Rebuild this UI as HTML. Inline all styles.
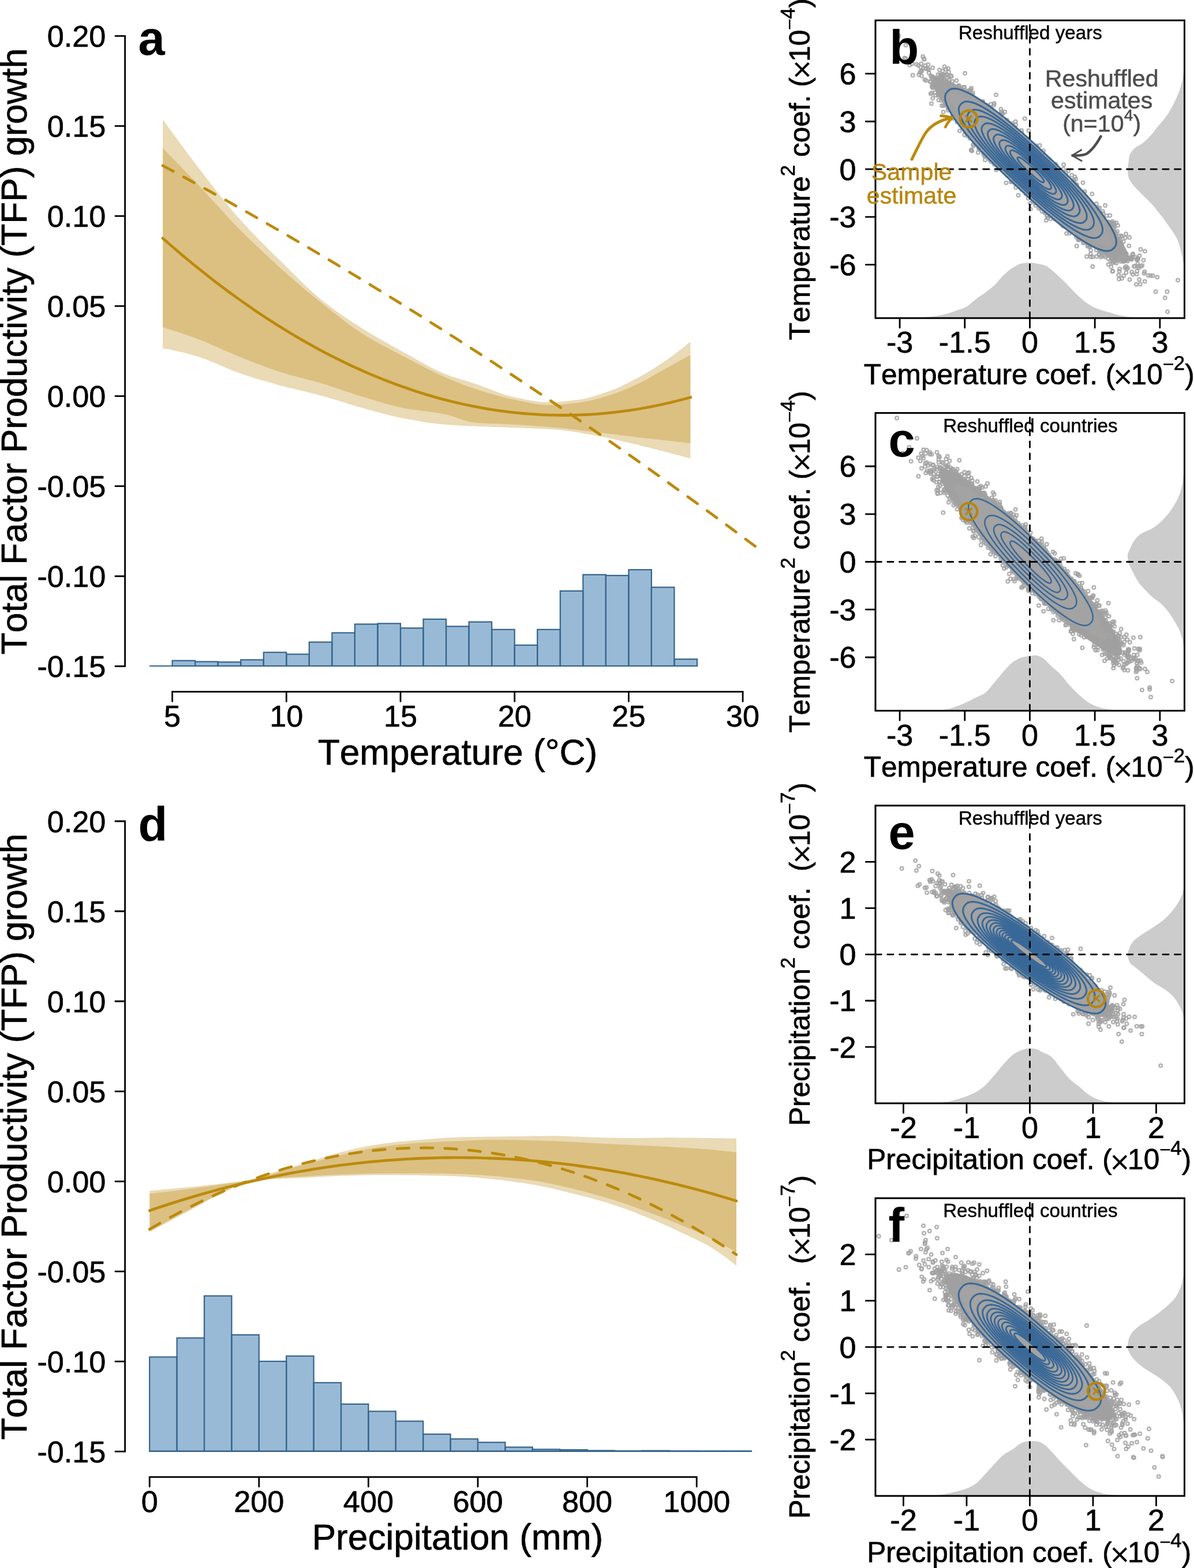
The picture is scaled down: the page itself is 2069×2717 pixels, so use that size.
<!DOCTYPE html>
<html lang="en"><head><meta charset="utf-8"><title>TFP growth vs temperature and precipitation</title>
<style>html,body{margin:0;padding:0;background:#fff}body{width:2069px;height:2717px;overflow:hidden}svg{display:block}text{font-kerning:none;white-space:pre}</style>
</head><body>
<svg xmlns="http://www.w3.org/2000/svg" width="2069" height="2717" viewBox="0 0 2069 2717" font-family='"Liberation Sans", Arial, Helvetica, sans-serif' fill="#000">
<rect width="2069" height="2717" fill="#fff"/>
<g transform="translate(0 0)">
<path d="M282.1 207.1L287.1 214.1L292.1 221L297.1 227.9L302.1 234.8L307.1 241.6L312.1 248.4L317.1 255.1L322.1 261.8L327.1 268.5L332.1 275.1L337.1 281.7L342.1 288.2L347.1 294.7L352 301.2L357 307.7L362 314.2L367 320.7L372 327.1L377 333.5L382 339.8L387 346.1L392 352.3L397 358.4L402 364.4L407 370.2L412 376L417 381.6L422 387.1L427 392.6L432 397.9L437 403.1L442 408.3L447 413.4L452 418.4L457 423.4L462 428.4L467 433.4L472 438.3L477 443.2L481.9 448.1L486.9 453L491.9 458L496.9 463L501.9 468L506.9 473L511.9 478L516.9 482.9L521.9 487.8L526.9 492.7L531.9 497.4L536.9 502.1L541.9 506.6L546.9 511L551.9 515.3L556.9 519.4L561.9 523.4L566.9 527.3L571.9 531.1L576.9 534.8L581.9 538.4L586.9 542L591.9 545.5L596.9 548.9L601.9 552.3L606.9 555.6L611.8 558.9L616.8 562.1L621.8 565.3L626.8 568.5L631.8 571.6L636.8 574.7L641.8 577.8L646.8 580.7L651.8 583.7L656.8 586.6L661.8 589.5L666.8 592.3L671.8 595.1L676.8 597.9L681.8 600.7L686.8 603.4L691.8 606.2L696.8 608.9L701.8 611.7L706.8 614.5L711.8 617.3L716.8 620.1L721.8 623L726.8 625.8L731.8 628.6L736.8 631.4L741.7 634.1L746.7 636.8L751.7 639.3L756.7 641.8L761.7 644.1L766.7 646.3L771.7 648.3L776.7 650.2L781.7 652L786.7 653.6L791.7 655.2L796.7 656.7L801.7 658.2L806.7 659.7L811.7 661.2L816.7 662.8L821.7 664.4L826.7 666.1L831.7 667.9L836.7 669.7L841.7 671.6L846.7 673.6L851.7 675.5L856.7 677.4L861.7 679.3L866.7 681L871.6 682.8L876.6 684.4L881.6 685.8L886.6 687.2L891.6 688.3L896.6 689.4L901.6 690.4L906.6 691.5L911.6 692.5L916.6 693.4L921.6 694.3L926.6 695.1L931.6 695.8L936.6 696.4L941.6 696.8L946.6 697.1L951.6 697.1L956.6 697L961.6 696.8L966.6 696.5L971.6 696.1L976.6 695.6L981.6 695.1L986.6 694.6L991.6 694L996.6 693.3L1001.5 692.7L1006.5 691.9L1011.5 691L1016.5 689.9L1021.5 688.6L1026.5 687.3L1031.5 685.8L1036.5 684.3L1041.5 682.6L1046.5 681L1051.5 679.3L1056.5 677.6L1061.5 675.7L1066.5 673.7L1071.5 671.5L1076.5 669.2L1081.5 666.8L1086.5 664.3L1091.5 661.8L1096.5 659.2L1101.5 656.6L1106.5 653.9L1111.5 651.2L1116.5 648.4L1121.5 645.6L1126.5 642.6L1131.4 639.5L1136.4 636.3L1141.4 633.1L1146.4 629.7L1151.4 626.3L1156.4 622.9L1161.4 619.3L1166.4 615.7L1171.4 611.9L1176.4 608.1L1181.4 604.3L1186.4 600.3L1191.4 596.2L1196.4 592.1L1196.4 794.6L1191.4 793.2L1186.4 791.8L1181.4 790.5L1176.4 789.1L1171.4 787.8L1166.4 786.4L1161.4 785.1L1156.4 783.8L1151.4 782.5L1146.4 781.2L1141.4 779.9L1136.4 778.6L1131.4 777.4L1126.5 776.1L1121.5 774.9L1116.5 773.7L1111.5 772.5L1106.5 771.2L1101.5 770L1096.5 768.8L1091.5 767.6L1086.5 766.4L1081.5 765.2L1076.5 764.1L1071.5 762.9L1066.5 761.7L1061.5 760.6L1056.5 759.5L1051.5 758.5L1046.5 757.5L1041.5 756.5L1036.5 755.5L1031.5 754.6L1026.5 753.7L1021.5 752.8L1016.5 751.9L1011.5 751L1006.5 750.1L1001.5 749.3L996.6 748.5L991.6 747.7L986.6 747L981.6 746.4L976.6 745.8L971.6 745.2L966.6 744.8L961.6 744.4L956.6 744.1L951.6 743.7L946.6 743.5L941.6 743.2L936.6 742.9L931.6 742.7L926.6 742.5L921.6 742.3L916.6 742L911.6 741.8L906.6 741.6L901.6 741.4L896.6 741.3L891.6 741L886.6 740.9L881.6 740.7L876.6 740.5L871.6 740.3L866.7 740.2L861.7 740L856.7 739.9L851.7 739.7L846.7 739.5L841.7 739.4L836.7 739.2L831.7 739L826.7 738.8L821.7 738.6L816.7 738.4L811.7 738.2L806.7 737.9L801.7 737.7L796.7 737.4L791.7 737.1L786.7 736.8L781.7 736.5L776.7 736.1L771.7 735.7L766.7 735.3L761.7 734.8L756.7 734.2L751.7 733.6L746.7 732.9L741.7 732.2L736.8 731.5L731.8 730.7L726.8 729.8L721.8 729L716.8 728.1L711.8 727.2L706.8 726.3L701.8 725.3L696.8 724.4L691.8 723.4L686.8 722.3L681.8 721.2L676.8 720L671.8 718.7L666.8 717.5L661.8 716.2L656.8 714.8L651.8 713.5L646.8 712.1L641.8 710.7L636.8 709.4L631.8 708L626.8 706.6L621.8 705.2L616.8 703.8L611.8 702.3L606.9 700.7L601.9 699.2L596.9 697.6L591.9 696.1L586.9 694.5L581.9 693L576.9 691.4L571.9 689.9L566.9 688.5L561.9 687L556.9 685.6L551.9 684.3L546.9 683L541.9 681.8L536.9 680.5L531.9 679.3L526.9 678.1L521.9 676.9L516.9 675.7L511.9 674.5L506.9 673.3L501.9 672.1L496.9 670.9L491.9 669.6L486.9 668.2L481.9 666.9L477 665.5L472 664.1L467 662.7L462 661.3L457 659.8L452 658.4L447 656.9L442 655.4L437 653.8L432 652.2L427 650.6L422 649L417 647.3L412 645.6L407 643.7L402 641.8L397 639.7L392 637.6L387 635.4L382 633.2L377 631L372 628.8L367 626.7L362 624.7L357 622.7L352 620.9L347.1 619.2L342.1 617.7L337.1 616.2L332.1 614.8L327.1 613.4L322.1 612.1L317.1 610.8L312.1 609.6L307.1 608.5L302.1 607.4L297.1 606.3L292.1 605.3L287.1 604.4L282.1 603.6Z" fill="#B8860B" fill-opacity="0.3"/>
<path d="M282.1 257.1L287.1 262.1L292.1 267.2L297.1 272.3L302.1 277.3L307.1 282.5L312.1 287.6L317.1 292.7L322.1 297.9L327.1 303.1L332.1 308.3L337.1 313.5L342.1 318.7L347.1 324L352 329.3L357 334.7L362 340.2L367 345.7L372 351.1L377 356.6L382 362.1L387 367.6L392 373L397 378.4L402 383.7L407 388.9L412 394.1L417 399.1L422 404.1L427 409.1L432 414L437 418.8L442 423.7L447 428.5L452 433.2L457 437.9L462 442.6L467 447.2L472 451.8L477 456.4L481.9 460.9L486.9 465.4L491.9 469.9L496.9 474.3L501.9 478.7L506.9 483.1L511.9 487.4L516.9 491.7L521.9 496L526.9 500.2L531.9 504.4L536.9 508.6L541.9 512.7L546.9 516.8L551.9 520.8L556.9 524.8L561.9 528.8L566.9 532.8L571.9 536.8L576.9 540.8L581.9 544.7L586.9 548.6L591.9 552.5L596.9 556.3L601.9 560L606.9 563.7L611.8 567.3L616.8 570.8L621.8 574.2L626.8 577.5L631.8 580.6L636.8 583.7L641.8 586.7L646.8 589.6L651.8 592.4L656.8 595.2L661.8 597.9L666.8 600.6L671.8 603.2L676.8 605.8L681.8 608.4L686.8 611L691.8 613.6L696.8 616.2L701.8 618.8L706.8 621.5L711.8 624.1L716.8 626.7L721.8 629.3L726.8 631.9L731.8 634.5L736.8 637.1L741.7 639.6L746.7 642.1L751.7 644.5L756.7 646.9L761.7 649.3L766.7 651.5L771.7 653.7L776.7 655.9L781.7 658L786.7 660.1L791.7 662.2L796.7 664.2L801.7 666.2L806.7 668L811.7 669.9L816.7 671.6L821.7 673.3L826.7 674.9L831.7 676.5L836.7 678.1L841.7 679.6L846.7 681.2L851.7 682.6L856.7 684.1L861.7 685.5L866.7 686.8L871.6 688.1L876.6 689.3L881.6 690.5L886.6 691.6L891.6 692.6L896.6 693.7L901.6 694.7L906.6 695.8L911.6 696.8L916.6 697.8L921.6 698.8L926.6 699.7L931.6 700.4L936.6 701L941.6 701.5L946.6 701.7L951.6 701.8L956.6 701.7L961.6 701.5L966.6 701.3L971.6 700.9L976.6 700.6L981.6 700.1L986.6 699.6L991.6 699.1L996.6 698.6L1001.5 698L1006.5 697.3L1011.5 696.5L1016.5 695.5L1021.5 694.5L1026.5 693.3L1031.5 692L1036.5 690.6L1041.5 689.2L1046.5 687.8L1051.5 686.3L1056.5 684.8L1061.5 683.2L1066.5 681.5L1071.5 679.6L1076.5 677.7L1081.5 675.7L1086.5 673.6L1091.5 671.4L1096.5 669.2L1101.5 666.9L1106.5 664.6L1111.5 662.2L1116.5 659.6L1121.5 656.8L1126.5 654L1131.4 651.1L1136.4 648.2L1141.4 645.4L1146.4 642.6L1151.4 639.9L1156.4 637.1L1161.4 634.4L1166.4 631.6L1171.4 628.8L1176.4 626.1L1181.4 623.3L1186.4 620.5L1191.4 617.8L1196.4 615L1196.4 767.9L1191.4 767.4L1186.4 766.8L1181.4 766.3L1176.4 765.7L1171.4 765.2L1166.4 764.6L1161.4 764.1L1156.4 763.5L1151.4 763L1146.4 762.4L1141.4 761.8L1136.4 761.3L1131.4 760.7L1126.5 760.1L1121.5 759.6L1116.5 759L1111.5 758.4L1106.5 757.8L1101.5 757.2L1096.5 756.6L1091.5 756.1L1086.5 755.4L1081.5 754.8L1076.5 754.2L1071.5 753.6L1066.5 753L1061.5 752.4L1056.5 751.8L1051.5 751.2L1046.5 750.6L1041.5 750L1036.5 749.4L1031.5 748.8L1026.5 748.2L1021.5 747.6L1016.5 747L1011.5 746.4L1006.5 745.8L1001.5 745.2L996.6 744.6L991.6 744L986.6 743.4L981.6 742.8L976.6 742.3L971.6 741.8L966.6 741.3L961.6 740.9L956.6 740.4L951.6 740L946.6 739.6L941.6 739.1L936.6 738.7L931.6 738.4L926.6 738L921.6 737.6L916.6 737.3L911.6 736.9L906.6 736.6L901.6 736.2L896.6 735.9L891.6 735.6L886.6 735.4L881.6 735.1L876.6 734.9L871.6 734.7L866.7 734.5L861.7 734.3L856.7 734.1L851.7 733.9L846.7 733.7L841.7 733.5L836.7 733.2L831.7 732.9L826.7 732.5L821.7 732.1L816.7 731.5L811.7 730.4L806.7 729.1L801.7 727.5L796.7 725.8L791.7 724L786.7 722.3L781.7 720.6L776.7 719.2L771.7 718L766.7 717L761.7 716.1L756.7 715.3L751.7 714.6L746.7 713.9L741.7 713.2L736.8 712.6L731.8 711.9L726.8 711.3L721.8 710.6L716.8 709.9L711.8 709.2L706.8 708.3L701.8 707.4L696.8 706.5L691.8 705.4L686.8 704.2L681.8 703L676.8 701.7L671.8 700.3L666.8 698.9L661.8 697.5L656.8 696L651.8 694.5L646.8 693L641.8 691.5L636.8 690L631.8 688.5L626.8 687L621.8 685.4L616.8 683.9L611.8 682.3L606.9 680.6L601.9 678.9L596.9 677.3L591.9 675.6L586.9 673.9L581.9 672.2L576.9 670.6L571.9 668.9L566.9 667.3L561.9 665.8L556.9 664.2L551.9 662.8L546.9 661.4L541.9 660L536.9 658.7L531.9 657.4L526.9 656.1L521.9 654.8L516.9 653.5L511.9 652.1L506.9 650.8L501.9 649.4L496.9 648L491.9 646.5L486.9 645L481.9 643.4L477 641.7L472 640L467 638.3L462 636.4L457 634.6L452 632.7L447 630.8L442 628.9L437 626.9L432 624.9L427 623L422 621L417 619L412 617L407 614.9L402 612.8L397 610.6L392 608.5L387 606.2L382 604L377 601.8L372 599.6L367 597.4L362 595.2L357 593.1L352 591.1L347.1 589.1L342.1 587.2L337.1 585.3L332.1 583.5L327.1 581.7L322.1 580L317.1 578.2L312.1 576.5L307.1 574.9L302.1 573.3L297.1 571.7L292.1 570.1L287.1 568.6L282.1 567.1Z" fill="#B8860B" fill-opacity="0.3"/>
<g fill="#4682B4" fill-opacity="0.55" stroke="#36648B" stroke-width="2.2" stroke-linejoin="miter">
<rect x="298.6" y="1144.7" width="39.5" height="9.3"/>
<rect x="338.1" y="1146.5" width="39.5" height="7.5"/>
<rect x="377.7" y="1147.2" width="39.5" height="6.8"/>
<rect x="417.2" y="1143.3" width="39.5" height="10.7"/>
<rect x="456.8" y="1130.4" width="39.5" height="23.6"/>
<rect x="496.3" y="1133.6" width="39.5" height="20.4"/>
<rect x="535.8" y="1112.6" width="39.5" height="41.4"/>
<rect x="575.4" y="1096.5" width="39.5" height="57.5"/>
<rect x="614.9" y="1081.5" width="39.5" height="72.5"/>
<rect x="654.5" y="1080.4" width="39.5" height="73.6"/>
<rect x="694" y="1088.3" width="39.5" height="65.7"/>
<rect x="733.5" y="1072.9" width="39.5" height="81.1"/>
<rect x="773.1" y="1085.4" width="39.5" height="68.6"/>
<rect x="812.6" y="1077.6" width="39.5" height="76.4"/>
<rect x="852.2" y="1090.8" width="39.5" height="63.2"/>
<rect x="891.7" y="1117.9" width="39.5" height="36.1"/>
<rect x="931.2" y="1090.8" width="39.5" height="63.2"/>
<rect x="970.8" y="1024" width="39.5" height="130"/>
<rect x="1010.3" y="995.8" width="39.5" height="158.2"/>
<rect x="1049.9" y="997.2" width="39.5" height="156.8"/>
<rect x="1089.4" y="987.2" width="39.5" height="166.8"/>
<rect x="1128.9" y="1017.6" width="39.5" height="136.4"/>
<rect x="1168.5" y="1142.2" width="39.5" height="11.8"/>
</g>
<path d="M259.1 1154H1208" stroke="#36648B" stroke-width="2.2" fill="none"/>
<path d="M282 412.9L293.6 423L305.2 433L316.7 442.8L328.3 452.5L339.9 461.9L351.5 471.2L363.1 480.3L374.6 489.3L386.2 498.1L397.8 506.7L409.4 515.1L421 523.4L432.6 531.5L444.1 539.4L455.7 547.2L467.3 554.8L478.9 562.2L490.5 569.4L502 576.5L513.6 583.4L525.2 590.1L536.8 596.7L548.4 603.1L560 609.3L571.5 615.4L583.1 621.2L594.7 626.9L606.3 632.5L617.9 637.8L629.4 643L641 648.1L652.6 652.9L664.2 657.6L675.8 662.1L687.4 666.5L698.9 670.6L710.5 674.6L722.1 678.5L733.7 682.1L745.3 685.6L756.8 688.9L768.4 692.1L780 695L791.6 697.8L803.2 700.5L814.8 702.9L826.3 705.2L837.9 707.4L849.5 709.3L861.1 711.1L872.7 712.7L884.2 714.1L895.8 715.4L907.4 716.5L919 717.4L930.6 718.2L942.2 718.8L953.7 719.2L965.3 719.4L976.9 719.5L988.5 719.4L1000.1 719.1L1011.6 718.7L1023.2 718.1L1034.8 717.3L1046.4 716.3L1058 715.2L1069.5 713.9L1081.1 712.4L1092.7 710.8L1104.3 709L1115.9 707L1127.5 704.9L1139 702.5L1150.6 700L1162.2 697.4L1173.8 694.5L1185.4 691.5L1196.9 688.4" fill="none" stroke="#BC8A0D" stroke-width="4.8" stroke-linecap="round" stroke-linejoin="round"/>
<path d="M282 287L295 294L308.1 301.1L321.1 308.2L334.1 315.3L347.2 322.5L360.2 329.7L373.2 336.9L386.3 344.1L399.3 351.4L412.3 358.8L425.4 366.1L438.4 373.5L451.4 381L464.5 388.5L477.5 396L490.5 403.5L503.6 411.1L516.6 418.7L529.6 426.3L542.7 434L555.7 441.7L568.7 449.5L581.8 457.3L594.8 465.1L607.8 473L620.9 480.9L633.9 488.8L646.9 496.7L660 504.7L673 512.8L686 520.8L699.1 528.9L712.1 537.1L725.1 545.2L738.2 553.4L751.2 561.7L764.2 569.9L777.3 578.3L790.3 586.6L803.3 595L816.4 603.4L829.4 611.8L842.4 620.3L855.5 628.8L868.5 637.4L881.5 646L894.6 654.6L907.6 663.2L920.6 671.9L933.7 680.7L946.7 689.4L959.7 698.2L972.8 707L985.8 715.9L998.8 724.8L1011.9 733.7L1024.9 742.7L1037.9 751.7L1051 760.8L1064 769.8L1077 778.9L1090.1 788.1L1103.1 797.3L1116.1 806.5L1129.2 815.7L1142.2 825L1155.2 834.3L1168.2 843.7L1181.3 853.1L1194.3 862.5L1207.3 871.9L1220.4 881.4L1233.4 890.9L1246.4 900.5L1259.5 910.1L1272.5 919.7L1285.5 929.4L1298.6 939.1L1311.6 948.8" fill="none" stroke="#BC8A0D" stroke-width="4.8" stroke-linecap="round" stroke-linejoin="round" stroke-dasharray="20.7 20.7"/>
<g stroke="#000" stroke-width="2.8" stroke-linecap="round" fill="none">
<path d="M216.6 62.3V1154.5"/>
<path d="M199.9 62.3H216.6M199.9 218.3H216.6M199.9 374.3H216.6M199.9 530.4H216.6M199.9 686.4H216.6M199.9 842.4H216.6M199.9 998.5H216.6M199.9 1154.5H216.6"/>
<path d="M298.6 1198.7H1287.1"/>
<path d="M298.6 1198.7V1215.4M496.3 1198.7V1215.4M694 1198.7V1215.4M891.7 1198.7V1215.4M1089.4 1198.7V1215.4M1287.1 1198.7V1215.4"/>
</g>
<g font-size="52.2" text-anchor="end" stroke="#000" stroke-width="0.7" stroke-linejoin="round">
<text x="183.4" y="81">0.20</text>
<text x="183.4" y="237">0.15</text>
<text x="183.4" y="393">0.10</text>
<text x="183.4" y="549.1">0.05</text>
<text x="183.4" y="705.1">0.00</text>
<text x="183.4" y="861.1">-0.05</text>
<text x="183.4" y="1017.2">-0.10</text>
<text x="183.4" y="1173.2">-0.15</text>
</g>
<g font-size="52.2" text-anchor="middle" stroke="#000" stroke-width="0.7" stroke-linejoin="round">
<text x="298.6" y="1259.2">5</text>
<text x="496.3" y="1259.2">10</text>
<text x="694" y="1259.2">15</text>
<text x="891.7" y="1259.2">20</text>
<text x="1089.4" y="1259.2">25</text>
<text x="1287.1" y="1259.2">30</text>
</g>
<text x="792.9" y="1324.5" font-size="62.2" text-anchor="middle" stroke="#000" stroke-width="0.7" stroke-linejoin="round">Temperature (°C)</text>
<text transform="translate(45.6 608.9) rotate(-90)" font-size="62.2" text-anchor="middle" stroke="#000" stroke-width="0.7" stroke-linejoin="round">Total Factor Productivity (TFP) growth</text>
<text x="239.4" y="94.8" font-size="83" font-weight="bold">a</text>
</g>
<g transform="translate(0 1360.7)">
<path d="M259.3 702.6L264.3 702.2L269.3 701.7L274.3 701.3L279.3 700.9L284.3 700.4L289.4 699.9L294.4 699.5L299.4 699L304.4 698.5L309.4 698L314.4 697.6L319.4 697.1L324.4 696.6L329.4 696.1L334.4 695.5L339.4 695L344.4 694.5L349.5 694L354.5 693.4L359.5 692.9L364.5 692.3L369.5 691.8L374.5 691.2L379.5 690.6L384.5 690L389.5 689.5L394.5 688.9L399.5 688.3L404.5 687.7L409.6 687.1L414.6 686.6L419.6 685.9L424.6 685.2L429.6 684.4L434.6 683.3L439.6 682L444.6 680.5L449.6 678.8L454.6 677.1L459.6 675.4L464.6 673.9L469.7 672.4L474.7 670.9L479.7 669.4L484.7 667.9L489.7 666.4L494.7 664.9L499.7 663.4L504.7 661.9L509.7 660.4L514.7 658.9L519.7 657.4L524.7 655.9L529.8 654.4L534.8 652.9L539.8 651.3L544.8 649.7L549.8 648.1L554.8 646.5L559.8 644.9L564.8 643.3L569.8 641.8L574.8 640.3L579.8 638.8L584.8 637.4L589.9 636L594.9 634.7L599.9 633.5L604.9 632.4L609.9 631.2L614.9 630L619.9 628.9L624.9 627.8L629.9 626.8L634.9 625.8L639.9 624.8L644.9 623.9L650 623L655 622.2L660 621.5L665 620.8L670 620.1L675 619.5L680 619L685 618.4L690 617.9L695 617.4L700 616.9L705 616.4L710.1 616L715.1 615.6L720.1 615.1L725.1 614.7L730.1 614.3L735.1 613.9L740.1 613.4L745.1 613L750.1 612.6L755.1 612.1L760.1 611.7L765.1 611.3L770.2 611L775.2 610.7L780.2 610.4L785.2 610.2L790.2 610L795.2 609.9L800.2 609.7L805.2 609.6L810.2 609.5L815.2 609.4L820.2 609.3L825.2 609.2L830.3 609.1L835.3 609L840.3 609L845.3 608.9L850.3 608.8L855.3 608.8L860.3 608.7L865.3 608.6L870.3 608.6L875.3 608.5L880.3 608.5L885.3 608.4L890.4 608.3L895.4 608.3L900.4 608.2L905.4 608.1L910.4 608.1L915.4 608L920.4 607.9L925.4 607.9L930.4 607.8L935.4 607.7L940.4 607.7L945.4 607.7L950.5 607.6L955.5 607.6L960.5 607.6L965.5 607.6L970.5 607.7L975.5 607.9L980.5 608L985.5 608.2L990.5 608.5L995.5 608.7L1000.5 608.9L1005.5 609.2L1010.6 609.4L1015.6 609.6L1020.6 609.8L1025.6 610L1030.6 610.1L1035.6 610.2L1040.6 610.4L1045.6 610.5L1050.6 610.6L1055.6 610.8L1060.6 610.9L1065.6 611L1070.7 611.1L1075.7 611.2L1080.7 611.2L1085.7 611.3L1090.7 611.3L1095.7 611.3L1100.7 611.3L1105.7 611.2L1110.7 611.2L1115.7 611.1L1120.7 611L1125.7 611L1130.8 610.9L1135.8 610.8L1140.8 610.7L1145.8 610.7L1150.8 610.6L1155.8 610.6L1160.8 610.6L1165.8 610.6L1170.8 610.6L1175.8 610.7L1180.8 610.7L1185.8 610.8L1190.9 610.8L1195.9 610.9L1200.9 610.9L1205.9 611L1210.9 611.1L1215.9 611.2L1220.9 611.2L1225.9 611.3L1230.9 611.4L1235.9 611.4L1240.9 611.5L1245.9 611.6L1251 611.6L1256 611.7L1261 611.8L1266 611.8L1271 611.9L1276 612L1276 832.6L1271 828.5L1266 824.5L1261 820.6L1256 816.8L1251 813.2L1245.9 809.7L1240.9 806.4L1235.9 803.2L1230.9 800.1L1225.9 797.1L1220.9 794.4L1215.9 791.8L1210.9 789.3L1205.9 786.9L1200.9 784.6L1195.9 782.2L1190.9 779.8L1185.8 777.5L1180.8 775.1L1175.8 772.8L1170.8 770.4L1165.8 768.1L1160.8 765.8L1155.8 763.5L1150.8 761.3L1145.8 759.1L1140.8 756.9L1135.8 754.8L1130.8 752.7L1125.7 750.6L1120.7 748.6L1115.7 746.5L1110.7 744.5L1105.7 742.5L1100.7 740.6L1095.7 738.6L1090.7 736.7L1085.7 734.9L1080.7 733L1075.7 731.3L1070.7 729.5L1065.6 727.8L1060.6 726.2L1055.6 724.6L1050.6 723.1L1045.6 721.6L1040.6 720.1L1035.6 718.7L1030.6 717.3L1025.6 715.9L1020.6 714.6L1015.6 713.3L1010.6 712L1005.5 710.7L1000.5 709.4L995.5 708.2L990.5 706.9L985.5 705.7L980.5 704.4L975.5 703.2L970.5 702L965.5 700.8L960.5 699.6L955.5 698.4L950.5 697.3L945.4 696.2L940.4 695.2L935.4 694.2L930.4 693.3L925.4 692.4L920.4 691.5L915.4 690.7L910.4 689.9L905.4 689.1L900.4 688.4L895.4 687.7L890.4 687L885.3 686.3L880.3 685.6L875.3 685L870.3 684.4L865.3 683.9L860.3 683.3L855.3 682.8L850.3 682.3L845.3 681.8L840.3 681.3L835.3 680.8L830.3 680.4L825.2 679.9L820.2 679.5L815.2 679.1L810.2 678.7L805.2 678.4L800.2 678.1L795.2 677.8L790.2 677.6L785.2 677.4L780.2 677.2L775.2 677.1L770.2 676.9L765.1 676.8L760.1 676.6L755.1 676.5L750.1 676.4L745.1 676.3L740.1 676.2L735.1 676.1L730.1 676L725.1 675.9L720.1 675.8L715.1 675.8L710.1 675.7L705 675.6L700 675.6L695 675.5L690 675.4L685 675.4L680 675.4L675 675.3L670 675.3L665 675.3L660 675.3L655 675.3L650 675.4L644.9 675.4L639.9 675.5L634.9 675.6L629.9 675.7L624.9 675.8L619.9 676L614.9 676.1L609.9 676.2L604.9 676.4L599.9 676.5L594.9 676.7L589.9 676.8L584.8 677L579.8 677.2L574.8 677.5L569.8 677.8L564.8 678L559.8 678.3L554.8 678.6L549.8 678.9L544.8 679.2L539.8 679.5L534.8 679.8L529.8 680L524.7 680.3L519.7 680.5L514.7 680.7L509.7 680.9L504.7 681.1L499.7 681.3L494.7 681.5L489.7 681.8L484.7 682L479.7 682.3L474.7 682.5L469.7 682.9L464.6 683.2L459.6 683.6L454.6 684.1L449.6 684.6L444.6 685.2L439.6 685.9L434.6 686.8L429.6 687.7L424.6 689L419.6 690.7L414.6 692.7L409.6 695L404.5 697.3L399.5 699.7L394.5 702L389.5 704.3L384.5 706.8L379.5 709.3L374.5 711.9L369.5 714.5L364.5 717.2L359.5 719.9L354.5 722.7L349.5 725.4L344.4 728.2L339.4 730.9L334.4 733.6L329.4 736.3L324.4 739L319.4 741.7L314.4 744.3L309.4 747L304.4 749.7L299.4 752.4L294.4 755.2L289.4 757.9L284.3 760.6L279.3 763.3L274.3 766.1L269.3 768.8L264.3 771.5L259.3 774.3Z" fill="#B8860B" fill-opacity="0.3"/>
<path d="M259.3 707.6L264.3 707.1L269.3 706.5L274.3 706L279.3 705.4L284.3 704.8L289.4 704.3L294.4 703.7L299.4 703.1L304.4 702.5L309.4 701.9L314.4 701.3L319.4 700.6L324.4 700L329.4 699.4L334.4 698.7L339.4 698.1L344.4 697.4L349.5 696.7L354.5 696L359.5 695.3L364.5 694.6L369.5 693.9L374.5 693.2L379.5 692.4L384.5 691.7L389.5 691L394.5 690.3L399.5 689.6L404.5 689L409.6 688.3L414.6 687.7L419.6 687L424.6 686.2L429.6 685.4L434.6 684.3L439.6 683.1L444.6 681.7L449.6 680.1L454.6 678.6L459.6 677.1L464.6 675.6L469.7 674.2L474.7 672.7L479.7 671.2L484.7 669.8L489.7 668.3L494.7 666.8L499.7 665.3L504.7 663.8L509.7 662.4L514.7 660.9L519.7 659.5L524.7 658.1L529.8 656.7L534.8 655.3L539.8 653.9L544.8 652.5L549.8 651.2L554.8 649.8L559.8 648.5L564.8 647.2L569.8 645.9L574.8 644.6L579.8 643.3L584.8 642.1L589.9 640.9L594.9 639.7L599.9 638.6L604.9 637.4L609.9 636.3L614.9 635.2L619.9 634.1L624.9 633L629.9 631.9L634.9 630.9L639.9 629.9L644.9 628.9L650 628L655 627.2L660 626.5L665 625.8L670 625.1L675 624.5L680 623.9L685 623.3L690 622.7L695 622.2L700 621.7L705 621.2L710.1 620.8L715.1 620.4L720.1 620L725.1 619.6L730.1 619.3L735.1 619L740.1 618.7L745.1 618.5L750.1 618.2L755.1 618L760.1 617.8L765.1 617.6L770.2 617.4L775.2 617.2L780.2 617L785.2 616.8L790.2 616.6L795.2 616.4L800.2 616.2L805.2 616L810.2 615.7L815.2 615.5L820.2 615.3L825.2 615.1L830.3 614.9L835.3 614.7L840.3 614.6L845.3 614.5L850.3 614.4L855.3 614.3L860.3 614.3L865.3 614.3L870.3 614.3L875.3 614.4L880.3 614.4L885.3 614.5L890.4 614.6L895.4 614.7L900.4 614.8L905.4 614.9L910.4 615.1L915.4 615.2L920.4 615.3L925.4 615.5L930.4 615.6L935.4 615.8L940.4 616L945.4 616.1L950.5 616.3L955.5 616.5L960.5 616.6L965.5 616.8L970.5 617L975.5 617.2L980.5 617.5L985.5 617.7L990.5 618L995.5 618.3L1000.5 618.6L1005.5 618.8L1010.6 619.1L1015.6 619.4L1020.6 619.7L1025.6 619.9L1030.6 620.2L1035.6 620.4L1040.6 620.7L1045.6 620.9L1050.6 621.2L1055.6 621.4L1060.6 621.7L1065.6 621.9L1070.7 622.2L1075.7 622.4L1080.7 622.7L1085.7 622.9L1090.7 623.2L1095.7 623.4L1100.7 623.7L1105.7 623.9L1110.7 624.1L1115.7 624.4L1120.7 624.6L1125.7 624.8L1130.8 625.1L1135.8 625.3L1140.8 625.6L1145.8 625.8L1150.8 626.1L1155.8 626.4L1160.8 626.6L1165.8 626.9L1170.8 627.2L1175.8 627.5L1180.8 627.8L1185.8 628.1L1190.9 628.4L1195.9 628.8L1200.9 629.1L1205.9 629.4L1210.9 629.8L1215.9 630.2L1220.9 630.5L1225.9 630.9L1230.9 631.4L1235.9 631.8L1240.9 632.3L1245.9 632.7L1251 633.2L1256 633.8L1261 634.3L1266 634.9L1271 635.4L1276 636L1276 809.3L1271 806.3L1266 803.4L1261 800.6L1256 797.8L1251 795.1L1245.9 792.4L1240.9 789.8L1235.9 787.2L1230.9 784.7L1225.9 782.2L1220.9 779.8L1215.9 777.5L1210.9 775.2L1205.9 773L1200.9 770.8L1195.9 768.7L1190.9 766.6L1185.8 764.5L1180.8 762.4L1175.8 760.3L1170.8 758.2L1165.8 756.2L1160.8 754.2L1155.8 752.2L1150.8 750.2L1145.8 748.3L1140.8 746.3L1135.8 744.4L1130.8 742.5L1125.7 740.6L1120.7 738.8L1115.7 736.9L1110.7 735.1L1105.7 733.2L1100.7 731.4L1095.7 729.6L1090.7 727.8L1085.7 726.1L1080.7 724.3L1075.7 722.6L1070.7 721L1065.6 719.4L1060.6 717.8L1055.6 716.3L1050.6 714.8L1045.6 713.3L1040.6 711.8L1035.6 710.4L1030.6 709L1025.6 707.6L1020.6 706.2L1015.6 704.9L1010.6 703.6L1005.5 702.3L1000.5 701.1L995.5 699.8L990.5 698.6L985.5 697.4L980.5 696.3L975.5 695.1L970.5 693.9L965.5 692.8L960.5 691.7L955.5 690.6L950.5 689.5L945.4 688.5L940.4 687.6L935.4 686.7L930.4 685.9L925.4 685.1L920.4 684.4L915.4 683.7L910.4 683L905.4 682.3L900.4 681.7L895.4 681.1L890.4 680.5L885.3 680L880.3 679.5L875.3 679L870.3 678.5L865.3 678L860.3 677.6L855.3 677.2L850.3 676.8L845.3 676.4L840.3 676L835.3 675.6L830.3 675.3L825.2 674.9L820.2 674.6L815.2 674.3L810.2 674L805.2 673.8L800.2 673.6L795.2 673.4L790.2 673.3L785.2 673.2L780.2 673.1L775.2 673L770.2 672.9L765.1 672.9L760.1 672.8L755.1 672.7L750.1 672.7L745.1 672.7L740.1 672.6L735.1 672.6L730.1 672.6L725.1 672.6L720.1 672.6L715.1 672.6L710.1 672.6L705 672.6L700 672.6L695 672.6L690 672.6L685 672.6L680 672.6L675 672.6L670 672.6L665 672.6L660 672.6L655 672.6L650 672.7L644.9 672.8L639.9 672.9L634.9 673L629.9 673.2L624.9 673.3L619.9 673.5L614.9 673.7L609.9 673.8L604.9 674L599.9 674.2L594.9 674.4L589.9 674.5L584.8 674.7L579.8 675L574.8 675.2L569.8 675.4L564.8 675.7L559.8 675.9L554.8 676.2L549.8 676.5L544.8 676.8L539.8 677L534.8 677.3L529.8 677.6L524.7 677.9L519.7 678.2L514.7 678.4L509.7 678.7L504.7 679L499.7 679.3L494.7 679.6L489.7 679.9L484.7 680.3L479.7 680.6L474.7 681L469.7 681.4L464.6 681.9L459.6 682.4L454.6 682.9L449.6 683.6L444.6 684.3L439.6 685.1L434.6 686.1L429.6 687.1L424.6 688.4L419.6 690.1L414.6 692.1L409.6 694.2L404.5 696.5L399.5 698.7L394.5 701L389.5 703.2L384.5 705.6L379.5 708.1L374.5 710.6L369.5 713.2L364.5 715.8L359.5 718.5L354.5 721.2L349.5 723.9L344.4 726.6L339.4 729.3L334.4 732L329.4 734.6L324.4 737.3L319.4 739.9L314.4 742.6L309.4 745.3L304.4 747.9L299.4 750.6L294.4 753.4L289.4 756.1L284.3 758.8L279.3 761.5L274.3 764.3L269.3 767.1L264.3 769.8L259.3 772.6Z" fill="#B8860B" fill-opacity="0.3"/>
<g fill="#4682B4" fill-opacity="0.55" stroke="#36648B" stroke-width="2.2" stroke-linejoin="miter">
<rect x="259.2" y="990.7" width="47.4" height="163.3"/>
<rect x="306.6" y="957.7" width="47.4" height="196.3"/>
<rect x="354" y="884.8" width="47.4" height="269.2"/>
<rect x="401.4" y="952.3" width="47.4" height="201.7"/>
<rect x="448.8" y="998.2" width="47.4" height="155.8"/>
<rect x="496.2" y="989" width="47.4" height="165"/>
<rect x="543.6" y="1035.2" width="47.4" height="118.8"/>
<rect x="591" y="1072.3" width="47.4" height="81.7"/>
<rect x="638.4" y="1084.8" width="47.4" height="69.2"/>
<rect x="685.8" y="1101.9" width="47.4" height="52.1"/>
<rect x="733.2" y="1124.4" width="47.4" height="29.6"/>
<rect x="780.6" y="1132.7" width="47.4" height="21.3"/>
<rect x="828" y="1138.6" width="47.4" height="15.4"/>
<rect x="875.4" y="1146.9" width="47.4" height="7.1"/>
<rect x="922.8" y="1150.7" width="47.4" height="3.3"/>
<rect x="970.2" y="1151.5" width="47.4" height="2.5"/>
<rect x="1017.6" y="1152.8" width="47.4" height="1.2"/>
<rect x="1065" y="1153.4" width="47.4" height="0.6"/>
<rect x="1112.4" y="1153" width="47.4" height="1"/>
<rect x="1159.8" y="1153.6" width="47.4" height="0.4"/>
<rect x="1207.2" y="1153.7" width="47.4" height="0.3"/>
<rect x="1254.6" y="1153.7" width="47.4" height="0.3"/>
</g>
<path d="M259.2 1154H1302" stroke="#36648B" stroke-width="2.2" fill="none"/>
<path d="M259.2 737L272.1 732.6L284.9 728.4L297.8 724.2L310.7 720.2L323.6 716.2L336.4 712.4L349.3 708.7L362.2 705L375 701.5L387.9 698.1L400.8 694.8L413.7 691.6L426.5 688.5L439.4 685.5L452.3 682.6L465.1 679.9L478 677.2L490.9 674.6L503.8 672.2L516.6 669.8L529.5 667.6L542.4 665.5L555.2 663.4L568.1 661.5L581 659.7L593.9 658L606.7 656.4L619.6 654.9L632.5 653.5L645.3 652.2L658.2 651.1L671.1 650L683.9 649.1L696.8 648.2L709.7 647.5L722.6 646.8L735.4 646.3L748.3 645.9L761.2 645.5L774 645.3L786.9 645.2L799.8 645.2L812.7 645.3L825.5 645.5L838.4 645.9L851.3 646.3L864.1 646.8L877 647.5L889.9 648.2L902.8 649.1L915.6 650L928.5 651.1L941.4 652.3L954.2 653.6L967.1 654.9L980 656.4L992.9 658L1005.7 659.8L1018.6 661.6L1031.5 663.5L1044.3 665.5L1057.2 667.6L1070.1 669.9L1083 672.2L1095.8 674.7L1108.7 677.3L1121.6 679.9L1134.4 682.7L1147.3 685.6L1160.2 688.6L1173.1 691.7L1185.9 694.9L1198.8 698.2L1211.7 701.6L1224.5 705.1L1237.4 708.7L1250.3 712.5L1263.2 716.3L1276 720.3" fill="none" stroke="#BC8A0D" stroke-width="4.8" stroke-linecap="round" stroke-linejoin="round"/>
<path d="M259.2 769.3L272.1 761.8L284.9 754.4L297.8 747.3L310.7 740.3L323.6 733.6L336.4 727.1L349.3 720.8L362.2 714.7L375 708.8L387.9 703.1L400.8 697.6L413.7 692.4L426.5 687.3L439.4 682.5L452.3 677.8L465.1 673.4L478 669.2L490.9 665.1L503.8 661.3L516.6 657.7L529.5 654.3L542.4 651.1L555.2 648.2L568.1 645.4L581 642.8L593.9 640.5L606.7 638.3L619.6 636.4L632.5 634.7L645.3 633.1L658.2 631.8L671.1 630.7L683.9 629.8L696.8 629.1L709.7 628.6L722.6 628.4L735.4 628.3L748.3 628.4L761.2 628.8L774 629.3L786.9 630.1L799.8 631.1L812.7 632.3L825.5 633.7L838.4 635.3L851.3 637.1L864.1 639.1L877 641.3L889.9 643.7L902.8 646.4L915.6 649.2L928.5 652.3L941.4 655.5L954.2 659L967.1 662.7L980 666.5L992.9 670.6L1005.7 674.9L1018.6 679.4L1031.5 684.2L1044.3 689.1L1057.2 694.2L1070.1 699.6L1083 705.1L1095.8 710.9L1108.7 716.8L1121.6 723L1134.4 729.4L1147.3 736L1160.2 742.8L1173.1 749.8L1185.9 757L1198.8 764.4L1211.7 772L1224.5 779.9L1237.4 787.9L1250.3 796.2L1263.2 804.6L1276 813.3" fill="none" stroke="#BC8A0D" stroke-width="4.8" stroke-linecap="round" stroke-linejoin="round" stroke-dasharray="20.7 20.7"/>
<g stroke="#000" stroke-width="2.8" stroke-linecap="round" fill="none">
<path d="M216.6 62.3V1154.5"/>
<path d="M199.9 62.3H216.6M199.9 218.3H216.6M199.9 374.3H216.6M199.9 530.4H216.6M199.9 686.4H216.6M199.9 842.4H216.6M199.9 998.5H216.6M199.9 1154.5H216.6"/>
<path d="M259.2 1198.7H1207.2"/>
<path d="M259.2 1198.7V1215.4M448.8 1198.7V1215.4M638.4 1198.7V1215.4M828 1198.7V1215.4M1017.6 1198.7V1215.4M1207.2 1198.7V1215.4"/>
</g>
<g font-size="52.2" text-anchor="end" stroke="#000" stroke-width="0.7" stroke-linejoin="round">
<text x="183.4" y="81">0.20</text>
<text x="183.4" y="237">0.15</text>
<text x="183.4" y="393">0.10</text>
<text x="183.4" y="549.1">0.05</text>
<text x="183.4" y="705.1">0.00</text>
<text x="183.4" y="861.1">-0.05</text>
<text x="183.4" y="1017.2">-0.10</text>
<text x="183.4" y="1173.2">-0.15</text>
</g>
<g font-size="52.2" text-anchor="middle" stroke="#000" stroke-width="0.7" stroke-linejoin="round">
<text x="259.2" y="1259.2">0</text>
<text x="448.8" y="1259.2">200</text>
<text x="638.4" y="1259.2">400</text>
<text x="828" y="1259.2">600</text>
<text x="1017.6" y="1259.2">800</text>
<text x="1207.2" y="1259.2">1000</text>
</g>
<text x="792.9" y="1324.5" font-size="62.2" text-anchor="middle" stroke="#000" stroke-width="0.7" stroke-linejoin="round">Precipitation (mm)</text>
<text transform="translate(45.6 608.9) rotate(-90)" font-size="62.2" text-anchor="middle" stroke="#000" stroke-width="0.7" stroke-linejoin="round">Total Factor Productivity (TFP) growth</text>
<text x="239.6" y="96" font-size="83" font-weight="bold">d</text>
</g>
<g transform="translate(0 0)">
<path d="M1585.3 551.2L1585.3 550.5L1588.3 550.5L1591.3 550.3L1594.3 550.2L1597.3 550L1600.3 549.8L1603.3 549.6L1606.3 549.4L1609.3 549.1L1612.3 548.9L1615.3 548.5L1618.3 548.2L1621.3 547.8L1624.3 547.3L1627.3 546.8L1630.3 546.2L1633.3 545.6L1636.4 544.9L1639.4 544.1L1642.4 543.3L1645.4 542.4L1648.4 541.3L1651.4 540.3L1654.4 539.2L1657.4 538.1L1660.4 537.1L1663.4 536.1L1666.4 535.2L1669.4 534.1L1672.4 532.8L1675.4 531.3L1678.4 529.1L1681.4 526.6L1684.4 523.9L1687.4 521.3L1690.4 518.9L1693.4 516.7L1696.4 514.6L1699.4 512.6L1702.4 510.5L1705.4 508.4L1708.4 506.2L1711.4 503.9L1714.4 501.6L1717.4 499.2L1720.4 496.7L1723.4 494L1726.4 490.8L1729.4 487.4L1732.5 483.8L1735.5 480.4L1738.5 477.2L1741.5 474.4L1744.5 471.7L1747.5 469.2L1750.5 466.8L1753.5 464.7L1756.5 462.9L1759.5 461.2L1762.5 459.6L1765.5 458.1L1768.5 457L1771.5 456.3L1774.5 456L1777.5 455.6L1780.5 455.4L1783.5 455.3L1786.5 455.3L1789.5 455.6L1792.5 456L1795.5 456.5L1798.5 457L1801.5 457.5L1804.5 458.2L1807.5 459L1810.5 459.9L1813.5 461.3L1816.5 463.3L1819.5 465.6L1822.5 467.9L1825.5 470.4L1828.5 473.1L1831.6 475.9L1834.6 478.8L1837.6 481.6L1840.6 484.5L1843.6 487.5L1846.6 490.6L1849.6 493.6L1852.6 496.7L1855.6 499.7L1858.6 502.8L1861.6 505.9L1864.6 508.9L1867.6 511.9L1870.6 514.6L1873.6 517.3L1876.6 519.9L1879.6 522.4L1882.6 524.7L1885.6 526.7L1888.6 528.6L1891.6 530.3L1894.6 531.9L1897.6 533.3L1900.6 534.6L1903.6 535.8L1906.6 536.8L1909.6 537.7L1912.6 538.5L1915.6 539.4L1918.6 540.2L1921.6 541.1L1924.6 542.1L1927.7 543L1930.7 544L1933.7 544.8L1936.7 545.6L1939.7 546.2L1942.7 546.9L1945.7 547.5L1948.7 548L1951.7 548.5L1954.7 549L1957.7 549.4L1960.7 549.8L1963.7 550.2L1966.7 550.4L1969.7 550.6L1972.7 550.8L1975.7 551L1978.7 551.1L1981.7 551.2L1984.7 551.2L1984.7 551.2Z" fill="#CCC"/>
<path d="M2052.5 102.1L2052.5 102.1L2052.5 105.1L2052.3 108.1L2052.2 111.1L2052 114.1L2051.7 117.1L2051.4 120.1L2051.1 123.1L2050.8 126.2L2050.5 129.2L2050 132.2L2049.5 135.2L2048.9 138.2L2048.3 141.2L2047.5 144.2L2046.8 147.2L2046 150.2L2045.1 153.2L2044.1 156.2L2043 159.2L2041.8 162.2L2040.5 165.2L2039.2 168.2L2037.8 171.2L2036.4 174.2L2035 177.2L2033.5 180.2L2032 183.2L2030.4 186.2L2028.7 189.3L2026.9 192.3L2025.1 195.3L2023.2 198.3L2021.1 201.3L2018.9 204.3L2016.5 207.3L2014 210.3L2011.5 213.3L2008.9 216.3L2006.4 219.3L2003.9 222.3L2001.6 225.3L1999.3 228.3L1996.9 231.3L1994.3 234.3L1991.6 237.3L1988.8 240.3L1985.7 243.3L1982.3 246.3L1977.9 249.4L1972.8 252.4L1967.9 255.4L1964.3 258.4L1961.8 261.4L1959.7 264.4L1958.1 267.4L1957.1 270.4L1956.5 273.4L1956.1 276.4L1955.7 279.4L1955.4 282.4L1954.9 285.4L1954.5 288.4L1954.1 291.4L1953.9 294.4L1954.1 297.4L1954.4 300.4L1954.8 303.4L1955.4 306.4L1956.4 309.4L1957.9 312.5L1959.8 315.5L1961.9 318.5L1964.2 321.5L1966.9 324.5L1969.8 327.5L1972.7 330.5L1975.6 333.5L1978.6 336.5L1981.7 339.5L1984.7 342.5L1987.8 345.5L1990.9 348.5L1993.9 351.5L1996.7 354.5L1999.3 357.5L2001.7 360.5L2004 363.5L2006.3 366.5L2008.8 369.5L2011.2 372.5L2013.6 375.6L2016 378.6L2018.1 381.6L2020.2 384.6L2022.3 387.6L2024.4 390.6L2026.5 393.6L2028.7 396.6L2030.8 399.6L2032.8 402.6L2034.8 405.6L2036.7 408.6L2038.5 411.6L2040 414.6L2041.2 417.6L2042.3 420.6L2043.3 423.6L2044.2 426.6L2045 429.6L2045.8 432.6L2046.5 435.6L2047.2 438.7L2047.9 441.7L2048.6 444.7L2049.2 447.7L2049.9 450.7L2050.4 453.7L2050.9 456.7L2051.3 459.7L2051.5 462.7L2051.7 465.7L2051.9 468.7L2052.1 471.7L2052.2 474.7L2052.3 477.7L2052.4 480.7L2052.5 483.7L2052.5 486.7L2052.5 486.7Z" fill="#CCC"/>
<ellipse rx="231.4" ry="35.4" transform="translate(1786 294.2) rotate(43.3)" fill="#A3A3A3"/>
<marker id="m1" markerWidth="12" markerHeight="12" refX="6" refY="6" markerUnits="userSpaceOnUse" overflow="visible"><circle cx="6" cy="6" r="2.8" fill="none" stroke="#A0A0A0" stroke-opacity="0.8" stroke-width="2.5"/></marker>
<polyline fill="none" stroke="none" marker-start="url(#m1)" marker-mid="url(#m1)" marker-end="url(#m1)" points="1816.5,364.6 1839,298.4 1627.4,153.7 1943.3,409.2 1672.1,127 1584.3,90.5 1656.1,151.3 1781.8,343.4 1841.7,383.1 1790.6,341.2 1970.3,469.5 1916.6,390.5 1935.4,445.5 1836.8,379.9 1704,254.9 1661.2,148.2 1733.1,198.2 1888,428.1 1913.9,388.2 1971.6,461.2 1935.4,450.4 1993.8,477.5 1730.8,201.8 1920.3,448.1 1634.8,146.3 1915.3,435.3 1650.4,141 1914.4,436 1634.7,194 1700.5,182.3 1820.4,369.6 1636.8,172.7 1722.4,198.5 1825.5,373.4 1627,154.8 1812.4,361 1603.3,113.5 1932,453.8 1782.2,240.6 1688.6,176.3 1620.3,160.4 1918.8,433.3 1942.2,452.9 1892.7,363.1 1785.3,338.6 1637.3,161.1 1922,438.1 1829.4,379.6 1861.3,315.3 1930.5,434 1859.5,321.7 1918.5,395 1645.2,152.2 1889.8,425.3 1882.6,341.2 1690.2,242.4 1625.8,161.3 1640.1,157 1841.6,383.9 1741.1,193.9 1802.9,263.1 1672.5,156.8 1839.9,388.6 1939,483.6 1923.4,400.4 1928.2,469.8 1886.1,418 1949.2,463.7 1806.3,270.5 1948.4,450.7 1815.9,362.3 1968,446.1 1830.3,293.7 1632.5,129.2 1934.3,386 1864.4,321 1929.4,417.3 2018.8,516.1 1656.7,152.5 1881.5,344.3 1889.1,352.8 1922.8,434.8 1750.5,303.7 1842.4,391.8 1629.7,148.6 1910,383 1874.4,408.1 1709,186.9 1724.8,277.7 1607.8,119 1661.9,148.8 1668.3,160 1880.8,411.6 1648.4,150.6 1890.7,356.2 1645,158.2 2002.6,505.4 1789.5,344.2 1907,431.4 1870,415.6 1939.7,470.1 1794.2,258.8 1784.8,336.4 1707.6,270.2 1902.8,428.3 1914,389.3 1623.6,148.3 1756.1,226.7 1909.3,433.5 1836.3,297.4 1926,436.2 1906.7,433.4 1933.9,426.3 1684.3,261.6 1905.3,374.9 1819.6,365.8 1807.5,267.6 1720.8,192.6 1650.3,150.6 1650.7,147.2 1723.3,277.9 1957.2,411.4 1706.8,186.5 2022.5,505.4 1928.2,394.6 1722.9,281.4 1814.1,373.7 1881.2,349.3 1911,382.2 1644.8,184.6 1907,371.4 1878,411.4 1678.2,168.7 1952.1,466 1870.5,412.8 1707,257.7 1653.2,193 1951.8,440.8 1731.2,289 1820.8,279.6 1713.4,267.4 1852.3,390.2 1764.6,338.4 1688.3,171.2 1929.5,395.2 1730.2,291.1 1789.4,348.6 1754.3,225.4 1732.5,206.1 1617,147.5 1557.2,62.5 1797,346.1 1928.8,430.9 1781.7,247 1680.8,239.7 1715,276.9 1900,361.3 1855.2,320.3 1773,328.7 1734.5,189.1 1928.5,416 1959.6,448.3 1617,137.1 1884.1,349.1 1922.9,389.8 1727,201.8 1782.5,226.4 1925.4,436.5 1940.2,438.8 1667.9,217.7 1694,178.7 1900.7,427.3 1674.2,222.4 1830.2,378.3 1696.1,256.3 1759.1,315.1 1604.8,139.5 1899.3,367.5 1808.5,354.9 1642,171.8 1634.6,183.2 1842.6,385 1649.1,185.9 1749.3,220.9 1877.6,334.9 1878,412.1 1795.8,252.7 1927.5,430.2 1682.7,166.8 1905,434.4 1753.6,224 1697.8,256.1 1812.8,381.8 1869.1,402.8 1777.8,335.7 1721.3,197.9 1737.6,196.8 1816.5,277.5 1837,378.3 1752.1,223 1927.9,453.1 1717,180.5 1884.6,426.5 1729,286.2 1843.4,303.2 1898.6,366.1 1711.7,267.9 1633.7,162.5 1902.4,370.8 1933.9,403.8 1862.6,306.2 1662,160.4 1713.1,191.5 1651.7,195.7 1652,205.1 1650.9,198.4 1929.5,400.8 1726.1,164.3 1658.2,199.9 1644.2,148.4 1745.6,302.5 1632.7,159.6 1793.6,346.9 1627.1,156.7 1933.4,429.4 1648.3,157.2 1820.3,379.3 1831.5,377.2 1961.2,471.4 1910.5,380.3 1582.3,84.4 1797.7,349.7 1860.5,311.7 1885.3,425.2 1855.9,321.6 1622.3,135.5 1705.1,266.9 1677.9,161.5 1974.1,484.5 1643.7,146.1 1948.5,447.3 1899.5,428 1888.1,356.7 1597.1,123 1940.4,418.7 1633.2,134.1 1770.3,328.2 1683.7,172 1676.7,164.9 1864.7,322.4 1866.6,401.2 1663.5,160.3 1669.7,151.2 2041.1,485.6 1642,157.8 1890.2,359.5 1880.4,343.6 1621.6,139.1 1752.1,217.5 1728.5,281.2 1673.4,220.3 1640.3,168.7 1597,131.5 1946.6,453 1670.5,165.8 1682.8,260.3 1676,166.6 1920.3,386.1 1925.4,400.7 1640.5,129.1 1930.6,394.6 1652.4,189.2 1794,351.9 1846.2,307.2 1785.5,248.7 1677.1,225.2 1922.5,434.7 1670.1,215.7 1838.5,301.6 1765.9,235 1903.4,372.7 1753.6,214.1 1574.4,106.9 1806,264.9 1602.4,138.1 1698.9,253.9 1879.4,420.6 1674.8,231.1 1903.4,373.2 1983.7,487.6 1933,438.9 1649.2,148.8 1807,267.7 1641.8,154.6 1857.2,400.1 1951.3,461.7 1864.2,310.2 1891.4,357.9 1962.1,444.9 1838.3,381.1 1847.4,305.6 1635.2,142.2 1827.6,379.2 1685.7,160.6 1722.7,179.1 1937.7,424.3 1925.9,448 1791.7,255.4 1906.7,376.1 1796,350.8 1710.5,263.7 1765.3,234.8 1757.3,309.5 1795.3,349.6 1917.8,373.8 1900.2,444.4 1773.1,240.2 1925.7,385.9 1931.3,419.7 1638.1,156.7 1769.3,237.8 1765.1,320.4 1934.6,456 1716.9,275 1962.7,441.2 1997.7,477.7 1868.4,406.9 1758.8,222 1676.4,222 1800.2,261.8 1645.7,153.9 1775.9,242.1 1811.5,365.6 1796.7,351.1 1929.2,430.5 1682,161.5 1928.1,387.6 1700,252.4 1757.7,220.2 1698.4,253 1638.2,182.3 1650.3,156.6 1719.3,192.4 1961,449.8 1811.1,369.3 1936,428.1 1826.9,374.5 1601.1,101.9 1582.7,80.3 1733.3,288 1608.3,112 1923.1,433.5 1612.7,162.2 1809.2,367 1625.6,129.2 1924.5,452.4 1853.4,404.1 1930.4,430.4 1703.7,265.7 1616.1,150.4 1894.9,423.4 1618.2,134 1936.9,390.8 1705.8,270.5 1891.9,417.8 1848.2,404.5 1639.1,174 1623.1,139 1758.9,228.6 1663.4,206.2 1640.4,173.4 1735,287.8 1664.5,215.4 1811.9,274.3 1887.2,350.6 1665.2,160.5 1739.3,206.9 1652.5,153.9 1877.7,345.2 1688.4,245 1920.7,435.8 1723,284.9 1660,150.6 1694.4,250.6 1640,145.5 1971.9,448.3 1906.1,428.8 1945.4,432.3 1928.9,435.2 1930.9,387.4 1908.5,442.8 1671.1,151 1796.7,262.4 1715.3,186.1 1927.7,446.7 1927.1,438.4 1580.3,110.5 1614.9,149.9 1697,246.7 1614,179.5 1854.4,316.7 1599.8,118.2 1892.3,336.1 1946.6,434.9 1821.7,367.9 1825.7,289.1 1660.5,160.5 1646.3,146 1665.4,156.1 1637.4,148.1 1604,118.9 1634.6,157.6 1801.8,354.5 1696.5,180.6 1813.8,359.5 1906.1,426.5 1643.8,173.6 1839.8,303.7 1926.6,438 1841.4,386.7 1893.4,461.9 1801.9,355.5 1794.6,257.2 1852.4,395.9 1748.6,219.8 1904.3,370.9 1685.2,164.5 1890.3,418.9 1623.5,154.6 1744,214.5 1753.6,314.4 1694.5,248.7 1913.2,442.8 1926.7,430.3 1904,370.1 1843.1,304.2 1920.5,399.1 1864.5,320.1 1681.4,157.6 1616.2,152.3 1889.8,440.1 1869.9,330.6 1741.5,211.9 1793.1,253.6 1658.3,154.1 1790.6,257.4 1726.7,201.7 1686.9,253 1771.1,322.4 1644.4,137.9 1632.3,153.5 1865,410.5 1637.2,159 1950,412.1 1932.9,414.3 1648.3,182.3 1827.7,288.3 1567.4,100.5 1945.8,433.6 1658.3,211.5 1965,461.6 1957.5,484.5 1840.9,301.3 1724.8,197.7 1643.1,191.1 1899.7,433.3 1661,149.5 1912.8,389.2 1663,226.7 1711.3,182.6 1760.2,319 1809.4,358.6 1935.5,412.8 1690.4,173.3 1927.9,407.9 1690.2,172.4 1732.3,207.6 1868.2,415.4 1692.3,173.8 1760.8,225.3 1656.1,200.3 1833.4,381.8 1595.3,116.6 1854.4,319.5 1931.1,437.9 1962.9,475.5 1686.3,170.2 1650.1,191.4 1662.2,154.1 1785.7,362.3 1973.1,464.1 1658.2,157.3 1914.9,445.2 1702.6,177.6 1947.1,477.7 1643.1,118.8 1627.6,145.9 1733.3,205.3 1968.9,492.8 1643.2,185 1766.3,321.5 1734.9,193.7 1609.1,121.2 1941.6,416.4 1664.9,212.4 1876.9,410.3 1748.4,216.3 1663.3,205.1 1863,328.8 1653.2,158.7 1629,152.9 1614.3,133.7 1921.3,433 1633.3,160.6 1890.1,433.6 1939.4,426.9 1905.3,430 1735,197 1805.2,266.8 1888.5,426.6 1679.1,231.1 1981.5,450.9 1801.7,252 1931.8,441.1 1938.9,428.4 1883.2,444.6 1649.5,185.2 1657.4,139.5 1648.7,132.4 1864.6,401.4 1911.7,370.1 1591.3,113.6 1644.9,157.2 1628.1,162.2 1724.2,194.9 1735.3,292.9 1841.8,383.8 1665.1,211.3 1615.3,132.8 1680,161.9 1724.6,279.6 1914.7,435.7 1705.4,266.9 1864.1,327.9 1946.9,418.8 1886.7,349 1658.9,201.2 1983.9,435.2 1664.3,155 1658.6,201.1 1652.7,201 1611.7,141 1641.9,161.7 1870.2,414.8 1881.9,412.8 1822.1,366.5 1761.7,314.5 1681.4,170.8 1826.5,371.4 1938.2,430.6 1576,106.3 1635,152.9 1763.7,315.2 1779.1,335.3 1680.3,169.3 1924.6,432.9 1920.5,384.2 1626.8,150.9 1759.3,224.2 1902.4,359.7 1751.7,315.3 1770.1,226.1 1641.8,174.9 1877,420.9 1983.5,470.8 1971.8,449.1 1924.4,402.2 1634.5,158.5 1670.6,219.3 1621.5,138 1826.4,290.2 1979.2,460.1 1824.2,374.1 1576.3,112.8 1780.8,330.6 1653.5,194.5 1647.6,151.4 1731.4,283.4 1639.8,129.1 1632.3,132.3 1677.8,224.8 1975.8,492.4 1702.1,177.5 1878.3,337 1671.1,233.8 1951.3,439.3 1822.1,367.5 1779.6,242.3 1815.4,360.9 1970,450.1 1672.8,165.5 1879.9,347.9 1885.3,354 1707.3,182.8 1636.9,130.1 1943.5,438.2 1614.8,161.4 1870,405.3 1927.8,383.7 1773.2,329.8 1670.2,164.7 1696.6,251.9 1926.4,448.3 1846.7,393 1847.3,299.3 1705.9,266.6 1760.3,216.3 1927.3,439 1630,134.9 1960.6,448 1732.1,286.2 1750.2,303.9 1939,437.8 1905.3,360.2 1616.3,170.2 1898.8,365.2 1830.3,287.4 1859.1,315 1977.1,461.5 1910.2,382.4 1646.7,185.3 1909.4,382.9 1770.3,230.4 1601.5,102.7 1683.2,259.8 1966.6,461.4 1694.9,264.2 1876.5,316.6 1700.2,250.8 1826.2,374.4 1970.5,448.9 2023.1,540.2 1745.1,210.3 1850.6,390 1863.6,328.4 1722.4,182.2 1873.2,332.9 1936,401 1727.2,202.9 1587.9,111.3 1849.5,393.2 1631.2,173.9 1757.9,312.6 1904.7,376.6 1910.3,431.5 1907.5,445.4 1951.1,405.2 1789.3,343.6 1933.5,420.9 1887.2,414.7 1675.3,163.9 1876.3,341.9 1782.1,335.5 1626.6,147.4 1829.1,284.6 1744.9,303.4 1956.4,426.1 1569.4,78.2 1668.6,163 1931.2,402.8 1631.9,129.9 1675.7,235.3 1941.4,437.5 1691,171.6 1713.1,191.6 1898.3,364.8 1569.3,101.2 1754.1,306.3 1883.5,350.8 1645.4,143.9 1843.1,285.2 1928.4,455.6 1622.9,147.3 1920.6,458.2 1931.2,424.8 1989.7,477.3 1616,117.2 1671.4,223.7 1943.8,482.4 1645.2,156 1934.4,428.7 1678.2,157.3 1838.3,298.8 1904.4,441.1 1609.7,126.2 1858.9,399 1974.7,443 1861.1,399.6 1744.9,208 1594.1,125.6 1743.3,297.1 1805.5,366.2 1621.5,165.2 1907.4,380.8 1929.3,430.4 1648,153.3 1647.3,131.1 1803.1,268.1 1623.7,138.3 1718.2,194.2 1815.6,278.8 1686.2,250.5 1633.4,123 1630.1,157.8 1846.3,391.4 1866.6,332.2 1920.3,388.8 1817.6,362.8 1808.1,261.2 1915.1,356 1952.9,449.7 1703.1,175.8 1724.8,200.3 1596,123.5 1841.3,381.9 1933.3,443.5 1865.9,320.2 1690.4,245.6 1737.2,210.8 1938.4,476.7 1794.4,356 1929.5,387.3 1717.7,280.6 1934.3,442.7 1706.1,185.3 1875.1,414 1837.3,382.3 1893.3,445.2 1696.2,257.6 1742.4,294.2 1907.7,426.6 1592.3,129.4 1950,452.2 1666.2,215.4 1926.3,411.5 1628.1,121.3 1703.6,254 1706.9,277.1 1877.9,413.5 1891.2,352.4 1729,205 1739.2,297.1 1775.8,205.5 1906.5,379.8 1857.3,303.5 1836.4,299.9 1771.8,239.7 1826.8,375.4 1773.1,236.4 1905.9,434.1 1874.4,411.6 1927.8,470.2 1632,183 1759.3,317.8 1643.5,182.3 1886.1,418.6 1638.9,120 1889.8,444.9 1896.5,362.7 1723.8,276 1916.2,431.6 1692.9,174.5 1629.3,129.9 1613,131.3 1923.3,373.4 1919.3,438.7 1932.7,443.1 1951.5,472.6 1709,188.1 1899.9,353.1 1631.6,150.7 1856.2,401 1802.8,360.6 1800,361 1637.4,167.8 1787.5,336.3 1636.8,115.6 1936.9,434.5 1635.5,137.6 1793.6,347.5 1971.5,456.9 1683.1,152.9 1743.5,316.7 1759.7,210.7 1682,155.4 1957.7,446.4 1626.2,165.2 1641.6,164.3 1859.2,322.8 1947.9,452.6 1939.8,408.9 1932.8,408.5 1851,296.2 1929.2,431.7 1690.8,174.7 1634.6,151.1 1596.4,110.6 1876.4,413.7 1785.2,352.5 1675.9,158.9 1924.9,440.4 1842.9,292.9 1701.9,252.8 1959.3,447.2 1751.1,305.1 1820.5,370.6 1976.5,432.1 1616.1,145.5 1635.9,142.3 1943.2,408.8 1647.4,151.2 1661.7,203.3 2005.4,480.2 1641.8,135.6 1862.6,327 1814.3,374 1909.6,428.7 1925.3,462.6 1963.2,440 1786.3,335.2 1939.2,430.4 1626.5,173.4 1644,124.9 1815.7,377.6 1666.7,215 1921.5,442.9 1905,440.9 1829.7,376.2 1672.8,228.7 1666.2,209.2 1760.4,324.9 1943.5,423.2 1982.5,473.8 1782.2,335.7 1902.9,374 1969.8,475 1931.1,408.2 1581.7,130.4 1818.4,276 1940.2,466 1667.2,212.7 1858.1,317.1 1599.2,98.1 1929.6,393.9 1612.5,141.9 1954.4,464.5 1726.3,294.3 1924,387.9 1636,171.6 1942.3,420.7 1763.5,230.4 1910.9,366.3 1865.8,426.4 1700,259.7 1929.8,435.3 1718.6,189.2 1629.9,140.7 1689.6,241.5 1642.9,187.8 1689.9,175.4 1934.8,427.4 1647.6,154.1 1630.6,151.1 1866.8,327.9 1926.4,436.2 1924.7,404.9 1720.5,274.5 1908.8,435.8 1920.2,393.9 1665.8,153.3 1646.1,185.3 1872.7,411.2 1954,452.5 1657,156.7 1634.6,171.8 1920.4,395.9 1879.6,331.9 1625.5,164 1633.1,145.2 1937.9,435.4"/>
<g fill="none" stroke="#386898" stroke-width="3.0" transform="translate(1786 294.2) rotate(43.3)">
<path d="M198 0L197.4 4.9L195.5 8.7L192.4 12.1L188 15.3L182.4 18.2L175.6 20.9L167.7 23.5L158.6 25.8L148.3 27.9L137 29.9L124.6 31.6L111.1 33.1L96.6 34.4L81 35.4L64.2 36.2L46 36.8L25.9 37.2L0 37.3L-25.9 37.2L-46 36.8L-64.2 36.2L-81 35.4L-96.6 34.4L-111.1 33.1L-124.6 31.6L-137 29.9L-148.3 27.9L-158.6 25.8L-167.7 23.5L-175.6 20.9L-182.4 18.2L-188 15.3L-192.4 12.1L-195.5 8.7L-197.4 4.9L-198 0L-197.4 -4.9L-195.5 -8.7L-192.4 -12.1L-188 -15.3L-182.4 -18.2L-175.6 -20.9L-167.7 -23.5L-158.6 -25.8L-148.3 -27.9L-137 -29.9L-124.6 -31.6L-111.1 -33.1L-96.6 -34.4L-81 -35.4L-64.2 -36.2L-46 -36.8L-25.9 -37.2L0 -37.3L25.9 -37.2L46 -36.8L64.2 -36.2L81 -35.4L96.6 -34.4L111.1 -33.1L124.6 -31.6L137 -29.9L148.3 -27.9L158.6 -25.8L167.7 -23.5L175.6 -20.9L182.4 -18.2L188 -15.3L192.4 -12.1L195.5 -8.7L197.4 -4.9Z"/>
<path d="M166 0L165.5 4.3L163.9 7.6L161.3 10.6L157.6 13.3L152.9 15.9L147.2 18.3L140.6 20.5L132.9 22.6L124.4 24.4L114.9 26.1L104.5 27.6L93.2 28.9L81 30L67.9 31L53.8 31.7L38.6 32.2L21.7 32.5L0 32.6L-21.7 32.5L-38.6 32.2L-53.8 31.7L-67.9 31L-81 30L-93.2 28.9L-104.5 27.6L-114.9 26.1L-124.4 24.4L-132.9 22.6L-140.6 20.5L-147.2 18.3L-152.9 15.9L-157.6 13.3L-161.3 10.6L-163.9 7.6L-165.5 4.3L-166 0L-165.5 -4.3L-163.9 -7.6L-161.3 -10.6L-157.6 -13.3L-152.9 -15.9L-147.2 -18.3L-140.6 -20.5L-132.9 -22.6L-124.4 -24.4L-114.9 -26.1L-104.5 -27.6L-93.2 -28.9L-81 -30L-67.9 -31L-53.8 -31.7L-38.6 -32.2L-21.7 -32.5L0 -32.6L21.7 -32.5L38.6 -32.2L53.8 -31.7L67.9 -31L81 -30L93.2 -28.9L104.5 -27.6L114.9 -26.1L124.4 -24.4L132.9 -22.6L140.6 -20.5L147.2 -18.3L152.9 -15.9L157.6 -13.3L161.3 -10.6L163.9 -7.6L165.5 -4.3Z"/>
<path d="M146 0L145.5 3.8L144.1 6.8L141.8 9.5L138.6 12L134.5 14.3L129.5 16.4L123.6 18.4L116.9 20.3L109.4 22L101 23.5L91.9 24.8L81.9 26L71.2 27L59.7 27.8L47.3 28.5L33.9 28.9L19.1 29.2L0 29.3L-19.1 29.2L-33.9 28.9L-47.3 28.5L-59.7 27.8L-71.2 27L-81.9 26L-91.9 24.8L-101 23.5L-109.4 22L-116.9 20.3L-123.6 18.4L-129.5 16.4L-134.5 14.3L-138.6 12L-141.8 9.5L-144.1 6.8L-145.5 3.8L-146 0L-145.5 -3.8L-144.1 -6.8L-141.8 -9.5L-138.6 -12L-134.5 -14.3L-129.5 -16.4L-123.6 -18.4L-116.9 -20.3L-109.4 -22L-101 -23.5L-91.9 -24.8L-81.9 -26L-71.2 -27L-59.7 -27.8L-47.3 -28.5L-33.9 -28.9L-19.1 -29.2L0 -29.3L19.1 -29.2L33.9 -28.9L47.3 -28.5L59.7 -27.8L71.2 -27L81.9 -26L91.9 -24.8L101 -23.5L109.4 -22L116.9 -20.3L123.6 -18.4L129.5 -16.4L134.5 -14.3L138.6 -12L141.8 -9.5L144.1 -6.8L145.5 -3.8Z"/>
<path d="M129.5 0L129.1 3.4L127.9 6L125.8 8.4L123 10.6L119.3 12.7L114.9 14.6L109.7 16.4L103.7 18L97 19.5L89.6 20.8L81.5 22L72.7 23.1L63.2 24L53 24.7L42 25.3L30.1 25.7L17 25.9L0 26L-17 25.9L-30.1 25.7L-42 25.3L-53 24.7L-63.2 24L-72.7 23.1L-81.5 22L-89.6 20.8L-97 19.5L-103.7 18L-109.7 16.4L-114.9 14.6L-119.3 12.7L-123 10.6L-125.8 8.4L-127.9 6L-129.1 3.4L-129.5 0L-129.1 -3.4L-127.9 -6L-125.8 -8.4L-123 -10.6L-119.3 -12.7L-114.9 -14.6L-109.7 -16.4L-103.7 -18L-97 -19.5L-89.6 -20.8L-81.5 -22L-72.7 -23.1L-63.2 -24L-53 -24.7L-42 -25.3L-30.1 -25.7L-17 -25.9L0 -26L17 -25.9L30.1 -25.7L42 -25.3L53 -24.7L63.2 -24L72.7 -23.1L81.5 -22L89.6 -20.8L97 -19.5L103.7 -18L109.7 -16.4L114.9 -14.6L119.3 -12.7L123 -10.6L125.8 -8.4L127.9 -6L129.1 -3.4Z"/>
<path d="M113 0L112.6 3L111.6 5.3L109.8 7.5L107.3 9.4L104.1 11.2L100.2 12.9L95.7 14.5L90.5 15.9L84.7 17.2L78.2 18.4L71.1 19.5L63.4 20.4L55.1 21.2L46.2 21.8L36.6 22.3L26.3 22.7L14.8 22.9L0 23L-14.8 22.9L-26.3 22.7L-36.6 22.3L-46.2 21.8L-55.1 21.2L-63.4 20.4L-71.1 19.5L-78.2 18.4L-84.7 17.2L-90.5 15.9L-95.7 14.5L-100.2 12.9L-104.1 11.2L-107.3 9.4L-109.8 7.5L-111.6 5.3L-112.6 3L-113 0L-112.6 -3L-111.6 -5.3L-109.8 -7.5L-107.3 -9.4L-104.1 -11.2L-100.2 -12.9L-95.7 -14.5L-90.5 -15.9L-84.7 -17.2L-78.2 -18.4L-71.1 -19.5L-63.4 -20.4L-55.1 -21.2L-46.2 -21.8L-36.6 -22.3L-26.3 -22.7L-14.8 -22.9L0 -23L14.8 -22.9L26.3 -22.7L36.6 -22.3L46.2 -21.8L55.1 -21.2L63.4 -20.4L71.1 -19.5L78.2 -18.4L84.7 -17.2L90.5 -15.9L95.7 -14.5L100.2 -12.9L104.1 -11.2L107.3 -9.4L109.8 -7.5L111.6 -5.3L112.6 -3Z"/>
<path d="M99 0L98.7 2.6L97.7 4.7L96.2 6.5L94 8.2L91.2 9.8L87.8 11.3L83.8 12.6L79.3 13.9L74.2 15.1L68.5 16.1L62.3 17L55.6 17.8L48.3 18.5L40.5 19.1L32.1 19.5L23 19.8L13 20L0 20.1L-13 20L-23 19.8L-32.1 19.5L-40.5 19.1L-48.3 18.5L-55.6 17.8L-62.3 17L-68.5 16.1L-74.2 15.1L-79.3 13.9L-83.8 12.6L-87.8 11.3L-91.2 9.8L-94 8.2L-96.2 6.5L-97.7 4.7L-98.7 2.6L-99 0L-98.7 -2.6L-97.7 -4.7L-96.2 -6.5L-94 -8.2L-91.2 -9.8L-87.8 -11.3L-83.8 -12.6L-79.3 -13.9L-74.2 -15.1L-68.5 -16.1L-62.3 -17L-55.6 -17.8L-48.3 -18.5L-40.5 -19.1L-32.1 -19.5L-23 -19.8L-13 -20L0 -20.1L13 -20L23 -19.8L32.1 -19.5L40.5 -19.1L48.3 -18.5L55.6 -17.8L62.3 -17L68.5 -16.1L74.2 -15.1L79.3 -13.9L83.8 -12.6L87.8 -11.3L91.2 -9.8L94 -8.2L96.2 -6.5L97.7 -4.7L98.7 -2.6Z"/>
<path d="M85.6 0L85.3 2.3L84.5 4L83.2 5.6L81.3 7.1L78.9 8.4L75.9 9.7L72.5 10.9L68.6 12L64.1 13L59.2 13.9L53.9 14.7L48 15.3L41.8 15.9L35 16.4L27.8 16.8L19.9 17.1L11.2 17.2L0 17.3L-11.2 17.2L-19.9 17.1L-27.8 16.8L-35 16.4L-41.8 15.9L-48 15.3L-53.9 14.7L-59.2 13.9L-64.1 13L-68.6 12L-72.5 10.9L-75.9 9.7L-78.9 8.4L-81.3 7.1L-83.2 5.6L-84.5 4L-85.3 2.3L-85.6 0L-85.3 -2.3L-84.5 -4L-83.2 -5.6L-81.3 -7.1L-78.9 -8.4L-75.9 -9.7L-72.5 -10.9L-68.6 -12L-64.1 -13L-59.2 -13.9L-53.9 -14.7L-48 -15.3L-41.8 -15.9L-35 -16.4L-27.8 -16.8L-19.9 -17.1L-11.2 -17.2L0 -17.3L11.2 -17.2L19.9 -17.1L27.8 -16.8L35 -16.4L41.8 -15.9L48 -15.3L53.9 -14.7L59.2 -13.9L64.1 -13L68.6 -12L72.5 -10.9L75.9 -9.7L78.9 -8.4L81.3 -7.1L83.2 -5.6L84.5 -4L85.3 -2.3Z"/>
<path d="M72.2 0L72 1.9L71.3 3.4L70.1 4.7L68.6 5.9L66.5 7.1L64 8.1L61.1 9.1L57.8 10L54.1 10.9L50 11.6L45.4 12.3L40.5 12.9L35.2 13.4L29.5 13.8L23.4 14.1L16.8 14.3L9.5 14.5L0 14.5L-9.5 14.5L-16.8 14.3L-23.4 14.1L-29.5 13.8L-35.2 13.4L-40.5 12.9L-45.4 12.3L-50 11.6L-54.1 10.9L-57.8 10L-61.1 9.1L-64 8.1L-66.5 7.1L-68.6 5.9L-70.1 4.7L-71.3 3.4L-72 1.9L-72.2 0L-72 -1.9L-71.3 -3.4L-70.1 -4.7L-68.6 -5.9L-66.5 -7.1L-64 -8.1L-61.1 -9.1L-57.8 -10L-54.1 -10.9L-50 -11.6L-45.4 -12.3L-40.5 -12.9L-35.2 -13.4L-29.5 -13.8L-23.4 -14.1L-16.8 -14.3L-9.5 -14.5L0 -14.5L9.5 -14.5L16.8 -14.3L23.4 -14.1L29.5 -13.8L35.2 -13.4L40.5 -12.9L45.4 -12.3L50 -11.6L54.1 -10.9L57.8 -10L61.1 -9.1L64 -8.1L66.5 -7.1L68.6 -5.9L70.1 -4.7L71.3 -3.4L72 -1.9Z"/>
<path d="M58.7 0L58.5 1.5L58 2.7L57 3.7L55.7 4.7L54.1 5.6L52.1 6.5L49.7 7.2L47 8L44 8.6L40.6 9.2L36.9 9.7L32.9 10.2L28.6 10.6L24 10.9L19 11.2L13.6 11.4L7.7 11.5L0 11.5L-7.7 11.5L-13.6 11.4L-19 11.2L-24 10.9L-28.6 10.6L-32.9 10.2L-36.9 9.7L-40.6 9.2L-44 8.6L-47 8L-49.7 7.2L-52.1 6.5L-54.1 5.6L-55.7 4.7L-57 3.7L-58 2.7L-58.5 1.5L-58.7 0L-58.5 -1.5L-58 -2.7L-57 -3.7L-55.7 -4.7L-54.1 -5.6L-52.1 -6.5L-49.7 -7.2L-47 -8L-44 -8.6L-40.6 -9.2L-36.9 -9.7L-32.9 -10.2L-28.6 -10.6L-24 -10.9L-19 -11.2L-13.6 -11.4L-7.7 -11.5L0 -11.5L7.7 -11.5L13.6 -11.4L19 -11.2L24 -10.9L28.6 -10.6L32.9 -10.2L36.9 -9.7L40.6 -9.2L44 -8.6L47 -8L49.7 -7.2L52.1 -6.5L54.1 -5.6L55.7 -4.7L57 -3.7L58 -2.7L58.5 -1.5Z"/>
<path d="M47.8 0L47.6 1.1L47.2 2L46.4 2.8L45.4 3.5L44 4.1L42.4 4.8L40.5 5.3L38.3 5.9L35.8 6.4L33.1 6.8L30.1 7.2L26.8 7.5L23.3 7.8L19.5 8.1L15.5 8.3L11.1 8.4L6.3 8.5L0 8.5L-6.3 8.5L-11.1 8.4L-15.5 8.3L-19.5 8.1L-23.3 7.8L-26.8 7.5L-30.1 7.2L-33.1 6.8L-35.8 6.4L-38.3 5.9L-40.5 5.3L-42.4 4.8L-44 4.1L-45.4 3.5L-46.4 2.8L-47.2 2L-47.6 1.1L-47.8 0L-47.6 -1.1L-47.2 -2L-46.4 -2.8L-45.4 -3.5L-44 -4.1L-42.4 -4.8L-40.5 -5.3L-38.3 -5.9L-35.8 -6.4L-33.1 -6.8L-30.1 -7.2L-26.8 -7.5L-23.3 -7.8L-19.5 -8.1L-15.5 -8.3L-11.1 -8.4L-6.3 -8.5L0 -8.5L6.3 -8.5L11.1 -8.4L15.5 -8.3L19.5 -8.1L23.3 -7.8L26.8 -7.5L30.1 -7.2L33.1 -6.8L35.8 -6.4L38.3 -5.9L40.5 -5.3L42.4 -4.8L44 -4.1L45.4 -3.5L46.4 -2.8L47.2 -2L47.6 -1.1Z"/>
<path d="M31 0L30.9 0.7L30.6 1.2L30.1 1.6L29.4 2L28.6 2.4L27.5 2.8L26.3 3.1L24.8 3.5L23.2 3.7L21.4 4L19.5 4.2L17.4 4.4L15.1 4.6L12.7 4.7L10.1 4.9L7.2 4.9L4.1 5L0 5L-4.1 5L-7.2 4.9L-10.1 4.9L-12.7 4.7L-15.1 4.6L-17.4 4.4L-19.5 4.2L-21.4 4L-23.2 3.7L-24.8 3.5L-26.3 3.1L-27.5 2.8L-28.6 2.4L-29.4 2L-30.1 1.6L-30.6 1.2L-30.9 0.7L-31 0L-30.9 -0.7L-30.6 -1.2L-30.1 -1.6L-29.4 -2L-28.6 -2.4L-27.5 -2.8L-26.3 -3.1L-24.8 -3.5L-23.2 -3.7L-21.4 -4L-19.5 -4.2L-17.4 -4.4L-15.1 -4.6L-12.7 -4.7L-10.1 -4.9L-7.2 -4.9L-4.1 -5L0 -5L4.1 -5L7.2 -4.9L10.1 -4.9L12.7 -4.7L15.1 -4.6L17.4 -4.4L19.5 -4.2L21.4 -4L23.2 -3.7L24.8 -3.5L26.3 -3.1L27.5 -2.8L28.6 -2.4L29.4 -2L30.1 -1.6L30.6 -1.2L30.9 -0.7Z"/>
</g>
<g stroke="#000" stroke-width="2.8" stroke-linecap="round" stroke-dasharray="10.37 10.37" fill="none">
<path d="M1784.5 551.2V35.3"/>
<path d="M1517 293.2H2052.5"/>
</g>
<g stroke="#B8860B" fill="none" stroke-linecap="round"><circle cx="1678.6" cy="206" r="14.7" stroke-width="4.3"/><path d="M1673.8 201.2l9.6 9.6M1673.8 210.8l9.6 -9.6" stroke-width="3.4"/></g>
<rect x="1517" y="35.3" width="535.5" height="515.9" fill="none" stroke="#000" stroke-width="3.0"/>
<g stroke="#000" stroke-width="2.8" stroke-linecap="round" fill="none">
<path d="M1500.3 127.7H1517M1500.3 210.5H1517M1500.3 293.2H1517M1500.3 375.9H1517M1500.3 458.7H1517"/>
<path d="M1559.1 551.2V567.9M1671.8 551.2V567.9M1784.5 551.2V567.9M1897.2 551.2V567.9M2009.9 551.2V567.9"/>
</g>
<g font-size="52.2" text-anchor="end" stroke="#000" stroke-width="0.7" stroke-linejoin="round">
<text x="1483.6" y="146.2">6</text>
<text x="1483.6" y="229">3</text>
<text x="1483.6" y="311.7">0</text>
<text x="1483.6" y="394.4">-3</text>
<text x="1483.6" y="477.2">-6</text>
</g>
<g font-size="52.2" text-anchor="middle" stroke="#000" stroke-width="0.7" stroke-linejoin="round">
<text x="1559.1" y="611.4">-3</text>
<text x="1671.8" y="611.4">-1.5</text>
<text x="1784.5" y="611.4">0</text>
<text x="1897.2" y="611.4">1.5</text>
<text x="2009.9" y="611.4">3</text>
</g>
<text y="665.8" font-size="49.6" stroke="#000" stroke-width="0.7" stroke-linejoin="round"><tspan x="1496.73">Temperature</tspan><tspan xml:space="preserve"> coef. (</tspan><tspan x="1927.34" dy="1.4" font-family="DejaVu Sans" font-size="44.5" stroke-width="0.3">×</tspan><tspan x="1959.6" dy="-1.4">10</tspan><tspan x="2014.17" dy="-22.4" font-size="34.72" stroke-width="0">−</tspan><tspan x="2033.84" dy="-2.9" font-size="34.72">2</tspan><tspan x="2053.15" dy="25.3">)</tspan></text>
<text transform="translate(1402.6 293) rotate(-90)" font-size="49.6" stroke="#000" stroke-width="0.7" stroke-linejoin="round"><tspan x="-296.13">Temperature</tspan><tspan x="-12.18" dy="-25.3" font-size="34.72">2</tspan><tspan x="7.13" dy="25.3" xml:space="preserve"> coef. (</tspan><tspan x="153.8" dy="1.4" font-family="DejaVu Sans" font-size="44.5" stroke-width="0.3">×</tspan><tspan x="186.06" dy="-1.4">10</tspan><tspan x="240.63" dy="-22.4" font-size="34.72" stroke-width="0">−</tspan><tspan x="260.29" dy="-2.9" font-size="34.72">4</tspan><tspan x="279.61" dy="25.3">)</tspan></text>
<text x="1785.4" y="68.4" font-size="33.2" text-anchor="middle" stroke="#000" stroke-width="0.45">Reshuffled years</text>
<text x="1541.5" y="110.9" font-size="83" font-weight="bold">b</text>
</g>
<g transform="translate(0 680.3)">
<path d="M1608.2 551.2L1608.2 551.2L1611.2 551.2L1614.2 551.1L1617.2 551L1620.2 550.8L1623.2 550.6L1626.2 550.4L1629.1 550.2L1632.1 549.9L1635.1 549.5L1638.1 549L1641.1 548.6L1644.1 547.9L1647.1 547.1L1650.1 546.2L1653.1 545.2L1656 544.1L1659 543.1L1662 542L1665 540.8L1668 539.6L1671 538.3L1674 537L1677 535.6L1680 534.1L1682.9 532.6L1685.9 531L1688.9 529.5L1691.9 528L1694.9 526.7L1697.9 525.4L1700.9 524L1703.9 522.4L1706.9 520.5L1709.8 517.9L1712.8 514.8L1715.8 511.2L1718.8 507.5L1721.8 503.9L1724.8 500.4L1727.8 496.8L1730.8 493.1L1733.8 489.4L1736.8 485.8L1739.7 482.5L1742.7 479.1L1745.7 475.8L1748.7 472.6L1751.7 469.8L1754.7 467.3L1757.7 465.3L1760.7 463.5L1763.7 461.8L1766.6 460.4L1769.6 459.2L1772.6 458.4L1775.6 457.7L1778.6 457.2L1781.6 456.7L1784.6 456.3L1787.6 455.9L1790.6 455.5L1793.5 455.3L1796.5 455.4L1799.5 456.3L1802.5 457.5L1805.5 459L1808.5 461L1811.5 463.7L1814.5 466.7L1817.5 469.8L1820.4 472.8L1823.4 475.4L1826.4 478L1829.4 480.6L1832.4 483.2L1835.4 486L1838.4 489.1L1841.4 492.5L1844.4 496.2L1847.3 500L1850.3 503.7L1853.3 507.2L1856.3 510.4L1859.3 513.6L1862.3 516.6L1865.3 519.5L1868.3 522.4L1871.3 525L1874.3 527.7L1877.2 530.3L1880.2 532.8L1883.2 535L1886.2 537L1889.2 538.7L1892.2 540.2L1895.2 541.7L1898.2 543L1901.2 544.1L1904.1 545L1907.1 545.9L1910.1 546.7L1913.1 547.4L1916.1 548L1919.1 548.6L1922.1 549L1925.1 549.5L1928.1 549.8L1931 550.2L1934 550.4L1937 550.6L1940 550.8L1943 551L1946 551.1L1949 551.2L1952 551.2L1952 551.2Z" fill="#CCC"/>
<path d="M2052.5 113.8L2052.5 113.8L2052.4 116.8L2052.3 119.8L2052.2 122.8L2052 125.9L2051.9 128.9L2051.7 131.9L2051.5 134.9L2051.3 137.9L2051 140.9L2050.7 143.9L2050.4 146.9L2050.1 149.9L2049.7 152.9L2049.2 155.9L2048.7 158.9L2048 161.9L2047.3 164.9L2046.5 167.9L2045.7 170.9L2044.8 173.9L2043.8 176.9L2042.6 179.9L2041.2 182.9L2039.7 185.9L2038 189L2036.3 192L2034.6 195L2032.8 198L2030.9 201L2028.9 204L2026.7 207L2024.4 210L2021.9 213L2019.3 216L2016.5 219L2013.6 222L2010.4 225L2007.1 228L2003.3 231L1999.1 234L1993.5 237L1986.7 240L1980.1 243L1975.1 246L1971.7 249.1L1968.8 252.1L1966.4 255.1L1964.3 258.1L1962.5 261.1L1960.9 264.1L1959.6 267.1L1958.3 270.1L1956.9 273.1L1955.5 276.1L1954.4 279.1L1953.9 282.1L1954.1 285.1L1954.4 288.1L1954.8 291.1L1955.4 294.1L1956.3 297.1L1957.6 300.1L1959.2 303.1L1960.7 306.1L1962.1 309.1L1963.6 312.2L1965.1 315.2L1966.7 318.2L1968.3 321.2L1970 324.2L1971.9 327.2L1973.9 330.2L1976.3 333.2L1979 336.2L1981.8 339.2L1984.7 342.2L1987.6 345.2L1990.4 348.2L1993.5 351.2L1996.7 354.2L2000.5 357.2L2004.6 360.2L2008.8 363.2L2012.4 366.2L2015.4 369.2L2018.2 372.2L2020.8 375.3L2023.2 378.3L2025.5 381.3L2027.6 384.3L2029.6 387.3L2031.6 390.3L2033.5 393.3L2035.3 396.3L2037.1 399.3L2038.8 402.3L2040.5 405.3L2042.1 408.3L2043.6 411.3L2044.8 414.3L2045.8 417.3L2046.8 420.3L2047.6 423.3L2048.4 426.3L2049.2 429.3L2049.8 432.3L2050.4 435.3L2050.8 438.4L2051.2 441.4L2051.5 444.4L2051.8 447.4L2052 450.4L2052.2 453.4L2052.3 456.4L2052.4 459.4L2052.5 462.4L2052.5 462.4Z" fill="#CCC"/>
<ellipse rx="223.6" ry="34.3" transform="translate(1786 293.7) rotate(45.6)" fill="#A3A3A3"/>
<marker id="m2" markerWidth="12" markerHeight="12" refX="6" refY="6" markerUnits="userSpaceOnUse" overflow="visible"><circle cx="6" cy="6" r="2.8" fill="none" stroke="#A0A0A0" stroke-opacity="0.8" stroke-width="2.5"/></marker>
<polyline fill="none" stroke="none" marker-start="url(#m2)" marker-mid="url(#m2)" marker-end="url(#m2)" points="1723.1,270.7 1921.6,457.2 1659.6,146 1938.5,422.6 1901.7,446.2 1780.5,246.3 1686.6,239.1 1695.4,240.9 1687.7,170 1846.2,312.2 1612.4,134.7 1717.7,270.2 1634.7,139.6 1855.9,324.3 1629.8,132.4 1855.6,413.6 1948.3,480.8 1640.1,144.1 1614.4,106.9 1731.3,197.8 1687.6,168.9 1756.8,323.3 1734.9,199.7 1643.4,132.8 1597,131.3 1914,464.8 1653.2,152.5 1844.5,305.8 1908.7,388.6 1846.4,403 1808.5,270.2 1654.5,154.5 1782,340.4 1812.1,276.7 1803,261.9 1864.4,336.3 1578.6,118.9 1725.2,277.1 1894.1,423.8 1896.7,428.9 1775.4,242.3 1743.8,302.7 1885.5,344.1 1831.5,292 1931,423.1 1806.8,355.7 1861.4,405.8 1660.3,143.5 1925.4,460.5 1746.8,216.1 1816.4,282 1923.4,434.8 1968,461.9 1974.5,446.6 1673.8,222.2 1691.2,169.9 1761.3,212.6 1696.3,169.4 1862.4,328.8 1933,423.4 1658.7,202.1 1657.9,147.8 1696.6,238.9 1761.9,318.6 1873.1,337.8 1766.4,230.6 1746.4,327.1 1664.1,151.2 1776.9,235.7 1588.9,79.3 1617.2,125.2 1639.3,115.1 1635.2,150.9 1928.5,417.9 1623.4,103.5 1771.3,236.5 1936.7,441.3 1611.3,106.6 1849.1,316.4 1879.1,415.7 1641.8,110.4 1694.4,239.2 1693.6,154 1600.3,99 1922.8,455.5 1957.2,466.2 1828.2,290 1916.6,435.5 1889.7,425.7 1860.2,331 1720.7,266.5 1668.4,158.4 1905.6,383.4 1696.9,163.9 1941.8,434.1 1626.6,120.9 1676.6,139.5 1895.5,440.9 1714.8,263.1 1931.6,429.4 1685.8,234.2 1953.2,427.9 1720.8,186.2 1850.3,397 1901.5,359.7 1794.1,260.6 1650.6,148.6 1916.8,433.3 1708.2,261.7 1921.9,430.1 1803.7,357.4 1629.7,174 1855.3,398.2 1860.7,405.2 1697.1,243.3 1793.5,345 1917.5,451.4 1969.8,468.7 1972.7,464.2 1764.5,322.1 1843.7,394.2 1903.6,369.2 1817.8,281.6 1875.4,442.2 1751.9,300.2 1648.8,154.7 1882.1,357.7 1640.3,142.3 1863.1,333.5 1923.8,407.8 1725.2,197.2 1964.1,461.4 1721.9,269.1 1840,392.2 1748.4,299.8 1670.6,216.2 1666.8,197.4 1805.7,264.9 1655.3,177.8 1856.4,413.8 1591.4,145 1643.1,151.7 1645.6,118.3 1777.5,228.6 1801.8,262.3 1671,203.1 1759.7,202.4 1650.3,132.7 1955.4,446.1 1948.3,423.5 1641.3,142.5 1600.2,113.4 1702.5,252.6 1643.9,190.1 1699.6,242.8 1804.2,357.8 1929.1,446.7 1564.2,104.8 1914.4,431.9 1672.9,160.2 1813.8,365.5 1907.9,435.9 1772.9,323.7 1658.5,143.4 1708.8,184.7 1697,176.3 1788.8,254.9 1903.9,433.6 1946.4,475.9 1783.5,248.3 1624.6,174.3 1867.3,408.7 1675.1,210.9 1665.5,154.3 1632.9,147.3 1870.4,330.5 1928.3,444.3 1934.1,441.5 1672.4,208.9 1697.6,171.9 1628.9,161.6 1668.8,203.2 1903.7,387.4 1637.7,145.1 1878.3,415.9 1832.1,297.5 1758.2,326.6 1832.8,386.4 1735.4,203.3 1809,268.5 1867.6,314.5 1928.2,401.2 1732.9,279.7 1920.7,438.9 1827.6,376.4 1623,169 1657.5,183 1672.8,216.3 1984,478.8 1653.8,186.9 1690.7,236.2 1787.7,338.3 1638.7,139 1918.3,435 1873.2,414.6 1915.6,433.9 1628.1,111.6 1883,423.3 1731.5,193.3 1780.7,336.1 1669.1,204 1649.9,163.4 1928.6,434.3 1826.5,292.3 1942.4,423.7 1873.4,420.5 1660.9,190 1959.6,460.4 1652.1,158.2 1781.9,343.2 1776.1,233.7 1965,459.4 1911.3,398.4 1643.7,161.1 1764.2,319.5 1813.8,262.8 1913.7,444.2 1929.2,468.7 1664.5,154.3 1625.6,169.4 1841.3,385.2 1707.7,253.1 1856.6,322.7 1812.8,274.7 1755.2,223.2 1916.4,409.1 1644.3,171.5 1745.9,296.3 1815.7,281.4 1736.5,286.1 1665.1,200.7 1917.5,432.8 1697.2,167.3 1702.3,248.7 1772,230 1674.8,160 1793,343.5 1653.6,150.5 1862.8,402.3 1640.5,150.1 1935.8,452.2 1926.4,432.3 1748.9,314.2 1627.6,154.5 1636.7,135.3 1895.4,337.6 1977.6,468 1646.4,165.8 1738.7,206.4 1673,221.7 1889,355.1 1859.6,402.2 1992.3,510.9 1650.7,132.6 1839.7,389.5 1701.9,164.5 1932.7,423.6 1668.8,220.8 1669.1,201.2 1591.2,112.8 1917.2,402.9 1687.5,252 1770.5,325.3 1769.4,233.8 1677.3,216.7 1647.5,160.1 1751,209.6 1909.7,454.5 1937.2,429.9 1914.8,404.5 1862.5,403.2 1920.8,364.8 1671.3,150.4 1770.2,233.6 1938.8,463 1643.4,169.3 1617.9,152.3 1715.3,261.5 1932.9,440.8 1655.6,179.3 1740.3,210 1772,336.9 1954.2,451.8 1809.3,363.7 1875.8,343.5 1764.6,226.4 1918.5,460.9 1857.6,405.4 1908.6,393.3 1705.8,251.5 1916.5,408.1 1762.2,312.6 1754.8,221.9 1661.9,143 1922,440.8 1602.7,128.3 1940.4,416.9 1875,346.9 1854.3,323.8 1666.2,141.5 1624.6,145.6 1760.1,223.2 1911.2,391.1 1642.8,125.2 1909.3,395.2 1646.2,165 1902.6,383.3 1744.3,212.9 1875.1,329.9 1859.9,329.1 1778.1,240.7 1931.9,451.9 1613.6,135.2 1724.1,274.6 1873.4,338.7 1814.4,365.4 1949.3,451.1 1746.4,299.6 1870,418.8 1895.6,372.8 1948.3,471.1 1683.4,158.7 1667.8,212.4 1645.7,158.4 1910.3,392.5 1703.8,179.3 1718,266.1 1737.5,205.4 1915.1,406.5 1687.4,240.2 1706.2,251.7 1605.8,121.2 1934.1,468 1821.1,375.3 1814.3,277 1936.2,437.7 1914.7,400.9 1906.6,382.9 1886.9,360.1 1773.9,328.9 1915.9,377.7 1732.3,189.5 1838.2,305.1 1951.9,419.6 1806.6,358.4 1816.8,283.1 1930.5,436.6 1722.7,176.4 1923.4,403.8 1907.2,378.7 1671.1,144.6 1672.8,219.7 1894.9,367.7 1668.2,156.6 1861.3,326.7 1673,209.6 1635.5,168.8 1789.1,339.7 1897.3,372.4 1763.7,315 1748.3,211.2 1704.8,253.5 1857.2,401.5 1919.7,401.6 1712.1,268.7 1617.3,147.9 1930.4,472.4 1825.4,374.9 1695.8,250.4 1691,166.5 1930,438.8 1848.7,313.5 1647.6,165.7 1773.8,334.6 1915.8,434.5 1637.9,170.9 1848.6,401.9 1726,197.8 1785.6,242.8 1608.5,126.3 1630,129.8 1665.4,157.5 1659.9,186.4 1718.2,272.4 1733.4,199.2 1609.6,138 1794.2,349.1 1917.8,412.2 1617.8,134.3 1837.2,298.4 1860.9,427.2 1622.7,155.4 1839.2,303.2 1930,432.3 1860.8,327.3 1747.5,209.5 1723.3,269.2 1940.4,431.3 1969.1,476.4 1914.9,399.1 1843.3,387.7 1916.3,436.3 1738.4,293.2 1862.8,334.7 1931.3,440 1889.3,423.6 1598.5,109.9 1725,283.5 1624.8,175.1 1902.6,430 1868.7,411.3 1932.2,466.3 1776,232.6 1769.7,234.5 1625.8,163.8 1756.4,211.6 1554.1,44.1 1924.7,413.9 1974.3,477.1 1955,445 1670.2,204.2 1929.9,456 1931.3,405 1688.7,168.6 1883.3,419.2 1662.6,190.5 1808.2,378.9 1751.7,208.4 1899.9,366.4 1735.8,284.5 1629.9,144.6 1910.9,397.8 1920.6,428.7 1903.3,440.8 1684.8,152.6 1816.5,374.8 1808.9,275.5 1644.9,154.7 1861.8,412.1 1703.5,246.2 1867.4,406.1 1917.2,381.7 1963.9,424.7 1740.3,209.8 1804.7,253 1655.7,193.3 1897.1,427.6 1911.2,395.9 1896.3,437.2 1851.6,394.3 1869.1,340.6 1918.4,409.3 1928.7,463.9 1852.1,398.5 1647.9,180.9 1786.5,343.4 1815.3,280.5 1646.5,154.7 1811.5,272.2 1684.6,158.1 1910.2,377.9 1940,450.9 1648.3,143.1 1929.3,477.5 1625.3,140.9 1915.9,394.8 1824.8,275.9 1772.4,324.4 1709.6,261.1 1693.9,170.2 1695.4,172.8 1640.2,127.3 1868.2,408.1 1917.8,452.3 1953,453.1 1924.7,431 1881.4,349.7 1923.3,432.4 1824.3,375.4 1931.3,426.4 1633.6,157.7 1871.8,341.4 1921.7,446.7 1681.4,225.5 1623.8,129.1 1918.7,410.5 1642.7,162 1916,430.4 1641.1,166.3 1738.4,286.6 1921.8,443.1 1615.5,150 1931.4,447.9 1919.4,432.7 1968.6,478 1656.3,136.2 1764.8,313.8 1905,369.1 1780.4,242.7 1692,166.1 1666.6,208.8 1746.4,297 1725.4,196.8 1654.9,149.1 1898.2,429.2 1934.9,439.7 1831.6,377.6 1634.7,122.1 1924.9,447.2 1805.5,357.5 1880.6,353.1 1664.7,156.5 1869.7,409.6 1918.4,407.6 1859.2,418.1 2031.1,499.8 1922.5,459.4 1755.7,223.8 1653.1,172.7 1594.9,118.4 1859,329.8 1922.1,452.2 1914.8,398.2 1891.8,367.7 1623.4,145.2 1618.1,140.7 1798.5,264.6 1725.1,187.1 1677.2,156.3 1754.2,215.3 1896.3,376.9 1699.8,264.1 1771.5,236.1 1750.9,322.8 1925.3,437.2 1899.4,369.5 1889.8,368.7 1832.4,294 1805.3,258.7 1626.2,109.5 1716.3,280.2 1975.8,478.9 1929.3,457.2 1733.9,287.8 1908.9,432.9 1927.5,413.9 1689.4,248 1915.1,381.6 1857.7,398.8 1928.2,397.4 1657.2,180.1 1891.4,365.4 1704.4,174.4 1761.2,310.8 1860.3,411.1 1779.9,243.7 1884.4,359.6 1723.3,193.2 1765.8,315.5 1899,427.1 1882.9,421.6 1889.9,423.1 1937.5,457.4 1683,148.1 1857.6,404.5 1912.9,381.2 1921.9,435.5 1951.3,470.2 1948.4,454.2 1716.8,265.1 1657.1,144.1 1641.7,128.8 1938.9,435.3 1923.5,405.5 1910.1,434 1864,313.1 1890,356.3 1851.3,318.2 1897.3,375.1 1831,297.7 1932.4,428.4 1789.8,255.2 1912.5,431.8 1616.2,125.6 1662.4,117.3 1976,423.8 1650.9,181.6 1656.3,155.8 1871.6,414.2 1900.6,429.7 1653.2,146.7 1642.1,178.6 1972.1,444.1 1596.3,105.7 1976.4,464.6 1728.2,278.1 1636.4,167.5 1753.9,309.2 1705.5,253.2 1669.4,204.2 1905.4,434.8 1742.2,209.6 1656.5,143 1857.5,408.6 1923.4,400.1 1756.8,312 1874.7,343.6 1955.5,457.4 1653.2,153.2 1825.5,394.4 1673.3,223.1 1948.2,431.9 1971,465.1 1705.8,259.1 1883.5,419.1 1765.1,321.1 1675,212.4 1939.1,472 1925.3,433.7 1769.9,337.8 1705.3,173.6 1868.1,412.7 1717.7,266.4 1645.8,157.7 1890.8,422.5 1884.2,417.7 1666.1,217.3 1853.2,399 1722.7,189 1671.2,138 1636.3,148.9 1988.1,483.9 1803.2,267.1 1912.3,438.1 1933.6,432.1 1652.4,195.2 1795.1,256.7 1855.5,401.7 1853.9,396.6 1788.5,347.6 1956.7,456.7 1699.5,162.1 1922.5,441.4 1611.7,123.5 1659.9,191.6 1724.7,193.6 1916.2,409.2 1812.9,363.6 1942.1,461 1930.9,465.7 1695.6,173.9 1956,447.8 1812.1,364.7 1912,395.5 1849.9,309.8 1679.7,235.1 1676.7,158.4 1734.8,202 1909.4,393 1636.3,173.6 1613.1,140.6 1737.6,299.5 1613.3,138 1794.2,257.3 1647.8,168.3 1857.2,401.8 1755.4,305.5 1673.1,216.6 1775.7,327.2 1658.5,144.7 1638.5,150.6 1914.2,452.7 1827.8,278.7 1923.6,448.1 1882.5,417.9 1922.2,405.5 1937.1,437.1 1921.7,387.4 1636,153.4 1896.9,377.7 1858.9,410.6 1964.9,454.6 1670.5,204.7 1647.5,159.6 1681.6,218 1810.3,365.8 1700.6,256.4 1788.6,337.2 1954.1,457.1 1732.2,195.1 1645.7,172.8 1924.8,432.6 1866.4,334.9 1892.5,356 1645.6,142.6 1932.6,451.9 1632,142.1 1956.3,445.1 1894.9,370.2 1713.2,265.9 1699.7,174.4 1711.2,157.6 1887.3,356.1 1703.3,246.8 1800.1,353.2 1640,152 1930.4,396.9 1844.4,391.1 1970.4,495 1898.3,446.3 1936.5,436.6 1675.3,225.4 1933.5,450.7 1664.1,146.9 1838.7,287.7 1604.3,139.1 1955.5,463.7 1870,410.6 1718.6,182.3 1639.4,149.3 1834.3,300.3 1685.6,249.5 1833.7,383.2 1900.1,430.9 1721.1,273.8 1668.6,214.1 1651.4,187.9 1863.1,410.5 1678.2,160.1 1915.6,441.7 1757.1,307.5 1800.1,368.9 1706,254.9 1644.3,151.8 1912.8,442.3 1834.9,394.5 1639.9,159.2 1933.2,417.9 1723.4,195.1 1623.6,133 1953.6,468.2 1957.9,432.6 1667.1,199.9 1755.4,220 1575.4,94.7 1606.8,135.7 1736.5,285.4 1834.2,293 1631,138.1 1911.6,396.8 1720.8,173.3 1915.5,389.4 1839.8,386.2 1719.8,193.4 1705.1,249.2 1975.3,444.3 1894.6,351.4 1677.5,150.3 1640,161.9 1755.4,308.1 1894.5,374.1 1931.2,436.3 1923.5,443.2 1748.5,214.4 1924.3,431.6 1678.5,154.5 1918.8,399.4 1652.3,151.8 1970.9,473.7 1657.1,138.2 1750.6,216.1 1758.9,216.6 1790.3,253.6 1637.7,129 1917.5,413.3 1685.7,165.6 1845.1,309.6 1924.7,411.5 1928.4,444.6 1838.5,383.2 1968.6,484 1603.6,105.6 1849.2,392.1 1577.1,79.3 1836,303.6 1757.2,223.2 1808.1,355.8 1627.6,154.7 1665.1,155.1 1655.8,140.6 1937.8,420.9 1766.6,315.9 1994.1,527.6 1970.1,481.6 1843.3,287.2 1619.3,131.6 1946.9,437.7 1900,365.9 1944.1,435.8 1828.8,295.1 1929.4,414.5 1786.9,252.9 1686.8,226.6 1938,425.7 1907.1,382.7 1904.4,386.9 1651,160.9 1708.5,183 1605.6,99.4 1784.9,333.8 1756.4,305.8 1699.4,241.4 1940.8,448.7 1765.7,315 1758.9,224.5 1953.3,458.2 1868,315.7 1603.5,122.1 1722.6,276.8 1904.4,381 1633.2,135.1 1785.9,335.6 1666.4,198.6 1911.3,445 1878.3,344.2 1847.3,397.5 1926.4,452.5 1784.7,342.9 1931.2,435.5 1702.1,244.4 1898.7,431.2 1961.2,464.5 1632.8,121 1740.3,304.7 1723.5,190.4 1645.5,183.2 1873.3,412.3 1918.7,430.5 1932.5,463.2 1945.9,477.4 1634.4,207.9 1944.7,450.4 1653.1,149.8 1935.8,455 1733.3,199.1 1978.9,515.3 1707.1,176.6 1888.9,425.6 1668.9,204 1802.7,354.7 1992.1,514.3 1800,256.9 1647.5,130.6 1950.2,450.3 1915.6,442.8 1954.5,481.3 1934.7,468.8 1784.4,337.5 1970.8,454.5 1658.7,132.6 1904.4,431.6 1842.9,387.1 1909.9,383.9 1861.1,328 1669.1,156.3 1641,137.8 1920.4,440.2 1678.9,138.7 1946.9,465.5 1880.4,353.3 1717.5,263.6 1827.7,289.3 1932.8,423.5 1769.5,319.8 1634,152.7 1678.4,145.1 1734.5,282 1934.5,459.7 1829,379.2 1890.3,364 1774.7,238.5 1919.3,411.3 1636.2,147.6 1667.9,216.1 1673.3,207.6 1878.6,423.9 1942.7,409.7 1837.5,385.7 1894.1,373.1 1927.2,452.2 1668.1,207.3 1809.7,364.4 1870.6,317.4 1740.9,293.1 1648.3,156 1649.1,161.4 1819.8,366.5 1875,344 1650.2,149.1 1654.6,150.5 1734.8,204.2 1893.4,353.4 1937.3,442.4 1965.8,443.3 1660.9,150.6 1922.5,441.7 1825.6,380.3 1880.6,355.5 1648.7,135.7 1708,162.6 1921.5,424.1 1934.6,434.4 1628.6,129.7 1626.5,115.7 1654.2,145.7 1917.6,411 1611.2,103.3 1633.9,152.8 1782.6,331.4 1816,364.3 1835.5,302.5 1916,409.6 1657.4,152.3 1714.3,186.1 1638.9,142.4"/>
<g fill="none" stroke="#386898" stroke-width="2.5" transform="translate(1786 293.7) rotate(45.6)">
<path d="M148.2 0L147.7 4.1L146.3 7.2L144 10.1L140.7 12.7L136.5 15.1L131.5 17.4L125.5 19.5L118.7 21.4L111 23.2L102.5 24.8L93.3 26.3L83.2 27.5L72.3 28.6L60.6 29.4L48 30.1L34.5 30.6L19.4 30.9L0 31L-19.4 30.9L-34.5 30.6L-48 30.1L-60.6 29.4L-72.3 28.6L-83.2 27.5L-93.3 26.3L-102.5 24.8L-111 23.2L-118.7 21.4L-125.5 19.5L-131.5 17.4L-136.5 15.1L-140.7 12.7L-144 10.1L-146.3 7.2L-147.7 4.1L-148.2 0L-147.7 -4.1L-146.3 -7.2L-144 -10.1L-140.7 -12.7L-136.5 -15.1L-131.5 -17.4L-125.5 -19.5L-118.7 -21.4L-111 -23.2L-102.5 -24.8L-93.3 -26.3L-83.2 -27.5L-72.3 -28.6L-60.6 -29.4L-48 -30.1L-34.5 -30.6L-19.4 -30.9L0 -31L19.4 -30.9L34.5 -30.6L48 -30.1L60.6 -29.4L72.3 -28.6L83.2 -27.5L93.3 -26.3L102.5 -24.8L111 -23.2L118.7 -21.4L125.5 -19.5L131.5 -17.4L136.5 -15.1L140.7 -12.7L144 -10.1L146.3 -7.2L147.7 -4.1Z"/>
<path d="M108.5 0L108.2 3.3L107.1 5.8L105.4 8.1L103 10.2L100 12.2L96.2 14L91.9 15.7L86.9 17.3L81.3 18.7L75.1 20L68.3 21.2L60.9 22.2L52.9 23L44.4 23.7L35.2 24.3L25.2 24.7L14.2 24.9L0 25L-14.2 24.9L-25.2 24.7L-35.2 24.3L-44.4 23.7L-52.9 23L-60.9 22.2L-68.3 21.2L-75.1 20L-81.3 18.7L-86.9 17.3L-91.9 15.7L-96.2 14L-100 12.2L-103 10.2L-105.4 8.1L-107.1 5.8L-108.2 3.3L-108.5 0L-108.2 -3.3L-107.1 -5.8L-105.4 -8.1L-103 -10.2L-100 -12.2L-96.2 -14L-91.9 -15.7L-86.9 -17.3L-81.3 -18.7L-75.1 -20L-68.3 -21.2L-60.9 -22.2L-52.9 -23L-44.4 -23.7L-35.2 -24.3L-25.2 -24.7L-14.2 -24.9L0 -25L14.2 -24.9L25.2 -24.7L35.2 -24.3L44.4 -23.7L52.9 -23L60.9 -22.2L68.3 -21.2L75.1 -20L81.3 -18.7L86.9 -17.3L91.9 -15.7L96.2 -14L100 -12.2L103 -10.2L105.4 -8.1L107.1 -5.8L108.2 -3.3Z"/>
<path d="M87.6 0L87.3 2.5L86.5 4.4L85.1 6.2L83.2 7.8L80.7 9.3L77.7 10.7L74.2 12L70.2 13.1L65.6 14.2L60.6 15.2L55.1 16.1L49.2 16.9L42.7 17.5L35.8 18L28.4 18.5L20.4 18.8L11.5 18.9L0 19L-11.5 18.9L-20.4 18.8L-28.4 18.5L-35.8 18L-42.7 17.5L-49.2 16.9L-55.1 16.1L-60.6 15.2L-65.6 14.2L-70.2 13.1L-74.2 12L-77.7 10.7L-80.7 9.3L-83.2 7.8L-85.1 6.2L-86.5 4.4L-87.3 2.5L-87.6 0L-87.3 -2.5L-86.5 -4.4L-85.1 -6.2L-83.2 -7.8L-80.7 -9.3L-77.7 -10.7L-74.2 -12L-70.2 -13.1L-65.6 -14.2L-60.6 -15.2L-55.1 -16.1L-49.2 -16.9L-42.7 -17.5L-35.8 -18L-28.4 -18.5L-20.4 -18.8L-11.5 -18.9L0 -19L11.5 -18.9L20.4 -18.8L28.4 -18.5L35.8 -18L42.7 -17.5L49.2 -16.9L55.1 -16.1L60.6 -15.2L65.6 -14.2L70.2 -13.1L74.2 -12L77.7 -10.7L80.7 -9.3L83.2 -7.8L85.1 -6.2L86.5 -4.4L87.3 -2.5Z"/>
<path d="M71.2 0L71 1.8L70.3 3.1L69.2 4.4L67.6 5.5L65.6 6.6L63.2 7.6L60.3 8.5L57 9.3L53.3 10.1L49.3 10.8L44.8 11.4L40 12L34.7 12.4L29.1 12.8L23.1 13.1L16.6 13.3L9.3 13.5L0 13.5L-9.3 13.5L-16.6 13.3L-23.1 13.1L-29.1 12.8L-34.7 12.4L-40 12L-44.8 11.4L-49.3 10.8L-53.3 10.1L-57 9.3L-60.3 8.5L-63.2 7.6L-65.6 6.6L-67.6 5.5L-69.2 4.4L-70.3 3.1L-71 1.8L-71.2 0L-71 -1.8L-70.3 -3.1L-69.2 -4.4L-67.6 -5.5L-65.6 -6.6L-63.2 -7.6L-60.3 -8.5L-57 -9.3L-53.3 -10.1L-49.3 -10.8L-44.8 -11.4L-40 -12L-34.7 -12.4L-29.1 -12.8L-23.1 -13.1L-16.6 -13.3L-9.3 -13.5L0 -13.5L9.3 -13.5L16.6 -13.3L23.1 -13.1L29.1 -12.8L34.7 -12.4L40 -12L44.8 -11.4L49.3 -10.8L53.3 -10.1L57 -9.3L60.3 -8.5L63.2 -7.6L65.6 -6.6L67.6 -5.5L69.2 -4.4L70.3 -3.1L71 -1.8Z"/>
<path d="M49.8 0L49.6 1L49.2 1.9L48.4 2.6L47.3 3.3L45.9 3.9L44.2 4.5L42.2 5L39.9 5.5L37.3 6L34.5 6.4L31.3 6.8L27.9 7.1L24.3 7.4L20.4 7.6L16.1 7.8L11.6 7.9L6.5 8L0 8L-6.5 8L-11.6 7.9L-16.1 7.8L-20.4 7.6L-24.3 7.4L-27.9 7.1L-31.3 6.8L-34.5 6.4L-37.3 6L-39.9 5.5L-42.2 5L-44.2 4.5L-45.9 3.9L-47.3 3.3L-48.4 2.6L-49.2 1.9L-49.6 1L-49.8 0L-49.6 -1L-49.2 -1.9L-48.4 -2.6L-47.3 -3.3L-45.9 -3.9L-44.2 -4.5L-42.2 -5L-39.9 -5.5L-37.3 -6L-34.5 -6.4L-31.3 -6.8L-27.9 -7.1L-24.3 -7.4L-20.4 -7.6L-16.1 -7.8L-11.6 -7.9L-6.5 -8L0 -8L6.5 -8L11.6 -7.9L16.1 -7.8L20.4 -7.6L24.3 -7.4L27.9 -7.1L31.3 -6.8L34.5 -6.4L37.3 -6L39.9 -5.5L42.2 -5L44.2 -4.5L45.9 -3.9L47.3 -3.3L48.4 -2.6L49.2 -1.9L49.6 -1Z"/>
</g>
<g stroke="#000" stroke-width="2.8" stroke-linecap="round" stroke-dasharray="10.37 10.37" fill="none">
<path d="M1784.5 551.2V35.3"/>
<path d="M1517 293.2H2052.5"/>
</g>
<g stroke="#B8860B" fill="none" stroke-linecap="round"><circle cx="1678.6" cy="206" r="14.7" stroke-width="4.3"/><path d="M1673.8 201.2l9.6 9.6M1673.8 210.8l9.6 -9.6" stroke-width="3.4"/></g>
<rect x="1517" y="35.3" width="535.5" height="515.9" fill="none" stroke="#000" stroke-width="3.0"/>
<g stroke="#000" stroke-width="2.8" stroke-linecap="round" fill="none">
<path d="M1500.3 127.7H1517M1500.3 210.5H1517M1500.3 293.2H1517M1500.3 375.9H1517M1500.3 458.7H1517"/>
<path d="M1559.1 551.2V567.9M1671.8 551.2V567.9M1784.5 551.2V567.9M1897.2 551.2V567.9M2009.9 551.2V567.9"/>
</g>
<g font-size="52.2" text-anchor="end" stroke="#000" stroke-width="0.7" stroke-linejoin="round">
<text x="1483.6" y="146.2">6</text>
<text x="1483.6" y="229">3</text>
<text x="1483.6" y="311.7">0</text>
<text x="1483.6" y="394.4">-3</text>
<text x="1483.6" y="477.2">-6</text>
</g>
<g font-size="52.2" text-anchor="middle" stroke="#000" stroke-width="0.7" stroke-linejoin="round">
<text x="1559.1" y="611.4">-3</text>
<text x="1671.8" y="611.4">-1.5</text>
<text x="1784.5" y="611.4">0</text>
<text x="1897.2" y="611.4">1.5</text>
<text x="2009.9" y="611.4">3</text>
</g>
<text y="665.8" font-size="49.6" stroke="#000" stroke-width="0.7" stroke-linejoin="round"><tspan x="1496.73">Temperature</tspan><tspan xml:space="preserve"> coef. (</tspan><tspan x="1927.34" dy="1.4" font-family="DejaVu Sans" font-size="44.5" stroke-width="0.3">×</tspan><tspan x="1959.6" dy="-1.4">10</tspan><tspan x="2014.17" dy="-22.4" font-size="34.72" stroke-width="0">−</tspan><tspan x="2033.84" dy="-2.9" font-size="34.72">2</tspan><tspan x="2053.15" dy="25.3">)</tspan></text>
<text transform="translate(1402.6 293) rotate(-90)" font-size="49.6" stroke="#000" stroke-width="0.7" stroke-linejoin="round"><tspan x="-296.13">Temperature</tspan><tspan x="-12.18" dy="-25.3" font-size="34.72">2</tspan><tspan x="7.13" dy="25.3" xml:space="preserve"> coef. (</tspan><tspan x="153.8" dy="1.4" font-family="DejaVu Sans" font-size="44.5" stroke-width="0.3">×</tspan><tspan x="186.06" dy="-1.4">10</tspan><tspan x="240.63" dy="-22.4" font-size="34.72" stroke-width="0">−</tspan><tspan x="260.29" dy="-2.9" font-size="34.72">4</tspan><tspan x="279.61" dy="25.3">)</tspan></text>
<text x="1785.4" y="68.4" font-size="33.2" text-anchor="middle" stroke="#000" stroke-width="0.45">Reshuffled countries</text>
<text x="1539.5" y="110.9" font-size="83" font-weight="bold">c</text>
</g>
<g transform="translate(0 1360.6)">
<path d="M1608.2 551.2L1608.2 551.2L1611.2 551.2L1614.2 551.1L1617.2 551L1620.2 550.8L1623.2 550.6L1626.2 550.4L1629.1 550.2L1632.1 549.8L1635.1 549.5L1638.1 549L1641.1 548.6L1644.1 548L1647.1 547.4L1650.1 546.6L1653.1 545.8L1656 545L1659 544.2L1662 543.3L1665 542.4L1668 541.4L1671 540.4L1674 539.3L1677 538.2L1680 537L1682.9 535.7L1685.9 534.3L1688.9 532.8L1691.9 531.2L1694.9 529.4L1697.9 527.4L1700.9 525.2L1703.9 522.9L1706.9 520.4L1709.8 517.5L1712.8 514.4L1715.8 510.9L1718.8 507.4L1721.8 503.9L1724.8 500.4L1727.8 496.8L1730.8 493.1L1733.8 489.4L1736.8 485.8L1739.7 482.5L1742.7 479.1L1745.7 475.8L1748.7 472.6L1751.7 469.8L1754.7 467.3L1757.7 465.3L1760.7 463.5L1763.7 461.9L1766.6 460.5L1769.6 459.3L1772.6 458.3L1775.6 457.5L1778.6 456.7L1781.6 456.2L1784.6 455.9L1787.6 456L1790.6 456.3L1793.5 456.7L1796.5 457.4L1799.5 458.8L1802.5 460.6L1805.5 462.2L1808.5 463.6L1811.5 464.9L1814.5 466.2L1817.5 467.8L1820.4 469.6L1823.4 472L1826.4 475.3L1829.4 479.1L1832.4 483.2L1835.4 487.2L1838.4 490.9L1841.4 494.6L1844.4 498.4L1847.3 502.2L1850.3 505.7L1853.3 508.9L1856.3 511.6L1859.3 514.1L1862.3 516.4L1865.3 518.6L1868.3 520.9L1871.3 523.3L1874.3 526L1877.2 528.7L1880.2 531.3L1883.2 533.8L1886.2 536L1889.2 537.8L1892.2 539.6L1895.2 541.3L1898.2 542.8L1901.2 544L1904.1 545.1L1907.1 545.9L1910.1 546.7L1913.1 547.4L1916.1 548L1919.1 548.6L1922.1 549L1925.1 549.5L1928.1 549.8L1931 550.2L1934 550.4L1937 550.6L1940 550.8L1943 551L1946 551.1L1949 551.2L1952 551.2L1952 551.2Z" fill="#CCC"/>
<path d="M2052.5 161.6L2052.5 161.6L2052.3 164.6L2052.1 167.6L2051.8 170.6L2051.5 173.6L2051.2 176.6L2050.8 179.6L2050.2 182.6L2049.6 185.7L2048.7 188.7L2047.6 191.7L2046.2 194.7L2044.8 197.7L2043.3 200.7L2041.5 203.7L2039.6 206.7L2037.6 209.7L2035.4 212.7L2033.1 215.7L2030.6 218.7L2028 221.7L2025.3 224.7L2022.4 227.7L2019.3 230.7L2016 233.7L2012.2 236.7L2008 239.7L2003.6 242.7L1999.1 245.7L1994.4 248.8L1989.4 251.8L1984.5 254.8L1979.9 257.8L1975.5 260.8L1971.2 263.8L1967.3 266.8L1964.3 269.8L1962 272.8L1960 275.8L1958.3 278.8L1957.1 281.8L1956 284.8L1955 287.8L1954.2 290.8L1953.9 293.8L1954.2 296.8L1954.9 299.8L1955.9 302.8L1957.1 305.8L1959.2 308.8L1962.6 311.9L1966.5 314.9L1970.3 317.9L1973.8 320.9L1977.4 323.9L1981.1 326.9L1984.7 329.9L1988.2 332.9L1991.7 335.9L1995.2 338.9L1999.1 341.9L2003.7 344.9L2008.8 347.9L2013.8 350.9L2018.4 353.9L2022.4 356.9L2026.3 359.9L2029.8 362.9L2032.8 365.9L2035.3 368.9L2037.4 371.9L2039.4 375L2041.2 378L2042.9 381L2044.5 384L2046 387L2047.2 390L2048.3 393L2049.4 396L2050.2 399L2050.8 402L2051.2 405L2051.6 408L2051.8 411L2052 414L2052.2 417L2052.3 420L2052.4 423L2052.5 426L2052.5 426Z" fill="#CCC"/>
<ellipse rx="178.1" ry="34.1" transform="translate(1783 291.7) rotate(36.9)" fill="#A3A3A3"/>
<marker id="m3" markerWidth="12" markerHeight="12" refX="6" refY="6" markerUnits="userSpaceOnUse" overflow="visible"><circle cx="6" cy="6" r="2.8" fill="none" stroke="#A0A0A0" stroke-opacity="0.8" stroke-width="2.5"/></marker>
<polyline fill="none" stroke="none" marker-start="url(#m3)" marker-mid="url(#m3)" marker-end="url(#m3)" points="1654.1,199 1691.1,250.6 1826.6,359.4 1924.9,390.9 1669.6,226.8 1934.4,394.8 1678.9,176 1717.3,198.4 1810.7,273 1717.7,207.7 1694.8,192.9 1886,345.2 1630.9,166.5 1832.6,286.1 1914.1,375.1 1908.2,378.3 1900.6,362.1 1725.3,200.7 1907.3,359.6 1853.7,377.3 1947,402.4 1627.7,156.5 1725.9,207.5 1739.5,295.1 1896.3,396 1915.3,398.6 1787.7,331 1651,225.3 1735.7,218.2 1862.7,316 1683.9,246.4 1901.7,402.6 1868.7,384.2 1905.1,379.1 1670.5,196.8 1766.2,243.8 1922.7,385.7 1784.5,328.8 1799.4,258.8 1660.1,232.4 1913.4,366.3 1758.4,310.9 1855.2,300.6 1697.8,174.2 1904,358.7 1788.8,331.7 1740.1,298.1 1838,297.7 1805,348.9 1688.2,255.7 1773.9,322.3 1921.5,417.8 1679.6,192.9 1929,410.4 1781.8,247 1629,177.7 1655.9,176.4 1665.5,237 1909.3,382.5 1702.6,262.2 1824.3,356.4 1845.6,367.2 1754,309.8 1895.8,354.4 1905.9,389 1611.9,167.2 1936.4,404.6 1892.9,390.1 1677.1,195.8 1648.3,203.1 1905.6,392 1897,385.1 1829.2,365.9 1959.2,425.2 1918.5,376.1 1633.6,183.1 1745.7,217.1 1770,320.3 1683.5,195.6 1640.2,196 1662.9,222.7 1714.1,213.1 1891.5,346.5 1624.3,169.5 1956.6,401.3 1861.5,319.6 1757.7,309.2 1879,336.5 1708.2,289.7 1869.4,395.5 1920.1,368.2 1650.4,188 1628.8,170.6 1945.6,406.8 1689.2,265.8 1839.2,367.8 1651.7,211.5 1711.9,193.5 1658.8,206.8 1702.6,267.1 1922,391.7 1675.5,239.9 1898.8,358.9 1922.2,401 1644.9,178.2 1928.1,392.2 1762.5,321.8 1668.2,228.5 1698.9,204.9 1935.6,409 1685.7,200.1 1868.4,378.3 1658.7,215.2 1756.9,238.3 1715.2,279 1841.1,366.4 1802.5,355.3 1714.6,274.3 1774.7,323.2 1768.2,232.3 1716.1,212.4 1765.6,235.3 1884.4,389.4 1917.4,383.2 1705.8,270 1889.4,392.2 1793.7,336.4 1899,394.6 1915.1,391 1643.9,216.3 1741.8,224 1918.6,373.2 1727.7,212.9 1747.2,226.8 1631.2,189.5 1902.1,355.8 1918.5,371.8 1661.2,190.9 1648.3,216.4 1710.7,272.6 1781.2,329.3 1662.6,218.8 1756.1,308.5 1672.2,231.8 1727.4,291.6 1881,384.8 1895.8,347.7 1701,204.2 1737.1,217.8 1615.1,185.1 1723,288.7 1785.8,332.2 1616.5,166.6 1786.3,345.3 1892.8,391.3 1903.1,370.8 1830.7,291.4 1909.3,402.8 1644.3,183.3 1873.7,393 1633.2,167 1827.3,281.8 1657,247.5 1782.6,328.2 1915.3,379.5 1786.1,256.1 1884,341.5 1683,191.4 1826.4,283.7 1615.5,148.8 1697.4,262.1 1808.9,347.1 1741.3,217.7 1696.5,201.8 1915.3,379.2 1685.1,246 1910,375.3 1924.3,390 1799,354.1 1656.3,188.5 1788,340.4 1905.7,360.6 1605.4,177.2 1850.8,302.1 1658.1,226.3 1649.3,213.4 1706.6,205 1677.5,247.3 1800.2,339.8 1692.3,200.7 1811,274.5 1872,320 1671.7,238.2 1668.9,197.7 1667.6,191 1874.4,323.5 1661.5,200.3 1668.7,178.5 1749.3,231.6 1655,184.5 1635.2,185.1 1903.2,389.6 1838.7,286.4 1777.1,239.2 1682.1,243.5 1914.6,392 1899,358.9 1701.4,204.7 1948.6,371.9 1776.3,244.9 1815.1,277.4 1787,336.2 1644,185.8 1644.2,219.8 1774.4,331.9 1643.6,221.6 1562.6,144.3 1871.1,323 1630.8,191.6 1818,279.1 1791.3,336.2 1882.8,398.9 1665.5,190.2 1781.9,332.3 1843.4,374.8 1729.2,288 1911.3,382 1891.5,346.8 1843.5,366.6 1781.4,332.5 1884.4,389.7 1896.6,356.3 1886.4,386.8 1903.8,385 1892.2,346.1 1779.2,326.1 1886.2,413.3 1919.8,363 1896.6,391.3 1661.7,182.3 2011.3,485.9 1795,262 1810.8,354.9 1673.3,259.2 1924.7,397.7 1658,202.1 1751.6,230.9 1850.7,285 1719.2,195.7 1647.1,185.6 1678.9,239 1892.9,386.6 1799.6,341.8 1660.1,196.7 1659.1,208.5 1750.7,226.4 1752.9,318.4 1715.2,209.1 1658,215 1713.8,284.9 1885.9,396.5 1935.7,381.1 1947.3,420.3 1809.5,347.8 1737.3,219.5 1717.2,286.8 1910.5,382 1887.9,391.3 1780.4,246.9 1670.4,186.9 1652.6,195.4 1883.3,387 1703.5,187 1867.4,391.1 1879.9,334.5 1781.9,327.9 1761.3,316.6 1842.8,371.9 1770.3,243.2 1647.5,211.4 1904.1,418.3 1654.6,193.5 1643.6,188.5 1798.6,340.6 1885,385.2 1788.6,336.3 1654.5,208.6 1979.3,418 1856.5,314.3 1825.6,285.2 1722.9,193.1 1916.7,392.9 1904.3,365.1 1856.1,299.7 1691.1,253.1 1827.3,288.6 1658.2,194.2 1587.9,147.8 1744.4,317.3 1662.4,192.6 1679.1,243.2 1668.6,245.6 1779,246.7 1901.2,363 1794.8,263.1 1832.4,287.7 1673.6,191.7 1703.6,207.8 1760.1,312.2 1937.5,396.7 1891.5,350.1 1771.4,326.9 1772.9,329.1 1929.8,401.6 1707.9,208.1 1874.7,332.7 1811.4,355.8 1819.9,276.8 1771.8,321.5 1655.1,206.8 1651.6,155.6 1725.7,282.6 1681.6,195.9 1649.5,210.3 1906.8,383 1897,356.6 1663.1,184.1 1773.5,322.6 1697.7,275.7 1789.3,339.2 1651.8,198.2 1795,335.8 1675.7,238.1 1711,199.7 1772.5,248 1917.9,374.1 1785.2,333 1672.9,252.7 1852.6,379.1 1846.8,306.3 1916.2,405 1730.2,212.8 1891.1,393.6 1926,401.2 1728.3,214.8 1661.6,216.7 1931.2,364.3 1759.6,311 1683.8,252.7 1786.4,247.5 1716.5,195.8 1765.6,318.9 1886.6,344.4 1895.2,346.5 1894,396.6 1658.3,220.1 1912.2,372.7 1766.1,242 1614.3,163.1 1782,329 1943.8,444.4 1722,214.9 1656.7,186.6 1679.7,248.7 1769.5,246.2 1804.6,264.5 1701.9,201.2 1835.3,366.7 1900.6,387.9 1913.7,375.9 1919.1,368.2 1697.4,202.2 1790.6,353.7 1937.4,385.8 1759.2,237.3 1886.2,401.8 1889.6,386.6 1772.3,320 1657.3,183.1 1769.3,324.4 1681,194.9 1914.3,386.6 1843,296.1 1652.1,212.4 1703.1,269.1 1647.8,193.5 1697.3,200.5 1895.8,386.8 1797.2,345 1694.3,267.2 1671.4,228.8 1681.2,239.4 1744.8,230.2 1883.1,388 1658,218.4 1906.6,372.8 1747.1,220.1 1867.9,384.1 1914.3,357.7 1683.8,197.1 1640.8,188.4 1742.9,301.1 1923,360.3 1664,222.4 1901.8,365.7 1910.5,385.6 1846,305.2 1714.4,212.3 1786.5,345.5 1698.1,197.7 1593.5,172 1777.7,332.3 1653,191.5 1653.2,222.8 1717.9,215.2 1809.2,347.7 1927,384.7 1794.2,263.9 1916.8,392.8 1622,187.7 1817.9,367.7 1891,349.3 1650.8,225.1 1725.6,216.9 1823,264.7 1680.5,249.5 1761.9,312.6 1685.1,191.4 1642.2,214.2 1740.2,298.9 1764.6,325.2 1788.9,258.2 1906.6,389.3 1726.4,294.5 1863.2,380.9 1652.1,197.1 1739.4,309.7 1852.1,310 1677.5,239.5 1723.8,212.4 1826.5,356.5 1656.9,211.1 1618.9,183.9 1635.2,201 1885.2,383.8 1865.4,319.2 1830.2,281.4 1664.7,175.1 1754.3,306.8 1900.1,399.2 1731.1,214.8 1713.4,274.3 1928,382.1 1652.1,195.9 1838,296.6 1882.7,328.2 1824,361.9 1704,264.6 1846.8,306.1 1660,203.8 1693.3,199.8 1758.6,313.6 1893.3,394 1602.6,177.9 1669,193.2 1832,281.1 1912.4,375.5 1704.1,208.2 1833,365.6 1737.8,301.8 1649.9,221.1 1872.5,283.5 1719.2,279.3 1891.3,348.3 1668.1,232 1660.1,209.9 1907.7,390.5 1650.1,192.6 1870.4,328.1 1745.1,224.7 1903.9,337.8 1872.1,379.4 1903.6,413.7 1671.4,193.7 1790.4,260.2 1926.9,381.4 1718.7,214.8 1686.8,198.6 1873.7,327.1 1898.3,351.3 1889.2,392.4 1637.8,183.1 1744.4,300 1866.2,383.4 1936.7,390.2 1908.5,407.6 1772.4,245.1 1798.1,253.4 1779.7,327 1977,418 1697,262.9 1915.1,410.7 1661.9,194.1 1654.2,175.8 1896.6,350.3 1918,388.4 1907.2,423.7 1842.6,302.4 1720.5,203.5 1902.2,405.9 1864.7,320.6 1842.1,372 1934,402.1 1682.6,253.4 1794.9,251.3 1910.5,377.9 1815.4,353.8 1908.3,390.7 1878.2,336.7 1744.7,303.9 1692.5,272.6 1660.8,206.8 1845,370.7 1635.7,200.4 1844.3,294 1680.5,198 1732.8,222.6 1697.2,204.9 1681.4,191.5 1805.4,344 1708.6,201.4 1919.8,384 1838.4,297.9 1667.7,193.4 1812.2,352 1743.6,301.7 1714,279.2 1669.7,224.7 1718.1,281.3 1767.1,243.9 1688.7,247.4 1862,381.9 1917.3,377.5 1898.3,358.7 1921.6,358 1685.8,195.7 1969.7,417.6 1859.8,396.9 1966.1,401.5 1844.8,285.7 1848.6,291.6 1631.2,182.7 1792.4,334.6 1794.8,336.6 1662.9,226.5 1828.4,364.6 1902.4,363.2 1901,361 1885.4,388.6 1916.3,373.1 1909.7,392.5 1692.7,252.7 1650.7,205.9 1766.2,327.2 1654.3,205.4 1809.6,261.5 1836,366.5 1931.5,385.2 1846.8,374.6 1586.2,130.7 1606.1,186.2 1658.8,188.7 1902.3,393.1 1667.1,227.8 1701.7,195.4 1736.9,223.8 1749.5,232.2 1888.5,348 1763.7,242.4 1890.8,335.6 1710.2,208.1 1876.2,396.6 1743.7,229.5 1771.4,247.4 1946.6,379.4 1667.5,225.9 1825,355.5 1641.2,184.4 1665.4,219.6 1922,364.2 1927.7,396.6 1891.3,389.7 1936.9,414.3 1837.7,370 1636.5,203.1 1902.9,398.6 1820,360.9 1630.5,174.8 1857.4,307.1 1828.7,290.5 1916.8,383.1 1610.8,164.5 1779.1,331.3 1872.2,382.5 1698.3,257.5 1661,206.1 1880.5,396.1 1905.9,378.6 1855.5,313.5 1673.7,191 1772.3,236 1856.2,305.4 1660.9,183.6 1940.7,387.7 1796.4,259 1639.2,184.9 1836,286.4 1907.8,360.3 1692.9,198.1 1848.9,293.6 1592.3,140.1 1712.5,280.9 1924.1,350.8 1915.7,371.4 1898.2,348.3 1765.4,233.3 1655.9,205.2 1721.4,215.3 1910.7,376.5 1900.9,394.8 1926.1,389.6 1787.3,252 1637.8,186.9 1679.1,166.4 1665.6,191.8 1653.8,202.3 1716.3,211.8 1676.7,257 1670,232.6 1893.6,406.8 1841.9,300.7 1914.9,394.1 1898.1,360.4 1900.5,365.3 1756.8,232.4 1878.5,388.1 1947.1,396.8 1701,190.1 1667.9,187.9 1701.2,203.3 1651,196.6 1871.2,328.5 1644,188.3 1904.1,384.4 1651.5,201.2 1671,194 1704,269.5 1667.7,222.2 1652.5,190.4 1666.8,221.3 1872,383.6 1908.9,385.7 1654.4,220.1 1848.5,293 1887.9,386.2 1804.5,353 1655,212.3 1912.5,374.3 1857.8,379.5 1668.1,236.1 1815.6,271.6 1978.5,431.3 1670.7,186.2 1660.1,197.6 1694.2,199.7 1668.5,193.7 1855.6,304.1 1889.7,387.4 1639.1,196.9 1748.8,231.2 1805.8,348.9 1772.9,331.1 1952.5,413.4 1643.6,216.1 1938.3,431.1 1735,219.8 1861.9,378.2 1767.2,241.5 1813.8,276.5 1631.9,197.6 1819.3,276.4 1918.7,405 1870.5,324.8 1700.1,203.2 1690.2,188 1828.6,370.1 1721.6,279.1 1790.8,260.9 1857.5,309.6 1885.5,340.2 1835.7,295.9 1732.3,293.8 1656.7,216 1770.8,239.7 1838.4,367.1 1777.3,327.1 1656.9,211.7 1872.6,329.2 1663.8,221.1 1643.4,182.5 1730.3,213.9 1643.4,198 1678.5,236.5 1661.5,214.8 1632.2,200.5 1663.4,225.3 1875.1,326.7 1672.6,232.4 1903.3,390.6 1649.8,188 1907.1,410.5 1658.9,204.6 1905.1,410 1890.3,387.1 1794.8,346.7 1924.3,388 1908.8,375.9 1657.8,217.4 1623.5,191.8 1827.2,356.6 1703.7,267.5 1651.4,180.6 1655.7,190.4 1657.2,214.8 1843.4,301.1 1743.6,224.7 1917.4,377.6 1775,321.8 1816.3,356.9 1621.4,174.8 1770.1,322.2 1640.1,196.6 1713,209.8 1711.6,194.1 1651.9,211.6 1624.9,153.3 1843.8,296.4 1662.7,196.4 1851.4,301 1846.7,370.1 1693.9,189.6 1847.3,303.2 1889.1,390 1878.4,328.3 1679.3,191.6 1714.8,273.5 1802,268 1649.9,202.4 1869.5,392 1695.8,204.3 1877.2,396.2 1667.2,195.1 1765.9,329.3 1679.5,186.6 1928.7,383.2 1686.3,254.1 1757,237.7 1705.9,207.2 1855,376.4 1837.5,296.9 1787.3,258.9 1711.6,294.1 1732.2,292.4 1741.9,317.6 1890.2,390.1 1838,367.4 1875.4,381.3 1719.5,208.9 1865,378.9 1627.7,169.7 1627.7,164.7 1706.9,204.7 1892.6,333.9 1714.1,275.5 1807.1,349.5 1590.4,174.3 1803.7,342.8 1638.5,216.5 1764.9,239.3 1748.1,302.8 1737.5,223.1 1717.8,209.5 1679.5,194 1663,230.4 1837.9,365.3 1760.6,314 1688.5,256.3 1683.6,194.9 1725.2,286.3 1675.8,245.7 1903.7,361.9 1858.7,313.8 1919.6,386.7 1788,257 1896.5,385.1 1951.6,404.3 1778.6,329.9 1759.1,315.8 1659,189.1 1859.9,375.7 1735.1,220.7 1947.7,420.1 1689,196.2 1692.8,202.9 1914.6,374.6 1855.7,306.7 1727.5,296.9 1661.2,209.6 1711.1,269.6 1745.3,302.9 1644,202.9 1865.4,382.2 1618.6,186.5 1818.4,354.8 1666.6,233.4 1748.8,217.2 1727,210.8 1921.7,404 1868.2,381.9 1708.7,205.8 1789.5,339.3 1656.8,176.6 1664.7,238.6 1899.7,360.2 1910,372.8 1944.6,409 1648.8,172.5 1637.6,171.6 1844.1,369.7 1623,192.3 1849.6,369.1 1888.5,329.5 1827.5,285.9 1871.9,385.2 1646.6,189.1 1799.3,342.1 1814.2,349.9 1902.9,370.4 1912.1,394.3 1822.9,276.8 1692.2,252.2 1902.5,388.7 1751.6,316.8 1711.3,272.3 1900.7,387.2 1692.2,200.3 1908.8,355.1 1854.3,307.7 1760.1,311.3 1854.3,312 1854.9,312 1649.9,192.9 1921.4,396.9 1652.7,178.8 1659.1,174.1"/>
<g fill="none" stroke="#386898" stroke-width="3.0" transform="translate(1783 291.7) rotate(36.9)">
<path d="M161.7 0L161.2 4.7L159.7 8.4L157.1 11.7L153.5 14.7L149 17.6L143.4 20.2L136.9 22.7L129.5 24.9L121.1 27L111.9 28.8L101.8 30.5L90.8 31.9L78.9 33.2L66.1 34.2L52.4 35L37.6 35.5L21.2 35.9L0 36L-21.2 35.9L-37.6 35.5L-52.4 35L-66.1 34.2L-78.9 33.2L-90.8 31.9L-101.8 30.5L-111.9 28.8L-121.1 27L-129.5 24.9L-136.9 22.7L-143.4 20.2L-149 17.6L-153.5 14.7L-157.1 11.7L-159.7 8.4L-161.2 4.7L-161.7 0L-161.2 -4.7L-159.7 -8.4L-157.1 -11.7L-153.5 -14.7L-149 -17.6L-143.4 -20.2L-136.9 -22.7L-129.5 -24.9L-121.1 -27L-111.9 -28.8L-101.8 -30.5L-90.8 -31.9L-78.9 -33.2L-66.1 -34.2L-52.4 -35L-37.6 -35.5L-21.2 -35.9L0 -36L21.2 -35.9L37.6 -35.5L52.4 -35L66.1 -34.2L78.9 -33.2L90.8 -31.9L101.8 -30.5L111.9 -28.8L121.1 -27L129.5 -24.9L136.9 -22.7L143.4 -20.2L149 -17.6L153.5 -14.7L157.1 -11.7L159.7 -8.4L161.2 -4.7Z"/>
<path d="M139 0L138.6 4.2L137.2 7.4L135 10.4L132 13.1L128.1 15.6L123.3 18L117.7 20.1L111.3 22.1L104.1 24L96.2 25.6L87.5 27.1L78 28.4L67.8 29.5L56.8 30.4L45.1 31.1L32.3 31.6L18.2 31.9L0 32L-18.2 31.9L-32.3 31.6L-45.1 31.1L-56.8 30.4L-67.8 29.5L-78 28.4L-87.5 27.1L-96.2 25.6L-104.1 24L-111.3 22.1L-117.7 20.1L-123.3 18L-128.1 15.6L-132 13.1L-135 10.4L-137.2 7.4L-138.6 4.2L-139 0L-138.6 -4.2L-137.2 -7.4L-135 -10.4L-132 -13.1L-128.1 -15.6L-123.3 -18L-117.7 -20.1L-111.3 -22.1L-104.1 -24L-96.2 -25.6L-87.5 -27.1L-78 -28.4L-67.8 -29.5L-56.8 -30.4L-45.1 -31.1L-32.3 -31.6L-18.2 -31.9L0 -32L18.2 -31.9L32.3 -31.6L45.1 -31.1L56.8 -30.4L67.8 -29.5L78 -28.4L87.5 -27.1L96.2 -25.6L104.1 -24L111.3 -22.1L117.7 -20.1L123.3 -18L128.1 -15.6L132 -13.1L135 -10.4L137.2 -7.4L138.6 -4.2Z"/>
<path d="M121 0L120.6 3.8L119.5 6.7L117.6 9.3L114.9 11.8L111.5 14.1L107.3 16.2L102.5 18.1L96.9 19.9L90.6 21.6L83.7 23.1L76.1 24.4L67.9 25.5L59 26.5L49.5 27.3L39.2 28L28.1 28.4L15.8 28.7L0 28.8L-15.8 28.7L-28.1 28.4L-39.2 28L-49.5 27.3L-59 26.5L-67.9 25.5L-76.1 24.4L-83.7 23.1L-90.6 21.6L-96.9 19.9L-102.5 18.1L-107.3 16.2L-111.5 14.1L-114.9 11.8L-117.6 9.3L-119.5 6.7L-120.6 3.8L-121 0L-120.6 -3.8L-119.5 -6.7L-117.6 -9.3L-114.9 -11.8L-111.5 -14.1L-107.3 -16.2L-102.5 -18.1L-96.9 -19.9L-90.6 -21.6L-83.7 -23.1L-76.1 -24.4L-67.9 -25.5L-59 -26.5L-49.5 -27.3L-39.2 -28L-28.1 -28.4L-15.8 -28.7L0 -28.8L15.8 -28.7L28.1 -28.4L39.2 -28L49.5 -27.3L59 -26.5L67.9 -25.5L76.1 -24.4L83.7 -23.1L90.6 -21.6L96.9 -19.9L102.5 -18.1L107.3 -16.2L111.5 -14.1L114.9 -11.8L117.6 -9.3L119.5 -6.7L120.6 -3.8Z"/>
<path d="M108 0L107.7 3.4L106.6 6.1L104.9 8.5L102.5 10.7L99.5 12.8L95.8 14.7L91.5 16.5L86.5 18.1L80.9 19.6L74.7 21L68 22.2L60.6 23.2L52.7 24.1L44.2 24.9L35 25.5L25.1 25.9L14.1 26.1L0 26.2L-14.1 26.1L-25.1 25.9L-35 25.5L-44.2 24.9L-52.7 24.1L-60.6 23.2L-68 22.2L-74.7 21L-80.9 19.6L-86.5 18.1L-91.5 16.5L-95.8 14.7L-99.5 12.8L-102.5 10.7L-104.9 8.5L-106.6 6.1L-107.7 3.4L-108 0L-107.7 -3.4L-106.6 -6.1L-104.9 -8.5L-102.5 -10.7L-99.5 -12.8L-95.8 -14.7L-91.5 -16.5L-86.5 -18.1L-80.9 -19.6L-74.7 -21L-68 -22.2L-60.6 -23.2L-52.7 -24.1L-44.2 -24.9L-35 -25.5L-25.1 -25.9L-14.1 -26.1L0 -26.2L14.1 -26.1L25.1 -25.9L35 -25.5L44.2 -24.9L52.7 -24.1L60.6 -23.2L68 -22.2L74.7 -21L80.9 -19.6L86.5 -18.1L91.5 -16.5L95.8 -14.7L99.5 -12.8L102.5 -10.7L104.9 -8.5L106.6 -6.1L107.7 -3.4Z"/>
<path d="M98 0L97.7 3.1L96.8 5.5L95.2 7.7L93 9.7L90.3 11.6L86.9 13.4L83 15L78.5 16.5L73.4 17.8L67.8 19.1L61.7 20.2L55 21.1L47.8 21.9L40.1 22.6L31.8 23.1L22.8 23.5L12.8 23.7L0 23.8L-12.8 23.7L-22.8 23.5L-31.8 23.1L-40.1 22.6L-47.8 21.9L-55 21.1L-61.7 20.2L-67.8 19.1L-73.4 17.8L-78.5 16.5L-83 15L-86.9 13.4L-90.3 11.6L-93 9.7L-95.2 7.7L-96.8 5.5L-97.7 3.1L-98 0L-97.7 -3.1L-96.8 -5.5L-95.2 -7.7L-93 -9.7L-90.3 -11.6L-86.9 -13.4L-83 -15L-78.5 -16.5L-73.4 -17.8L-67.8 -19.1L-61.7 -20.2L-55 -21.1L-47.8 -21.9L-40.1 -22.6L-31.8 -23.1L-22.8 -23.5L-12.8 -23.7L0 -23.8L12.8 -23.7L22.8 -23.5L31.8 -23.1L40.1 -22.6L47.8 -21.9L55 -21.1L61.7 -20.2L67.8 -19.1L73.4 -17.8L78.5 -16.5L83 -15L86.9 -13.4L90.3 -11.6L93 -9.7L95.2 -7.7L96.8 -5.5L97.7 -3.1Z"/>
<path d="M89.5 0L89.2 2.8L88.4 5L87 7L85 8.8L82.5 10.5L79.4 12.1L75.8 13.6L71.7 14.9L67 16.2L61.9 17.3L56.3 18.3L50.2 19.2L43.7 19.9L36.6 20.5L29 21L20.8 21.3L11.7 21.5L0 21.6L-11.7 21.5L-20.8 21.3L-29 21L-36.6 20.5L-43.7 19.9L-50.2 19.2L-56.3 18.3L-61.9 17.3L-67 16.2L-71.7 14.9L-75.8 13.6L-79.4 12.1L-82.5 10.5L-85 8.8L-87 7L-88.4 5L-89.2 2.8L-89.5 0L-89.2 -2.8L-88.4 -5L-87 -7L-85 -8.8L-82.5 -10.5L-79.4 -12.1L-75.8 -13.6L-71.7 -14.9L-67 -16.2L-61.9 -17.3L-56.3 -18.3L-50.2 -19.2L-43.7 -19.9L-36.6 -20.5L-29 -21L-20.8 -21.3L-11.7 -21.5L0 -21.6L11.7 -21.5L20.8 -21.3L29 -21L36.6 -20.5L43.7 -19.9L50.2 -19.2L56.3 -18.3L61.9 -17.3L67 -16.2L71.7 -14.9L75.8 -13.6L79.4 -12.1L82.5 -10.5L85 -8.8L87 -7L88.4 -5L89.2 -2.8Z"/>
<path d="M82 0L81.7 2.6L81 4.5L79.7 6.3L77.9 8L75.5 9.5L72.7 10.9L69.4 12.3L65.7 13.5L61.4 14.6L56.7 15.6L51.6 16.5L46 17.3L40 18L33.5 18.5L26.6 18.9L19.1 19.3L10.7 19.4L0 19.5L-10.7 19.4L-19.1 19.3L-26.6 18.9L-33.5 18.5L-40 18L-46 17.3L-51.6 16.5L-56.7 15.6L-61.4 14.6L-65.7 13.5L-69.4 12.3L-72.7 10.9L-75.5 9.5L-77.9 8L-79.7 6.3L-81 4.5L-81.7 2.6L-82 0L-81.7 -2.6L-81 -4.5L-79.7 -6.3L-77.9 -8L-75.5 -9.5L-72.7 -10.9L-69.4 -12.3L-65.7 -13.5L-61.4 -14.6L-56.7 -15.6L-51.6 -16.5L-46 -17.3L-40 -18L-33.5 -18.5L-26.6 -18.9L-19.1 -19.3L-10.7 -19.4L0 -19.5L10.7 -19.4L19.1 -19.3L26.6 -18.9L33.5 -18.5L40 -18L46 -17.3L51.6 -16.5L56.7 -15.6L61.4 -14.6L65.7 -13.5L69.4 -12.3L72.7 -10.9L75.5 -9.5L77.9 -8L79.7 -6.3L81 -4.5L81.7 -2.6Z"/>
<path d="M75 0L74.8 2.3L74 4L72.9 5.6L71.2 7.1L69.1 8.5L66.5 9.8L63.5 10.9L60.1 12L56.2 13L51.9 13.9L47.2 14.7L42.1 15.4L36.6 16L30.7 16.5L24.3 16.9L17.4 17.2L9.8 17.3L0 17.4L-9.8 17.3L-17.4 17.2L-24.3 16.9L-30.7 16.5L-36.6 16L-42.1 15.4L-47.2 14.7L-51.9 13.9L-56.2 13L-60.1 12L-63.5 10.9L-66.5 9.8L-69.1 8.5L-71.2 7.1L-72.9 5.6L-74 4L-74.8 2.3L-75 0L-74.8 -2.3L-74 -4L-72.9 -5.6L-71.2 -7.1L-69.1 -8.5L-66.5 -9.8L-63.5 -10.9L-60.1 -12L-56.2 -13L-51.9 -13.9L-47.2 -14.7L-42.1 -15.4L-36.6 -16L-30.7 -16.5L-24.3 -16.9L-17.4 -17.2L-9.8 -17.3L0 -17.4L9.8 -17.3L17.4 -17.2L24.3 -16.9L30.7 -16.5L36.6 -16L42.1 -15.4L47.2 -14.7L51.9 -13.9L56.2 -13L60.1 -12L63.5 -10.9L66.5 -9.8L69.1 -8.5L71.2 -7.1L72.9 -5.6L74 -4L74.8 -2.3Z"/>
<path d="M68.5 0L68.3 2L67.6 3.6L66.5 5L65 6.3L63.1 7.5L60.8 8.6L58 9.7L54.9 10.7L51.3 11.5L47.4 12.3L43.1 13L38.4 13.7L33.4 14.2L28 14.6L22.2 15L15.9 15.2L9 15.4L0 15.4L-9 15.4L-15.9 15.2L-22.2 15L-28 14.6L-33.4 14.2L-38.4 13.7L-43.1 13L-47.4 12.3L-51.3 11.5L-54.9 10.7L-58 9.7L-60.8 8.6L-63.1 7.5L-65 6.3L-66.5 5L-67.6 3.6L-68.3 2L-68.5 0L-68.3 -2L-67.6 -3.6L-66.5 -5L-65 -6.3L-63.1 -7.5L-60.8 -8.6L-58 -9.7L-54.9 -10.7L-51.3 -11.5L-47.4 -12.3L-43.1 -13L-38.4 -13.7L-33.4 -14.2L-28 -14.6L-22.2 -15L-15.9 -15.2L-9 -15.4L0 -15.4L9 -15.4L15.9 -15.2L22.2 -15L28 -14.6L33.4 -14.2L38.4 -13.7L43.1 -13L47.4 -12.3L51.3 -11.5L54.9 -10.7L58 -9.7L60.8 -8.6L63.1 -7.5L65 -6.3L66.5 -5L67.6 -3.6L68.3 -2Z"/>
<path d="M62.5 0L62.3 1.8L61.7 3.1L60.7 4.3L59.3 5.5L57.6 6.5L55.4 7.5L52.9 8.4L50.1 9.3L46.8 10L43.2 10.7L39.3 11.3L35.1 11.9L30.5 12.3L25.6 12.7L20.3 13L14.5 13.2L8.2 13.4L0 13.4L-8.2 13.4L-14.5 13.2L-20.3 13L-25.6 12.7L-30.5 12.3L-35.1 11.9L-39.3 11.3L-43.2 10.7L-46.8 10L-50.1 9.3L-52.9 8.4L-55.4 7.5L-57.6 6.5L-59.3 5.5L-60.7 4.3L-61.7 3.1L-62.3 1.8L-62.5 0L-62.3 -1.8L-61.7 -3.1L-60.7 -4.3L-59.3 -5.5L-57.6 -6.5L-55.4 -7.5L-52.9 -8.4L-50.1 -9.3L-46.8 -10L-43.2 -10.7L-39.3 -11.3L-35.1 -11.9L-30.5 -12.3L-25.6 -12.7L-20.3 -13L-14.5 -13.2L-8.2 -13.4L0 -13.4L8.2 -13.4L14.5 -13.2L20.3 -13L25.6 -12.7L30.5 -12.3L35.1 -11.9L39.3 -11.3L43.2 -10.7L46.8 -10L50.1 -9.3L52.9 -8.4L55.4 -7.5L57.6 -6.5L59.3 -5.5L60.7 -4.3L61.7 -3.1L62.3 -1.8Z"/>
<path d="M56.5 0L56.3 1.5L55.8 2.7L54.9 3.7L53.6 4.7L52.1 5.6L50.1 6.4L47.8 7.2L45.2 7.9L42.3 8.5L39.1 9.1L35.6 9.7L31.7 10.1L27.6 10.5L23.1 10.8L18.3 11.1L13.1 11.3L7.4 11.4L0 11.4L-7.4 11.4L-13.1 11.3L-18.3 11.1L-23.1 10.8L-27.6 10.5L-31.7 10.1L-35.6 9.7L-39.1 9.1L-42.3 8.5L-45.2 7.9L-47.8 7.2L-50.1 6.4L-52.1 5.6L-53.6 4.7L-54.9 3.7L-55.8 2.7L-56.3 1.5L-56.5 0L-56.3 -1.5L-55.8 -2.7L-54.9 -3.7L-53.6 -4.7L-52.1 -5.6L-50.1 -6.4L-47.8 -7.2L-45.2 -7.9L-42.3 -8.5L-39.1 -9.1L-35.6 -9.7L-31.7 -10.1L-27.6 -10.5L-23.1 -10.8L-18.3 -11.1L-13.1 -11.3L-7.4 -11.4L0 -11.4L7.4 -11.4L13.1 -11.3L18.3 -11.1L23.1 -10.8L27.6 -10.5L31.7 -10.1L35.6 -9.7L39.1 -9.1L42.3 -8.5L45.2 -7.9L47.8 -7.2L50.1 -6.4L52.1 -5.6L53.6 -4.7L54.9 -3.7L55.8 -2.7L56.3 -1.5Z"/>
<path d="M51 0L50.8 1.2L50.4 2.2L49.5 3L48.4 3.8L47 4.6L45.2 5.3L43.2 5.9L40.8 6.5L38.2 7L35.3 7.5L32.1 8L28.6 8.3L24.9 8.7L20.9 8.9L16.5 9.1L11.9 9.3L6.7 9.4L0 9.4L-6.7 9.4L-11.9 9.3L-16.5 9.1L-20.9 8.9L-24.9 8.7L-28.6 8.3L-32.1 8L-35.3 7.5L-38.2 7L-40.8 6.5L-43.2 5.9L-45.2 5.3L-47 4.6L-48.4 3.8L-49.5 3L-50.4 2.2L-50.8 1.2L-51 0L-50.8 -1.2L-50.4 -2.2L-49.5 -3L-48.4 -3.8L-47 -4.6L-45.2 -5.3L-43.2 -5.9L-40.8 -6.5L-38.2 -7L-35.3 -7.5L-32.1 -8L-28.6 -8.3L-24.9 -8.7L-20.9 -8.9L-16.5 -9.1L-11.9 -9.3L-6.7 -9.4L0 -9.4L6.7 -9.4L11.9 -9.3L16.5 -9.1L20.9 -8.9L24.9 -8.7L28.6 -8.3L32.1 -8L35.3 -7.5L38.2 -7L40.8 -6.5L43.2 -5.9L45.2 -5.3L47 -4.6L48.4 -3.8L49.5 -3L50.4 -2.2L50.8 -1.2Z"/>
<path d="M45 0L44.9 1L44.4 1.7L43.7 2.4L42.7 3L41.5 3.6L39.9 4.2L38.1 4.7L36 5.1L33.7 5.5L31.1 5.9L28.3 6.3L25.3 6.6L22 6.8L18.4 7L14.6 7.2L10.5 7.3L5.9 7.4L0 7.4L-5.9 7.4L-10.5 7.3L-14.6 7.2L-18.4 7L-22 6.8L-25.3 6.6L-28.3 6.3L-31.1 5.9L-33.7 5.5L-36 5.1L-38.1 4.7L-39.9 4.2L-41.5 3.6L-42.7 3L-43.7 2.4L-44.4 1.7L-44.9 1L-45 0L-44.9 -1L-44.4 -1.7L-43.7 -2.4L-42.7 -3L-41.5 -3.6L-39.9 -4.2L-38.1 -4.7L-36 -5.1L-33.7 -5.5L-31.1 -5.9L-28.3 -6.3L-25.3 -6.6L-22 -6.8L-18.4 -7L-14.6 -7.2L-10.5 -7.3L-5.9 -7.4L0 -7.4L5.9 -7.4L10.5 -7.3L14.6 -7.2L18.4 -7L22 -6.8L25.3 -6.6L28.3 -6.3L31.1 -5.9L33.7 -5.5L36 -5.1L38.1 -4.7L39.9 -4.2L41.5 -3.6L42.7 -3L43.7 -2.4L44.4 -1.7L44.9 -1Z"/>
<path d="M38 0L37.9 0.7L37.5 1.2L36.9 1.7L36.1 2.1L35 2.5L33.7 2.9L32.2 3.3L30.4 3.6L28.5 3.9L26.3 4.2L23.9 4.4L21.3 4.6L18.5 4.8L15.5 4.9L12.3 5.1L8.8 5.1L5 5.2L0 5.2L-5 5.2L-8.8 5.1L-12.3 5.1L-15.5 4.9L-18.5 4.8L-21.3 4.6L-23.9 4.4L-26.3 4.2L-28.5 3.9L-30.4 3.6L-32.2 3.3L-33.7 2.9L-35 2.5L-36.1 2.1L-36.9 1.7L-37.5 1.2L-37.9 0.7L-38 0L-37.9 -0.7L-37.5 -1.2L-36.9 -1.7L-36.1 -2.1L-35 -2.5L-33.7 -2.9L-32.2 -3.3L-30.4 -3.6L-28.5 -3.9L-26.3 -4.2L-23.9 -4.4L-21.3 -4.6L-18.5 -4.8L-15.5 -4.9L-12.3 -5.1L-8.8 -5.1L-5 -5.2L0 -5.2L5 -5.2L8.8 -5.1L12.3 -5.1L15.5 -4.9L18.5 -4.8L21.3 -4.6L23.9 -4.4L26.3 -4.2L28.5 -3.9L30.4 -3.6L32.2 -3.3L33.7 -2.9L35 -2.5L36.1 -2.1L36.9 -1.7L37.5 -1.2L37.9 -0.7Z"/>
</g>
<g stroke="#000" stroke-width="2.8" stroke-linecap="round" stroke-dasharray="10.37 10.37" fill="none">
<path d="M1784.5 551.2V35.3"/>
<path d="M1517 293.2H2052.5"/>
</g>
<g stroke="#B8860B" fill="none" stroke-linecap="round"><circle cx="1899.8" cy="369.6" r="14.7" stroke-width="4.3"/><path d="M1895 364.8l9.6 9.6M1895 374.4l9.6 -9.6" stroke-width="3.4"/></g>
<rect x="1517" y="35.3" width="535.5" height="515.9" fill="none" stroke="#000" stroke-width="3.0"/>
<g stroke="#000" stroke-width="2.8" stroke-linecap="round" fill="none">
<path d="M1500.3 132.8H1517M1500.3 213H1517M1500.3 293.2H1517M1500.3 373.4H1517M1500.3 453.6H1517"/>
<path d="M1565.5 551.2V567.9M1675 551.2V567.9M1784.5 551.2V567.9M1894 551.2V567.9M2003.5 551.2V567.9"/>
</g>
<g font-size="52.2" text-anchor="end" stroke="#000" stroke-width="0.7" stroke-linejoin="round">
<text x="1483.6" y="151.3">2</text>
<text x="1483.6" y="231.5">1</text>
<text x="1483.6" y="311.7">0</text>
<text x="1483.6" y="391.9">-1</text>
<text x="1483.6" y="472.1">-2</text>
</g>
<g font-size="52.2" text-anchor="middle" stroke="#000" stroke-width="0.7" stroke-linejoin="round">
<text x="1565.5" y="611.4">-2</text>
<text x="1675" y="611.4">-1</text>
<text x="1784.5" y="611.4">0</text>
<text x="1894" y="611.4">1</text>
<text x="2003.5" y="611.4">2</text>
</g>
<text y="665.8" font-size="49.6" stroke="#000" stroke-width="0.7" stroke-linejoin="round"><tspan x="1502.23">Precipitation</tspan><tspan xml:space="preserve"> coef. (</tspan><tspan x="1921.84" dy="1.4" font-family="DejaVu Sans" font-size="44.5" stroke-width="0.3">×</tspan><tspan x="1954.11" dy="-1.4">10</tspan><tspan x="2008.68" dy="-22.4" font-size="34.72" stroke-width="0">−</tspan><tspan x="2028.34" dy="-2.9" font-size="34.72">4</tspan><tspan x="2047.65" dy="25.3">)</tspan></text>
<text transform="translate(1402.6 293) rotate(-90)" font-size="49.6" stroke="#000" stroke-width="0.7" stroke-linejoin="round"><tspan x="-297.53">Precipitation</tspan><tspan x="-24.58" dy="-25.3" font-size="34.72">2</tspan><tspan x="-5.27" dy="25.3" xml:space="preserve"> coef.  (</tspan><tspan x="155.2" dy="1.4" font-family="DejaVu Sans" font-size="44.5" stroke-width="0.3">×</tspan><tspan x="187.46" dy="-1.4">10</tspan><tspan x="242.03" dy="-22.4" font-size="34.72" stroke-width="0">−</tspan><tspan x="261.69" dy="-2.9" font-size="34.72">7</tspan><tspan x="281.01" dy="25.3">)</tspan></text>
<text x="1785.4" y="68.4" font-size="33.2" text-anchor="middle" stroke="#000" stroke-width="0.45">Reshuffled years</text>
<text x="1539.5" y="110.9" font-size="83" font-weight="bold">e</text>
</g>
<g transform="translate(0 2040.9)">
<path d="M1591.8 551.2L1591.8 551.2L1594.9 551.2L1597.9 551.1L1600.9 551.1L1603.9 551L1606.9 550.9L1609.9 550.8L1612.9 550.7L1615.9 550.5L1619 550.3L1622 550.1L1625 549.9L1628 549.5L1631 549.1L1634 548.6L1637 548L1640 547.4L1643 546.9L1646.1 546.3L1649.1 545.6L1652.1 544.9L1655.1 544.2L1658.1 543.5L1661.1 542.7L1664.1 541.9L1667.1 541L1670.2 540L1673.2 539L1676.2 537.8L1679.2 536.5L1682.2 535.1L1685.2 533.5L1688.2 531.8L1691.2 529.7L1694.3 527.2L1697.3 524.2L1700.3 521L1703.3 517.6L1706.3 514.3L1709.3 511.1L1712.3 507.8L1715.3 504.4L1718.3 501L1721.4 497.7L1724.4 494.5L1727.4 491.3L1730.4 488L1733.4 484.9L1736.4 482.1L1739.4 479.6L1742.4 477.6L1745.5 475.8L1748.5 474.1L1751.5 472.4L1754.5 470.7L1757.5 468.6L1760.5 466.2L1763.5 463.7L1766.5 461.4L1769.6 459.5L1772.6 458.4L1775.6 457.5L1778.6 456.7L1781.6 456.2L1784.6 455.9L1787.6 456L1790.6 456.1L1793.6 456.4L1796.7 456.7L1799.7 457.2L1802.7 458.3L1805.7 459.9L1808.7 461.8L1811.7 463.8L1814.7 466.5L1817.7 469.7L1820.8 473L1823.8 476.2L1826.8 479.6L1829.8 482.9L1832.8 486.3L1835.8 489.6L1838.8 492.8L1841.8 495.9L1844.9 498.9L1847.9 501.8L1850.9 504.8L1853.9 507.8L1856.9 510.9L1859.9 514L1862.9 517.1L1865.9 520.1L1868.9 523L1872 525.7L1875 528.3L1878 530.9L1881 533.4L1884 535.5L1887 537.4L1890 539.1L1893 540.7L1896.1 542.1L1899.1 543.3L1902.1 544.4L1905.1 545.3L1908.1 546.2L1911.1 547L1914.1 547.7L1917.1 548.3L1920.1 548.7L1923.2 549L1926.2 549.2L1929.2 549.5L1932.2 549.7L1935.2 549.9L1938.2 550.1L1941.2 550.3L1944.2 550.5L1947.3 550.7L1950.3 550.8L1953.3 550.9L1956.3 551L1959.3 551.1L1962.3 551.1L1965.3 551.2L1968.3 551.2L1968.3 551.2Z" fill="#CCC"/>
<path d="M2052.5 149.3L2052.5 149.3L2052.5 152.3L2052.4 155.3L2052.2 158.3L2052 161.3L2051.7 164.3L2051.2 167.3L2050.7 170.3L2050.1 173.3L2049.5 176.3L2048.8 179.3L2048.1 182.3L2047.2 185.3L2046.2 188.4L2045.1 191.4L2043.8 194.4L2042.4 197.4L2040.9 200.4L2039.2 203.4L2037.3 206.4L2035.2 209.4L2032.7 212.4L2029.7 215.4L2026.5 218.4L2023.2 221.4L2019.8 224.4L2016.3 227.4L2012.6 230.4L2008.8 233.4L2004.8 236.4L2000.6 239.4L1996.3 242.4L1991.9 245.4L1987.1 248.5L1981.9 251.5L1976.9 254.5L1972.7 257.5L1969.1 260.5L1965.8 263.5L1962.9 266.5L1960.7 269.5L1958.9 272.5L1957.4 275.5L1956.2 278.5L1955.4 281.5L1954.8 284.5L1954.4 287.5L1954.1 290.5L1953.9 293.5L1954.3 296.5L1955.4 299.5L1956.8 302.5L1958.3 305.5L1960.1 308.5L1962.4 311.6L1965 314.6L1967.9 317.6L1971 320.6L1974.5 323.6L1978.3 326.6L1982.3 329.6L1986.8 332.6L1991.7 335.6L1996.8 338.6L2001.5 341.6L2006 344.6L2010.4 347.6L2014.6 350.6L2018.4 353.6L2021.8 356.6L2025 359.6L2027.9 362.6L2030.4 365.6L2032.5 368.6L2034.3 371.6L2036 374.7L2037.6 377.7L2039.2 380.7L2040.9 383.7L2042.3 386.7L2043.6 389.7L2044.7 392.7L2045.6 395.7L2046.5 398.7L2047.2 401.7L2047.9 404.7L2048.6 407.7L2049.1 410.7L2049.6 413.7L2050 416.7L2050.4 419.7L2050.7 422.7L2051.1 425.7L2051.4 428.7L2051.6 431.7L2051.8 434.7L2052 437.8L2052.2 440.8L2052.3 443.8L2052.4 446.8L2052.5 449.8L2052.5 449.8Z" fill="#CCC"/>
<ellipse rx="188.7" ry="42.1" transform="translate(1784.5 293.2) rotate(41.1)" fill="#A3A3A3"/>
<marker id="m4" markerWidth="12" markerHeight="12" refX="6" refY="6" markerUnits="userSpaceOnUse" overflow="visible"><circle cx="6" cy="6" r="2.8" fill="none" stroke="#A0A0A0" stroke-opacity="0.8" stroke-width="2.5"/></marker>
<polyline fill="none" stroke="none" marker-start="url(#m4)" marker-mid="url(#m4)" marker-end="url(#m4)" points="1687.4,186.1 1852.8,307.6 1759.1,361.2 1910.1,399.4 1837.9,378.7 1847.1,296.8 1924.1,406.2 1688.9,264.2 1743.4,188.6 1950.5,418.3 1778.6,342.4 1899.9,427.7 1942.6,355 1644.3,202.2 1655.4,158.7 1934.5,418.3 1722.7,200.6 1910.7,382.5 1745.6,215.4 1758.7,323.5 1858.2,403.5 1619.8,209.5 1919.6,419.3 1671.5,174.1 1696.7,169.9 1674.6,242.5 1641.4,175.5 1775.7,340.9 1911,408 1919.9,456 1652.5,194.1 1875.6,403.1 1948.5,407.1 1893.8,412.8 1891.2,436.6 1723.4,292.9 1964.9,485.1 1900.1,404.5 1826.2,371.4 1871.1,405.2 1690.5,166.8 1861.9,425.7 1697.2,188.4 1876.1,324.9 1928.7,354.6 1920.9,400.1 1728.8,202.6 1893.1,341 1724.5,285.8 1909.3,389.4 1607.4,121.3 1795.1,348.4 1659.9,214.5 1805.8,262.2 1900.3,349.5 1648,182 1632.4,152.3 1650,154.3 1613.6,132.9 1899,419.6 1935.1,396.2 1706.1,184.4 1658.6,193.6 2014.7,483.6 1696.8,150.1 1910.7,393.1 1749.9,311.7 1851,392.9 1617.1,165.2 1632,161.8 1743.7,209.8 1740.8,302.5 1903.6,401.1 1704.1,266.5 1806.3,260.3 1697.8,180.4 1888.9,331.2 1652.3,181.9 1654.7,181.1 1665.4,181.7 1638.9,203 1934.3,428.3 1713,194 1761.1,226.6 1842.2,286.7 1645.2,189.4 1925.6,432.6 1804.2,357.3 1900.8,371.8 1855.4,294.3 1770.8,333 1871.9,399.8 1778.3,339 1675.2,184.9 1930.5,411.8 1835.9,388.5 1676.8,175.1 1603.8,128.8 1733.4,205.7 1761.5,324.2 1889.8,401.4 1698.3,260 1918.2,427.7 1715.9,276.8 1632.8,183.8 1777.9,239.6 1655.2,190.6 1672,179.3 1809.7,359.3 1765.3,223.9 1694.4,189.7 1690,252.3 1802.1,237 1905.7,374 1942.4,432.8 1820.6,269.2 1894.7,408.7 1782,339.4 1646.4,170.5 1689.9,254.8 1819.7,257.5 1905.2,403.3 1858.7,389.7 1786.3,226.3 1707.9,290 1624.5,183.3 1868.7,316.7 1886.2,436.2 1901.5,368.8 1882,463.2 1892.4,405.2 1708.8,279.8 1908.7,380.1 1761.3,320.2 1800.2,359.1 1732.8,297.7 1785.8,347.7 1877.7,397.6 1678,146.3 1994.6,472.9 1755.8,218.8 1638.8,167.5 1658.4,190.6 1707.7,180.2 1809.3,368.9 1663.5,177.7 1877.3,402.7 1895.5,329.7 1877.8,413.7 1868,321.5 1666.7,227.6 1714.5,281 1662.2,217.2 1875.7,416.2 1639.7,170.1 1812,250.5 1800.6,241.4 1954.9,465.6 1786.7,347.8 1660.9,231.6 1765.1,326.6 1626.2,160 1750.9,214.2 1950.1,459.4 1801,356.9 1858.9,412.8 1660.4,208.5 1696.1,267.3 1856.6,312.7 1682.1,162.1 1675,244 1673.1,172.5 1855.3,420.5 1639.6,191.6 1914.7,413.7 1924,388 1747.4,307.7 1635.9,162 1644.7,165.8 1893.4,414.3 1694.8,184.1 1669.1,253.4 1798.2,353.2 1923.4,412.6 1760.6,321.3 1804.7,255.9 1676.4,238.3 1835.4,384.3 1687.9,247.4 1766.6,227.3 1852.4,387.2 1642.4,168.8 1656.5,184.5 1857.6,390 1763.8,350.2 1795.3,249.1 1841.7,386.6 1704.4,272.3 1641.3,202.9 1616.6,165.2 1644.1,221.2 1730.5,294.6 1919,402.8 1673.5,163 1675.7,184.2 1695.9,182.3 1744.5,217.4 1819.1,374.6 1750.2,311.1 1844.7,281.8 1771.8,331.5 1661.7,214.8 1609.2,140.9 1656.7,179.9 1837.2,280 1623.2,160.7 1908.6,374 1683.4,247.4 1874.7,332.7 1851.3,393.3 1697,185.7 1795.5,254.3 1600.1,83.1 1830.2,272.3 1718,193.2 1808.6,250.2 1860.8,314.7 1919.7,424.2 1653.7,189.3 1662.2,217.5 1891.4,403.4 1587.4,136 1950.6,415 1667.2,160.9 1888.3,350.4 1658.3,199.2 1624.9,165.3 1918,339.2 1701.5,274.2 1661.2,213.3 1747.8,213.3 1917.8,406.1 1828.5,379.4 1687.1,179.9 1680.2,241.1 1897.9,404.7 1696.4,267.6 1931.7,372.3 1703.4,264.3 1615.1,164.9 1784.7,345.5 1838.8,385.3 1655.2,197.1 1903.3,375.1 1652.5,179.4 1924.3,419.8 1667.6,168.2 1681.9,241.4 1661,202.6 1912.8,408.4 1595.9,123.4 1720.9,196.3 1776,236.3 1771.3,329.2 1784.7,232.9 1686.9,246.4 1663,184.5 1870.8,319.6 2014.2,482.4 1831.8,376.8 1896,405.1 1602.7,114.5 1856.4,391.6 1858.2,290.6 1887.3,407.3 1842.3,298.3 1654.2,192.6 1685.5,262 1668.7,223.1 1664,232.8 1802.8,239.6 1660,196.3 1883.5,311.1 1662.8,205.4 1844.6,383.8 1722.6,200 1896,339.9 1793.8,245.8 1652.9,190.5 1926.4,392.9 1686.1,187 1926.3,429.2 1769.3,233.9 1889.8,402.6 1809.5,366.3 1813.4,270.3 1728.5,196.8 1900.5,401.1 1893.9,416.8 1757.5,317.1 1571,65.8 1857.7,313.7 1907.3,400.3 1630.4,163.3 1940.1,389.8 1815.7,365.2 1695.6,183.9 1786.4,240.2 1651.5,179.8 1911.9,395 1868.2,317.1 1965.3,418.1 1733,298 1917.4,379.1 1777.1,223 1917.6,393 1592.7,151 1759.7,209.1 1926.2,438 1677.4,160.1 1671.5,179.4 1906,369.3 1884.1,415.1 1569.6,154.8 1745,210.9 1623.2,85.4 1905.8,399 1663.3,210.9 1787.7,349.3 1941.4,391.5 1703.2,165 1791,239.2 1930.3,423.8 1906.7,414 1735.2,313.3 1768,233.6 1797.6,351.4 1782.5,237.7 1854.8,309.8 1700.3,189.3 1655.3,192.9 1858.2,290.6 1861.5,428 1708.4,290 1848.7,392.9 1884.1,342.3 1798.3,353.7 1871.6,405.3 1692.9,184.5 1840.9,278.5 1936.6,482.2 1822.4,395.7 1951.5,469.6 1798.5,238.3 1796.4,348.8 1557.6,159 1745.8,306.5 1654,199 1767.5,338.4 1912.6,389.6 1887.7,403.3 1906.2,427.2 1878.9,399.8 1654,213.7 1911.4,392.1 1656.5,187.7 1692.2,188.6 1897.7,407.5 1943,384.9 1919.2,400.6 1836.2,266.4 1890.7,405.5 1981.4,468.9 1855.7,390 1717.3,183.6 1959.2,412.1 1639.5,211.2 1748.8,213.2 1739.3,311 1650.8,181.8 1654.8,189.3 1908,393.7 1709.1,271.8 1777.2,350.9 1943.1,442.8 1879.1,406.2 1852.4,297.7 1730.9,207.2 1668.9,243 1971.5,389.1 1698.7,179.4 1660,183.1 1667.2,219 1638.4,185.9 1643.2,220.5 1687.9,184.7 1522.7,101.2 1662.9,191.6 1638.6,210 1786.7,241.1 1947.3,391.8 1898.7,365.7 1661.8,187.9 1763.4,336.4 1771.6,336 1963.7,484.1 1909.9,403.7 1741.2,198.9 1856.6,392.4 1659.2,219.6 1851.2,393.7 1934.6,375.5 1876.8,401 1657.2,204.8 1894.2,415.5 1789.2,229.6 1680.3,240.8 1809.5,260.9 1735,300 1785,351.3 1683.3,240.8 1619.5,157.4 1627.6,159.4 1774.9,332.7 1916.5,431.4 1855.8,426.9 1544.8,108 1918.3,436.5 1834.9,386 1882.5,335.4 1906.4,358.5 1655.2,184 1756,316.1 1829.3,276.6 1914.7,398.3 1691,188.6 1896.5,334.7 1932,375.9 1930.9,391.2 1897.6,365.8 1841.2,297.5 1889.6,353 1846.6,290.9 1822.5,274.2 1688.8,162.9 1705.6,191 1928.3,388.1 1705.7,180.8 1827.6,279.6 1910.5,428 1906.9,375.9 1881.6,332.7 1759.7,226.2 1907.3,395.7 1668.9,237.2 1693,256.6 1886.1,405.5 1884.5,407 1658.1,198.8 1748.4,311.8 1846.6,389.5 1758.6,224.6 1721.9,285.6 1895.2,360.3 1915.2,397.8 1841.1,384.3 1624.9,175.9 1691.6,251 1911.2,385 1727.2,196.4 1730.5,190.9 1599.8,179.7 1855.1,294.9 1725.9,287.7 1723.8,198.4 1880.4,433 1852.7,303.3 1601.1,96 1699,188.1 1644.7,176.8 1752.3,314.6 1729.4,291.5 1801.3,361.2 1713.3,180.3 1750.7,332.1 1740,303.6 1687.3,255 1603.9,108 1691.4,183.6 1613.4,179.1 1694.4,189.7 1757.9,211.8 1893.7,405 1735.4,207.1 1871.5,396.5 1894,421.8 1724.1,195.4 1740.9,203.8 1645.7,179.7 1693.3,158.7 1915.4,399.4 1931.2,414.5 1827.3,276.8 1756.7,215.9 1869.3,319.1 1831,409.7 1953.9,426.1 1668.5,178.6 1653.6,204.1 1695.1,189 1762.2,323.3 1872.6,399.3 1702.5,265.5 1661,171 1877.2,427 1617.3,176.1 1800.9,374.7 1911,380.1 1681,246.6 1650.2,188.3 1902.6,375.2 1688.1,181.9 1742.8,307.8 1640.8,178.5 1601.4,175.9 1671.8,228.5 1886.3,348.9 1680.1,270.4 1908.5,375.3 1776.7,338.5 1640.3,154.1 1757.5,326 1871.5,313.8 1743.7,214.4 1955.1,410.1 1911.6,372.1 1796.3,255.7 1873.9,325.3 1899.9,361.9 1901,358.5 1848.2,270.3 1781.1,197.1 1751.8,319.9 1655.8,174.7 1924,388.4 1657.5,169.4 1895.7,442.3 1830.1,390.1 1639.8,205.6 1678.6,248.8 1665.1,179.1 1928,425.4 1775.9,338.5 1843,297.7 1898.1,401.6 1630.4,183.1 1760,227.4 1703.3,189.6 1684.6,246.1 1845.5,301.7 1600.1,143.4 1677.5,179.1 1656,137.3 1875,317.5 1685,180.1 1962.9,445.9 1958.6,436 1668.4,225.3 1794.9,349 1667.3,165.3 1671,220 1905.8,413.2 1672.6,243.6 1932.1,416.9 1817.3,264.6 1925.7,386.9 1732.6,298.4 1717.8,199.8 1669.1,224.7 1647.8,193.3 1784.9,350.5 1596.7,158 1826.2,254.3 1897.5,410.8 1652.7,219.1 1628.7,168.6 1729.1,293.2 1966.6,445.4 1693.8,272 1658.5,210.3 1864.5,291.1 1896.8,417.5 1915.3,414.5 1897.9,408.6 1901.3,422.8 1712.9,284.1 1850.7,402.4 1797,243.4 1695.7,189.7 1931,411.1 1917.2,361.9 1802.6,371.9 1701.3,187.4 1725,203.3 1645.9,172.1 1639,206 1795.7,249.3 1698,263 1670.2,220.1 1646.1,178.5 1833.6,377.2 1760,226.6 1740.2,207.5 1695.5,182 1685.3,274.3 1897.1,420.4 1940.5,413.4 1833.9,279.8 1818.9,275.3 1813.8,361.5 1886.5,402.9 1890.2,331.8 1620.1,164.1 1671.9,255.4 2000.4,501.9 1944.8,426 1660.7,206.2 1946.5,421.6 1837.5,377.5 1940.5,357.3 1927.7,411.9 1685,186.7 1887.5,345.3 1726.4,305.8 1841.9,288.4 1905.9,412.5 1914.9,405.3 1784.1,352.6 1903.2,376 1767.3,226.1 1871.1,320 1702.4,262.7 1848.9,304.2 1803.8,248.9 1770.4,235.5 1882.4,407.9 1643.9,213.2 1825.3,382.6 1824,279 1637.7,161.2 1781.6,244.5 1887.4,342 1651.9,165.8 1653.5,178.6 1871.9,325.8 1922.8,397.8 1799.6,353.9 1672.1,245.8 1839.6,392.7 1944.2,409.8 1675.4,245.9 1827.3,392.9 1616.3,145.5 1961.2,460 1890.7,417.2 1663.4,208.3 1905.1,375.4 1737.2,298.9 1627.6,168.6 1712.2,194.8 1692.8,173 1771.5,332.7 1854,308.9 1891.4,404.5 1670.9,231.9 1790.4,345.7 1643.7,229.6 1674.9,246.3 1738.8,302.6 1825.4,374.5 1787.8,242.8 1661.1,204.3 1675.4,233.6 1721.6,190.6 1649.8,220.8 1920.8,405.4 1844,299.4 1852.6,301.6 1794,245.6 1654.8,172.9 1742.7,207.8 1917.3,406.9 1658.4,188.8 1888.8,328.3 1930.2,382.7 1703.1,291.2 1818.7,272.4 1732.7,294.4 1635.4,170.4 1931.7,429.2 1918.3,369 1914.8,338.6 1859.1,406.8 1827.1,282.9 1650.8,221.9 1700.6,188 1713,195 1780.4,353.2 1655.7,154.3 1696.9,265.5 1877.5,409.2 1882.6,413.6 1915,381 1660.2,182.1 1666.3,217.4 1862.7,393.8 1697.1,316 1691.4,180 1908.9,435.8 1926.9,462.3 1838.7,432.3 1706.7,282.4 1925.9,440.5 1889.3,436.3 1649.5,196.5 1936.2,454.3 1727.1,306.2 1729.4,299.7 1858.7,314.7 1699.6,265 1794.3,351.4 1653.2,173.8 1913,360.3 1820.4,376 1671.8,237.3 1696.9,188.3 1610.8,92.2 1898.5,402.5 1944.3,412 1852.2,300 1642.4,193.6 1611,194.6 1740.9,312.8 1710.1,282.8 1669.7,176.1 1910.4,376.8 1698.4,265.1 1802.4,251.5 1670.6,157 1684.8,244.8 1866.9,310.5 1685.6,175.6 1831.7,282.5 1700,259.7 1674.4,230 1664.5,240.8 1852.4,299.8 1911.4,389.3 1906.7,407.8 1574.2,130.7 1640.1,142.3 1965.2,445.1 1925.1,396.3 1686.8,173.3 1766.5,225.3 1903.1,410.8 1899.9,359 1649.8,174.6 1776.7,230.9 1653.3,191.3 1917.7,360.1 1642.1,123.4 1827.8,279.6 1923.2,402.4 1654.2,197.8 1896.8,414.3 1635.9,178.7 1864.2,392.2 1664.3,212.8 1693.9,185.5 1866.3,418.7 1745.9,309.9 1869.2,312.7 1869.6,399.1 1927.9,403 1669.3,154.6 1729.2,290.6 1896,439.8 1874,332.7 1686.1,185.3 1854.4,311 1936.2,384.6 1772.8,231.4 1630.5,169.7 1757.6,201.9 1679.5,182.6 1854.1,389.4 1817.1,270.3 1669.2,232 1647.3,203.3 1837.4,292.2 1803.1,367.1 1823.5,263 1671.1,173.9 1861.9,408.3 1620.8,143.2 1575.4,130.2 1694.2,270.1 1691.7,188.9 1677.7,178.1 1840.8,296.1 1708.3,278.6 1629.6,189.3 1811.3,239.2 1916.2,389 1880.5,415.5 1843.2,381.8 1840.8,386.9 1699.2,259.1 1666.8,176.5 1875.2,398 1948.9,442.1 1719.7,190.5 1787.2,245.4 1874.8,326.7 1908.9,408.7 1640.7,201.8 1631.9,145.3 1713.5,277.8 1805.7,257.9 1838.6,285 1846,388.9 1821.8,370.7 1907.8,399.8 1932.8,400.5 1857.3,402.4 1836.5,284 1656.2,225 1692.4,185.4 1708.4,182.6 1744.5,214.9 1756.7,316.1 1887.6,321.8 1920.1,420.8 1852.3,279.2 1865,321.1 1648.7,169.3 1633.1,130.4 1624.2,154.6 1939,446.1 1735.3,296.6 1790.1,237.9 1908.3,380.7 1639.3,179.6 1681.1,163 1688,147.1 1658.2,200.8 1760.9,341.7 1799.6,367.1 1732.5,308.9 1938.3,407.6 1910.5,374.6 1710.5,161.2 1680,180.1 1909.2,418.8 1750.4,324.7 1886.8,403.3 1665.2,187.5 1655,216.6 1812.9,362.4 1800.7,357.3 1597,157.5 1767.7,327.8 1916.7,407.4 1640.5,182.5 1922.1,408.5 1874.8,329.9 1858,301.4 1602.5,149.9 1646.5,196.7 1909.3,398.1 1644.8,181.8 1808.3,365.9 1800.1,363.6 1769.8,328.1 1841.5,293.5 1933.9,394.5 1767.8,233 1779.1,233.6 1896.7,361 1740.5,310.2 1851.6,286.4 1609.4,154.7 1744.1,207.4 1777.2,240.7 1905.3,366.7 1605.2,123.8 1656.4,232.1 1783.7,236.1 1881.3,337.6 1950.5,446.7 1774.7,230.7 1743.7,205.2 2007.8,517.6 1784.7,362.4 1975.1,443.5 1839.9,266.4 1662.4,198.5 1855.7,390.4 1946.3,408.4 1811.9,260.3 1829.4,375.3 1956.3,393.1 1804.5,260.7 1750.2,318.8 1799.6,370.5 1708.3,189.3 1864.6,306.7 1768.5,337.3 1730.3,195.4 1837.8,384.9 1703,266.8 1951.5,446.6 1876.9,400.1 1760.2,224.3 1694.2,263.4 1735,210.9 1718.8,281.2 1671.3,152.6 1726.7,316.5 1895.4,360 1704.9,179.8 1669.3,223 1664.6,237.9 1872.1,415.2 1709.9,185.7 1910,403.5 1854.4,395.9 1648.1,210.2 1728.9,296.5 1699.7,263.1 1911.5,402.3 1907.3,368.4 1884.1,410.1 1602.9,112.2 1922.8,392.7 1718.7,293.8 1795.1,254.2 1899.7,421.6 1858,300.3 1798.8,253.3 1663.3,214.8 1616.7,146.8 1578,127.2 1788.2,349.9 1739.9,308.5 1648,195.3 1660.2,225.4 1662.2,160.1 1690.9,168.9 1868.9,415.4 1922.8,416.2 1656.2,235.6 1885,402.6 1899.4,359.4 1654.6,183.7 1635.1,156.7 1838.1,293 1990.9,435 1868.7,397.7 1924,405.7 1713.8,178.1 1924,381.2 1807.7,368 1902.1,406 1782.3,245.1 1870.4,320.5 1658.3,189.3 1710.2,280.7 1719.5,302.2 1919.3,424.4 1723.2,200.8 1914.2,392.9 1936.9,392.5 1638.3,204.2 1678.9,233.9 1910.3,380.8 1745.2,212.1 1784.2,351.2 1829.4,278.1 1798.9,252.7 1839.3,280.4 1734.9,302.3 1678.1,176.8 1907.7,358.4 1734.6,307.4 1808,262.8 1970.1,457.8 1755.2,327.7 1686.4,183.3 1777.6,219.5 1876.8,402.4 1904.5,352.7 1925.6,368.4 1662.9,177 1668.9,245.8 1813.3,401.5 1799.8,248.3 1637.1,177.6 1834.3,376.5 1838.1,281.6 1903.7,376.1 1736,312.6 1623.9,104.6 1751.9,319 1688.8,250.1 1882.6,406.4 1744.9,211.5 1698.3,265.8 1627.5,162.9 1674.8,232.1 1900.6,355.9 1867.7,407.7 1675.4,235.1 1702.8,263.1 1848.2,389.2 1924.3,412.8 1669.9,173.6 1640.4,173.7 1706.1,282.4 1683.2,185.4 1786.8,247.3 1631.6,175.1 1800,380.3 1747.7,213.3 1818.3,365.8 1886.5,341.9 1777.5,344.2 1881.2,409.7 1644,175.8 1641.4,180.7 1862.9,311 1884.8,338.7 1809.7,383.1 1647.8,230.3 1838.8,292 1658.4,188.5 1769.3,342 1883,256 1649.8,157.5 1641.3,213.1 1739.7,201.2 1634.8,211.3 1988.8,451.5 1625.9,172.6 1910,410.5 1661.1,188 1722.6,290 1871.7,320.3 1902.1,374.2 1665,212.8 1849.3,289.6 1697.4,263.9 1923.2,443 1862.9,289.8 1663.8,171.1 1814.6,367.7 1702.3,189.7 1860.6,314.9 1903.1,375 1772.1,236.3 1881,323.2 1637.3,198.2 1854.3,388.8 1721.1,184.9 1752.6,317.3 1651.2,184.7 1634.5,189.2 1684.6,168.1 1749.3,321.2 1889.1,349 1680,184 1918.4,412.3 1941.1,401 1735.8,209.4 1856.8,391 1669.4,178.4 1657.9,191.1 1773.7,235.6 1597.3,171.3 1887.8,421.2 1941.4,449.1 1861.6,394.1 1837.3,288.6 1898.2,355.9 1642.8,145.1 1634.6,154 1730.4,309.7 1587,140 1825.2,264.3 1665.6,147.2 1841.1,296.1 1634.9,157.6 1930.5,469.8 1630.1,161 1820.7,385 1682.9,243 1659.4,180.6 1696.3,261.9 1678.7,263.4 1869.7,399.8 1705.8,271.9 1768.5,224.8 1856.8,394.3 1863.3,314.8 1842.1,294.1 1898.3,403.2 1654.2,171.7 1819.9,255 1637.2,176.8 1905.1,409.3 1649.8,225.1 1929.8,408 1650.2,186.7 1926.6,405.1 1872.9,327 1708.6,194 1883.5,402.9 1766.1,210.1 1684.9,148.8 1742.6,180 1804.1,365.9 1717.1,288 1822.8,278.5 1729.2,300.7 1731.7,209.2 1666.6,214.8 1662.5,177.2 1945,428.4 1874.8,306.2 1814.8,363.7 1882.3,343.3 1828.5,280.1"/>
<g fill="none" stroke="#386898" stroke-width="2.9" transform="translate(1784.5 293.2) rotate(41.1)">
<path d="M157 0L156.5 5.2L155 9.3L152.5 12.9L149.1 16.3L144.6 19.5L139.3 22.4L133 25.1L125.7 27.6L117.6 29.9L108.6 32L98.8 33.8L88.1 35.4L76.6 36.8L64.2 37.9L50.9 38.8L36.5 39.4L20.6 39.8L0 39.9L-20.6 39.8L-36.5 39.4L-50.9 38.8L-64.2 37.9L-76.6 36.8L-88.1 35.4L-98.8 33.8L-108.6 32L-117.6 29.9L-125.7 27.6L-133 25.1L-139.3 22.4L-144.6 19.5L-149.1 16.3L-152.5 12.9L-155 9.3L-156.5 5.2L-157 0L-156.5 -5.2L-155 -9.3L-152.5 -12.9L-149.1 -16.3L-144.6 -19.5L-139.3 -22.4L-133 -25.1L-125.7 -27.6L-117.6 -29.9L-108.6 -32L-98.8 -33.8L-88.1 -35.4L-76.6 -36.8L-64.2 -37.9L-50.9 -38.8L-36.5 -39.4L-20.6 -39.8L0 -39.9L20.6 -39.8L36.5 -39.4L50.9 -38.8L64.2 -37.9L76.6 -36.8L88.1 -35.4L98.8 -33.8L108.6 -32L117.6 -29.9L125.7 -27.6L133 -25.1L139.3 -22.4L144.6 -19.5L149.1 -16.3L152.5 -12.9L155 -9.3L156.5 -5.2Z"/>
<path d="M131 0L130.6 4.5L129.3 8L127.3 11.2L124.4 14.1L120.7 16.8L116.2 19.4L110.9 21.7L104.9 23.9L98.1 25.8L90.6 27.6L82.4 29.2L73.5 30.6L63.9 31.8L53.6 32.8L42.5 33.5L30.5 34.1L17.1 34.4L0 34.5L-17.1 34.4L-30.5 34.1L-42.5 33.5L-53.6 32.8L-63.9 31.8L-73.5 30.6L-82.4 29.2L-90.6 27.6L-98.1 25.8L-104.9 23.9L-110.9 21.7L-116.2 19.4L-120.7 16.8L-124.4 14.1L-127.3 11.2L-129.3 8L-130.6 4.5L-131 0L-130.6 -4.5L-129.3 -8L-127.3 -11.2L-124.4 -14.1L-120.7 -16.8L-116.2 -19.4L-110.9 -21.7L-104.9 -23.9L-98.1 -25.8L-90.6 -27.6L-82.4 -29.2L-73.5 -30.6L-63.9 -31.8L-53.6 -32.8L-42.5 -33.5L-30.5 -34.1L-17.1 -34.4L0 -34.5L17.1 -34.4L30.5 -34.1L42.5 -33.5L53.6 -32.8L63.9 -31.8L73.5 -30.6L82.4 -29.2L90.6 -27.6L98.1 -25.8L104.9 -23.9L110.9 -21.7L116.2 -19.4L120.7 -16.8L124.4 -14.1L127.3 -11.2L129.3 -8L130.6 -4.5Z"/>
<path d="M115 0L114.6 4L113.5 7.1L111.7 9.9L109.2 12.5L105.9 14.9L102 17.1L97.4 19.2L92.1 21.1L86.2 22.8L79.6 24.4L72.4 25.8L64.5 27.1L56.1 28.1L47 29L37.3 29.6L26.7 30.1L15.1 30.4L0 30.5L-15.1 30.4L-26.7 30.1L-37.3 29.6L-47 29L-56.1 28.1L-64.5 27.1L-72.4 25.8L-79.6 24.4L-86.2 22.8L-92.1 21.1L-97.4 19.2L-102 17.1L-105.9 14.9L-109.2 12.5L-111.7 9.9L-113.5 7.1L-114.6 4L-115 0L-114.6 -4L-113.5 -7.1L-111.7 -9.9L-109.2 -12.5L-105.9 -14.9L-102 -17.1L-97.4 -19.2L-92.1 -21.1L-86.2 -22.8L-79.6 -24.4L-72.4 -25.8L-64.5 -27.1L-56.1 -28.1L-47 -29L-37.3 -29.6L-26.7 -30.1L-15.1 -30.4L0 -30.5L15.1 -30.4L26.7 -30.1L37.3 -29.6L47 -29L56.1 -28.1L64.5 -27.1L72.4 -25.8L79.6 -24.4L86.2 -22.8L92.1 -21.1L97.4 -19.2L102 -17.1L105.9 -14.9L109.2 -12.5L111.7 -9.9L113.5 -7.1L114.6 -4Z"/>
<path d="M104 0L103.7 3.6L102.7 6.3L101 8.9L98.7 11.2L95.8 13.3L92.3 15.3L88.1 17.2L83.3 18.9L77.9 20.5L72 21.9L65.4 23.1L58.4 24.2L50.7 25.2L42.5 25.9L33.7 26.5L24.2 27L13.6 27.2L0 27.3L-13.6 27.2L-24.2 27L-33.7 26.5L-42.5 25.9L-50.7 25.2L-58.4 24.2L-65.4 23.1L-72 21.9L-77.9 20.5L-83.3 18.9L-88.1 17.2L-92.3 15.3L-95.8 13.3L-98.7 11.2L-101 8.9L-102.7 6.3L-103.7 3.6L-104 0L-103.7 -3.6L-102.7 -6.3L-101 -8.9L-98.7 -11.2L-95.8 -13.3L-92.3 -15.3L-88.1 -17.2L-83.3 -18.9L-77.9 -20.5L-72 -21.9L-65.4 -23.1L-58.4 -24.2L-50.7 -25.2L-42.5 -25.9L-33.7 -26.5L-24.2 -27L-13.6 -27.2L0 -27.3L13.6 -27.2L24.2 -27L33.7 -26.5L42.5 -25.9L50.7 -25.2L58.4 -24.2L65.4 -23.1L72 -21.9L77.9 -20.5L83.3 -18.9L88.1 -17.2L92.3 -15.3L95.8 -13.3L98.7 -11.2L101 -8.9L102.7 -6.3L103.7 -3.6Z"/>
<path d="M94.5 0L94.2 3.2L93.3 5.7L91.8 7.9L89.7 10L87.1 11.9L83.8 13.7L80 15.4L75.7 16.9L70.8 18.3L65.4 19.5L59.5 20.7L53 21.6L46.1 22.5L38.6 23.2L30.6 23.7L22 24.1L12.4 24.3L0 24.4L-12.4 24.3L-22 24.1L-30.6 23.7L-38.6 23.2L-46.1 22.5L-53 21.6L-59.5 20.7L-65.4 19.5L-70.8 18.3L-75.7 16.9L-80 15.4L-83.8 13.7L-87.1 11.9L-89.7 10L-91.8 7.9L-93.3 5.7L-94.2 3.2L-94.5 0L-94.2 -3.2L-93.3 -5.7L-91.8 -7.9L-89.7 -10L-87.1 -11.9L-83.8 -13.7L-80 -15.4L-75.7 -16.9L-70.8 -18.3L-65.4 -19.5L-59.5 -20.7L-53 -21.6L-46.1 -22.5L-38.6 -23.2L-30.6 -23.7L-22 -24.1L-12.4 -24.3L0 -24.4L12.4 -24.3L22 -24.1L30.6 -23.7L38.6 -23.2L46.1 -22.5L53 -21.6L59.5 -20.7L65.4 -19.5L70.8 -18.3L75.7 -16.9L80 -15.4L83.8 -13.7L87.1 -11.9L89.7 -10L91.8 -7.9L93.3 -5.7L94.2 -3.2Z"/>
<path d="M86 0L85.7 2.8L84.9 5L83.6 7L81.7 8.9L79.2 10.6L76.3 12.2L72.8 13.7L68.9 15L64.4 16.3L59.5 17.4L54.1 18.4L48.3 19.2L42 20L35.2 20.6L27.9 21.1L20 21.4L11.3 21.6L0 21.7L-11.3 21.6L-20 21.4L-27.9 21.1L-35.2 20.6L-42 20L-48.3 19.2L-54.1 18.4L-59.5 17.4L-64.4 16.3L-68.9 15L-72.8 13.7L-76.3 12.2L-79.2 10.6L-81.7 8.9L-83.6 7L-84.9 5L-85.7 2.8L-86 0L-85.7 -2.8L-84.9 -5L-83.6 -7L-81.7 -8.9L-79.2 -10.6L-76.3 -12.2L-72.8 -13.7L-68.9 -15L-64.4 -16.3L-59.5 -17.4L-54.1 -18.4L-48.3 -19.2L-42 -20L-35.2 -20.6L-27.9 -21.1L-20 -21.4L-11.3 -21.6L0 -21.7L11.3 -21.6L20 -21.4L27.9 -21.1L35.2 -20.6L42 -20L48.3 -19.2L54.1 -18.4L59.5 -17.4L64.4 -16.3L68.9 -15L72.8 -13.7L76.3 -12.2L79.2 -10.6L81.7 -8.9L83.6 -7L84.9 -5L85.7 -2.8Z"/>
<path d="M78 0L77.8 2.5L77 4.4L75.8 6.2L74.1 7.8L71.9 9.3L69.2 10.7L66.1 12L62.5 13.1L58.4 14.2L54 15.2L49.1 16.1L43.8 16.9L38.1 17.5L31.9 18L25.3 18.5L18.1 18.8L10.2 18.9L0 19L-10.2 18.9L-18.1 18.8L-25.3 18.5L-31.9 18L-38.1 17.5L-43.8 16.9L-49.1 16.1L-54 15.2L-58.4 14.2L-62.5 13.1L-66.1 12L-69.2 10.7L-71.9 9.3L-74.1 7.8L-75.8 6.2L-77 4.4L-77.8 2.5L-78 0L-77.8 -2.5L-77 -4.4L-75.8 -6.2L-74.1 -7.8L-71.9 -9.3L-69.2 -10.7L-66.1 -12L-62.5 -13.1L-58.4 -14.2L-54 -15.2L-49.1 -16.1L-43.8 -16.9L-38.1 -17.5L-31.9 -18L-25.3 -18.5L-18.1 -18.8L-10.2 -18.9L0 -19L10.2 -18.9L18.1 -18.8L25.3 -18.5L31.9 -18L38.1 -17.5L43.8 -16.9L49.1 -16.1L54 -15.2L58.4 -14.2L62.5 -13.1L66.1 -12L69.2 -10.7L71.9 -9.3L74.1 -7.8L75.8 -6.2L77 -4.4L77.8 -2.5Z"/>
<path d="M70.4 0L70.2 2.1L69.5 3.8L68.4 5.3L66.8 6.7L64.9 8L62.4 9.2L59.6 10.3L56.4 11.3L52.7 12.3L48.7 13.1L44.3 13.9L39.5 14.5L34.3 15.1L28.8 15.6L22.8 15.9L16.4 16.2L9.2 16.3L0 16.4L-9.2 16.3L-16.4 16.2L-22.8 15.9L-28.8 15.6L-34.3 15.1L-39.5 14.5L-44.3 13.9L-48.7 13.1L-52.7 12.3L-56.4 11.3L-59.6 10.3L-62.4 9.2L-64.9 8L-66.8 6.7L-68.4 5.3L-69.5 3.8L-70.2 2.1L-70.4 0L-70.2 -2.1L-69.5 -3.8L-68.4 -5.3L-66.8 -6.7L-64.9 -8L-62.4 -9.2L-59.6 -10.3L-56.4 -11.3L-52.7 -12.3L-48.7 -13.1L-44.3 -13.9L-39.5 -14.5L-34.3 -15.1L-28.8 -15.6L-22.8 -15.9L-16.4 -16.2L-9.2 -16.3L0 -16.4L9.2 -16.3L16.4 -16.2L22.8 -15.9L28.8 -15.6L34.3 -15.1L39.5 -14.5L44.3 -13.9L48.7 -13.1L52.7 -12.3L56.4 -11.3L59.6 -10.3L62.4 -9.2L64.9 -8L66.8 -6.7L68.4 -5.3L69.5 -3.8L70.2 -2.1Z"/>
<path d="M62 0L61.8 1.8L61.2 3.2L60.2 4.5L58.9 5.6L57.1 6.7L55 7.7L52.5 8.7L49.7 9.5L46.4 10.3L42.9 11.1L39 11.7L34.8 12.2L30.2 12.7L25.4 13.1L20.1 13.4L14.4 13.6L8.1 13.8L0 13.8L-8.1 13.8L-14.4 13.6L-20.1 13.4L-25.4 13.1L-30.2 12.7L-34.8 12.2L-39 11.7L-42.9 11.1L-46.4 10.3L-49.7 9.5L-52.5 8.7L-55 7.7L-57.1 6.7L-58.9 5.6L-60.2 4.5L-61.2 3.2L-61.8 1.8L-62 0L-61.8 -1.8L-61.2 -3.2L-60.2 -4.5L-58.9 -5.6L-57.1 -6.7L-55 -7.7L-52.5 -8.7L-49.7 -9.5L-46.4 -10.3L-42.9 -11.1L-39 -11.7L-34.8 -12.2L-30.2 -12.7L-25.4 -13.1L-20.1 -13.4L-14.4 -13.6L-8.1 -13.8L0 -13.8L8.1 -13.8L14.4 -13.6L20.1 -13.4L25.4 -13.1L30.2 -12.7L34.8 -12.2L39 -11.7L42.9 -11.1L46.4 -10.3L49.7 -9.5L52.5 -8.7L55 -7.7L57.1 -6.7L58.9 -5.6L60.2 -4.5L61.2 -3.2L61.8 -1.8Z"/>
<path d="M53 0L52.8 1.5L52.3 2.6L51.5 3.6L50.3 4.6L48.8 5.5L47 6.3L44.9 7L42.4 7.7L39.7 8.4L36.7 9L33.4 9.5L29.7 9.9L25.9 10.3L21.7 10.6L17.2 10.9L12.3 11.1L6.9 11.2L0 11.2L-6.9 11.2L-12.3 11.1L-17.2 10.9L-21.7 10.6L-25.9 10.3L-29.7 9.9L-33.4 9.5L-36.7 9L-39.7 8.4L-42.4 7.7L-44.9 7L-47 6.3L-48.8 5.5L-50.3 4.6L-51.5 3.6L-52.3 2.6L-52.8 1.5L-53 0L-52.8 -1.5L-52.3 -2.6L-51.5 -3.6L-50.3 -4.6L-48.8 -5.5L-47 -6.3L-44.9 -7L-42.4 -7.7L-39.7 -8.4L-36.7 -9L-33.4 -9.5L-29.7 -9.9L-25.9 -10.3L-21.7 -10.6L-17.2 -10.9L-12.3 -11.1L-6.9 -11.2L0 -11.2L6.9 -11.2L12.3 -11.1L17.2 -10.9L21.7 -10.6L25.9 -10.3L29.7 -9.9L33.4 -9.5L36.7 -9L39.7 -8.4L42.4 -7.7L44.9 -7L47 -6.3L48.8 -5.5L50.3 -4.6L51.5 -3.6L52.3 -2.6L52.8 -1.5Z"/>
<path d="M44 0L43.9 1.1L43.4 2L42.7 2.8L41.8 3.5L40.5 4.2L39 4.8L37.3 5.4L35.2 6L33 6.4L30.4 6.9L27.7 7.3L24.7 7.6L21.5 7.9L18 8.2L14.3 8.4L10.2 8.5L5.8 8.6L0 8.6L-5.8 8.6L-10.2 8.5L-14.3 8.4L-18 8.2L-21.5 7.9L-24.7 7.6L-27.7 7.3L-30.4 6.9L-33 6.4L-35.2 6L-37.3 5.4L-39 4.8L-40.5 4.2L-41.8 3.5L-42.7 2.8L-43.4 2L-43.9 1.1L-44 0L-43.9 -1.1L-43.4 -2L-42.7 -2.8L-41.8 -3.5L-40.5 -4.2L-39 -4.8L-37.3 -5.4L-35.2 -6L-33 -6.4L-30.4 -6.9L-27.7 -7.3L-24.7 -7.6L-21.5 -7.9L-18 -8.2L-14.3 -8.4L-10.2 -8.5L-5.8 -8.6L0 -8.6L5.8 -8.6L10.2 -8.5L14.3 -8.4L18 -8.2L21.5 -7.9L24.7 -7.6L27.7 -7.3L30.4 -6.9L33 -6.4L35.2 -6L37.3 -5.4L39 -4.8L40.5 -4.2L41.8 -3.5L42.7 -2.8L43.4 -2L43.9 -1.1Z"/>
<path d="M35 0L34.9 0.8L34.6 1.4L34 1.9L33.2 2.5L32.2 2.9L31 3.4L29.6 3.8L28 4.2L26.2 4.5L24.2 4.8L22 5.1L19.6 5.3L17.1 5.5L14.3 5.7L11.3 5.8L8.1 5.9L4.6 6L0 6L-4.6 6L-8.1 5.9L-11.3 5.8L-14.3 5.7L-17.1 5.5L-19.6 5.3L-22 5.1L-24.2 4.8L-26.2 4.5L-28 4.2L-29.6 3.8L-31 3.4L-32.2 2.9L-33.2 2.5L-34 1.9L-34.6 1.4L-34.9 0.8L-35 0L-34.9 -0.8L-34.6 -1.4L-34 -1.9L-33.2 -2.5L-32.2 -2.9L-31 -3.4L-29.6 -3.8L-28 -4.2L-26.2 -4.5L-24.2 -4.8L-22 -5.1L-19.6 -5.3L-17.1 -5.5L-14.3 -5.7L-11.3 -5.8L-8.1 -5.9L-4.6 -6L0 -6L4.6 -6L8.1 -5.9L11.3 -5.8L14.3 -5.7L17.1 -5.5L19.6 -5.3L22 -5.1L24.2 -4.8L26.2 -4.5L28 -4.2L29.6 -3.8L31 -3.4L32.2 -2.9L33.2 -2.5L34 -1.9L34.6 -1.4L34.9 -0.8Z"/>
</g>
<g stroke="#000" stroke-width="2.8" stroke-linecap="round" stroke-dasharray="10.37 10.37" fill="none">
<path d="M1784.5 551.2V35.3"/>
<path d="M1517 293.2H2052.5"/>
</g>
<g stroke="#B8860B" fill="none" stroke-linecap="round"><circle cx="1899.8" cy="369.6" r="14.7" stroke-width="4.3"/><path d="M1895 364.8l9.6 9.6M1895 374.4l9.6 -9.6" stroke-width="3.4"/></g>
<rect x="1517" y="35.3" width="535.5" height="515.9" fill="none" stroke="#000" stroke-width="3.0"/>
<g stroke="#000" stroke-width="2.8" stroke-linecap="round" fill="none">
<path d="M1500.3 132.8H1517M1500.3 213H1517M1500.3 293.2H1517M1500.3 373.4H1517M1500.3 453.6H1517"/>
<path d="M1565.5 551.2V567.9M1675 551.2V567.9M1784.5 551.2V567.9M1894 551.2V567.9M2003.5 551.2V567.9"/>
</g>
<g font-size="52.2" text-anchor="end" stroke="#000" stroke-width="0.7" stroke-linejoin="round">
<text x="1483.6" y="151.3">2</text>
<text x="1483.6" y="231.5">1</text>
<text x="1483.6" y="311.7">0</text>
<text x="1483.6" y="391.9">-1</text>
<text x="1483.6" y="472.1">-2</text>
</g>
<g font-size="52.2" text-anchor="middle" stroke="#000" stroke-width="0.7" stroke-linejoin="round">
<text x="1565.5" y="611.4">-2</text>
<text x="1675" y="611.4">-1</text>
<text x="1784.5" y="611.4">0</text>
<text x="1894" y="611.4">1</text>
<text x="2003.5" y="611.4">2</text>
</g>
<text y="665.8" font-size="49.6" stroke="#000" stroke-width="0.7" stroke-linejoin="round"><tspan x="1502.23">Precipitation</tspan><tspan xml:space="preserve"> coef. (</tspan><tspan x="1921.84" dy="1.4" font-family="DejaVu Sans" font-size="44.5" stroke-width="0.3">×</tspan><tspan x="1954.11" dy="-1.4">10</tspan><tspan x="2008.68" dy="-22.4" font-size="34.72" stroke-width="0">−</tspan><tspan x="2028.34" dy="-2.9" font-size="34.72">4</tspan><tspan x="2047.65" dy="25.3">)</tspan></text>
<text transform="translate(1402.6 293) rotate(-90)" font-size="49.6" stroke="#000" stroke-width="0.7" stroke-linejoin="round"><tspan x="-297.53">Precipitation</tspan><tspan x="-24.58" dy="-25.3" font-size="34.72">2</tspan><tspan x="-5.27" dy="25.3" xml:space="preserve"> coef.  (</tspan><tspan x="155.2" dy="1.4" font-family="DejaVu Sans" font-size="44.5" stroke-width="0.3">×</tspan><tspan x="187.46" dy="-1.4">10</tspan><tspan x="242.03" dy="-22.4" font-size="34.72" stroke-width="0">−</tspan><tspan x="261.69" dy="-2.9" font-size="34.72">7</tspan><tspan x="281.01" dy="25.3">)</tspan></text>
<text x="1785.4" y="68.4" font-size="33.2" text-anchor="middle" stroke="#000" stroke-width="0.45">Reshuffled countries</text>
<text x="1539.5" y="110.9" font-size="83" font-weight="bold">f</text>
</g>
<g font-size="41.2" text-anchor="middle" fill="#B8860B" stroke="#B8860B" stroke-width="0.5"><text x="1579.7" y="311.8">Sample</text><text x="1579.7" y="353.2">estimate</text></g>
<g font-size="41.2" text-anchor="middle" fill="#4D4D4D" stroke="#4D4D4D" stroke-width="0.5"><text x="1909.2" y="150">Reshuffled</text><text x="1909.2" y="188.1">estimates</text><text x="1909.2" y="227.6">(n=10<tspan font-size="28.5" dy="-19">4</tspan><tspan dy="19">)</tspan></text></g>
<g fill="none" stroke-linecap="round" stroke-linejoin="round">
<path d="M1580 276.1 C1589 258 1597 241 1603.5 231 C1613 217 1628 208 1649.5 204.2" stroke="#BC8A0D" stroke-width="5"/>
<path d="M1630.5 200.6 Q1641 201.5 1650.3 204 Q1642.5 211 1638.2 220.2" stroke="#BC8A0D" stroke-width="4.6"/>
<path d="M1907.5 236.4 C1899 252 1891 261 1883 266.5 C1876 269.6 1868 269.8 1858.5 269.4" stroke="#4D4D4D" stroke-width="4.5"/>
<path d="M1873.9 259.8 L1857.6 269.4 L1874.2 278.8" stroke="#4D4D4D" stroke-width="2.8"/>
</g>
</svg>
</body></html>
